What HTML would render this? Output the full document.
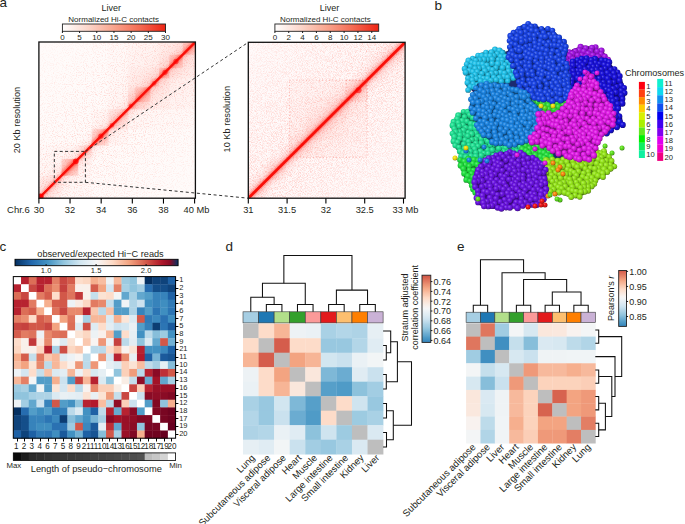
<!DOCTYPE html>
<html><head><meta charset="utf-8"><style>
html,body{margin:0;padding:0;background:#fff;}
body{width:685px;height:524px;overflow:hidden;}
svg{display:block;font-family:"Liberation Sans", sans-serif;}
</style></head><body>
<svg width="685" height="524" viewBox="0 0 685 524">
<text x="-0.60" y="7.20" font-size="13.5" text-anchor="start" fill="#231f20" >a</text>
<text x="434.60" y="9.90" font-size="13.5" text-anchor="start" fill="#231f20" >b</text>
<text x="-0.40" y="251.00" font-size="13.5" text-anchor="start" fill="#231f20" >c</text>
<text x="225.40" y="250.80" font-size="13.5" text-anchor="start" fill="#231f20" >d</text>
<text x="457.00" y="250.90" font-size="13.5" text-anchor="start" fill="#231f20" >e</text>
<clipPath id="clipL"><rect x="38.9" y="42.0" width="156.5" height="156.2"/></clipPath>
<filter id="nzL" x="0" y="0" width="100%" height="100%" filterUnits="objectBoundingBox"><feTurbulence type="fractalNoise" baseFrequency="0.9" numOctaves="2" seed="5" result="t"/><feColorMatrix in="t" type="matrix" values="0 0 0 0 1  0 0 0 0 0.25  0 0 0 0 0.2  1.6 0 0 0 -0.78"/></filter>
<linearGradient id="tgL" x1="0" y1="0" x2="1" y2="1"><stop offset="0" stop-color="#ff2a10" stop-opacity="0.2"/><stop offset="0.3" stop-color="#ff2a10" stop-opacity="0.45"/><stop offset="0.5" stop-color="#ff2a10" stop-opacity="1"/><stop offset="0.7" stop-color="#ff2a10" stop-opacity="0.45"/><stop offset="1" stop-color="#ff2a10" stop-opacity="0.2"/></linearGradient>
<g clip-path="url(#clipL)">
<rect x="38.9" y="42.0" width="156.5" height="156.2" fill="#fffbfa"/>
<rect x="38.90" y="145.36" width="52.94" height="52.84" fill="url(#tgL)" fill-opacity="0.04"/>
<rect x="127.65" y="41.24" width="68.51" height="68.38" fill="url(#tgL)" fill-opacity="0.06"/>
<rect x="38.90" y="175.67" width="22.58" height="22.53" fill="url(#tgL)" fill-opacity="0.09"/>
<rect x="107.41" y="41.24" width="88.75" height="88.58" fill="url(#tgL)" fill-opacity="0.03"/>
<rect x="127.65" y="67.66" width="42.04" height="41.96" fill="url(#tgL)" fill-opacity="0.05"/>
<rect x="158.79" y="41.24" width="37.37" height="37.30" fill="url(#tgL)" fill-opacity="0.07"/>
<rect x="91.68" y="109.00" width="36.59" height="36.52" fill="url(#tgL)" fill-opacity="0.05"/>
<rect x="61.48" y="158.88" width="16.82" height="16.78" fill="url(#tgL)" fill-opacity="0.5"/>
<rect x="66.15" y="159.35" width="11.68" height="11.66" fill="url(#tgL)" fill-opacity="0.15"/>
<rect x="70.82" y="159.35" width="7.01" height="6.99" fill="url(#tgL)" fill-opacity="0.18"/>
<rect x="78.29" y="145.52" width="13.39" height="13.36" fill="url(#tgL)" fill-opacity="0.12"/>
<rect x="91.68" y="128.74" width="16.82" height="16.78" fill="url(#tgL)" fill-opacity="0.38"/>
<rect x="96.51" y="129.82" width="10.90" height="10.88" fill="url(#tgL)" fill-opacity="0.15"/>
<rect x="108.50" y="109.00" width="19.77" height="19.74" fill="url(#tgL)" fill-opacity="0.12"/>
<rect x="128.27" y="87.55" width="21.49" height="21.45" fill="url(#tgL)" fill-opacity="0.12"/>
<rect x="135.28" y="86.78" width="15.26" height="15.23" fill="url(#tgL)" fill-opacity="0.32"/>
<rect x="128.27" y="101.85" width="7.16" height="7.15" fill="url(#tgL)" fill-opacity="0.18"/>
<rect x="150.23" y="78.23" width="8.87" height="8.86" fill="url(#tgL)" fill-opacity="0.26"/>
<rect x="159.10" y="68.13" width="10.12" height="10.10" fill="url(#tgL)" fill-opacity="0.42"/>
<rect x="169.22" y="54.61" width="13.55" height="13.52" fill="url(#tgL)" fill-opacity="0.42"/>
<rect x="182.77" y="41.24" width="13.39" height="13.36" fill="url(#tgL)" fill-opacity="0.38"/>
<linearGradient id="mgL" x1="0" y1="0" x2="1" y2="1"><stop offset="0" stop-color="#fff" stop-opacity="0.12"/><stop offset="0.5" stop-color="#fff" stop-opacity="1"/><stop offset="1" stop-color="#fff" stop-opacity="0.12"/></linearGradient>
<mask id="mkL" maskUnits="userSpaceOnUse" x="38.9" y="42.0" width="156.5" height="156.2"><rect x="38.9" y="42.0" width="156.5" height="156.2" fill="url(#mgL)"/></mask>
<g mask="url(#mkL)"><rect x="38.9" y="42.0" width="156.5" height="156.2" fill="#f00" filter="url(#nzL)" opacity="0.7"/></g>
<g transform="translate(117.15 120.10) rotate(-44.945)">
<linearGradient id="bgL" x1="0" y1="-14" x2="0" y2="14" gradientUnits="userSpaceOnUse"><stop offset="0.0000" stop-color="#ff1a10" stop-opacity="0"/><stop offset="0.1786" stop-color="#ff1a10" stop-opacity="0.018"/><stop offset="0.3214" stop-color="#ff1a10" stop-opacity="0.045"/><stop offset="0.3929" stop-color="#ff1a10" stop-opacity="0.11"/><stop offset="0.4464" stop-color="#ff1a10" stop-opacity="0.3"/><stop offset="0.4679" stop-color="#ff1a10" stop-opacity="0.85"/><stop offset="0.5000" stop-color="#ff1a10" stop-opacity="1"/><stop offset="0.5321" stop-color="#ff1a10" stop-opacity="0.85"/><stop offset="0.5536" stop-color="#ff1a10" stop-opacity="0.3"/><stop offset="0.6071" stop-color="#ff1a10" stop-opacity="0.11"/><stop offset="0.6786" stop-color="#ff1a10" stop-opacity="0.045"/><stop offset="0.8214" stop-color="#ff1a10" stop-opacity="0.018"/><stop offset="1.0000" stop-color="#ff1a10" stop-opacity="0"/></linearGradient>
<rect x="-115.56" y="-14" width="231.11" height="28" fill="url(#bgL)"/>
<rect x="-115.56" y="-0.90" width="231.11" height="1.80" fill="#f8100a"/>
</g>
<circle cx="40.46" cy="196.65" r="3.2" fill="#ff0000" fill-opacity="0.9"/>
<circle cx="75.80" cy="161.37" r="2.8" fill="#ff0000" fill-opacity="0.75"/>
<circle cx="100.87" cy="136.04" r="2.6" fill="#ff0000" fill-opacity="0.6"/>
<circle cx="111.92" cy="125.32" r="2.2" fill="#ff0000" fill-opacity="0.5"/>
<circle cx="130.76" cy="105.74" r="2.0" fill="#ff0000" fill-opacity="0.5"/>
<circle cx="154.12" cy="83.20" r="2.2" fill="#ff0000" fill-opacity="0.45"/>
<circle cx="165.02" cy="72.32" r="2.6" fill="#ff0000" fill-opacity="0.55"/>
<circle cx="175.92" cy="61.45" r="2.6" fill="#ff0000" fill-opacity="0.55"/>
</g>
<rect x="38.9" y="42.0" width="156.5" height="156.2" fill="none" stroke="#111" stroke-width="1.3" />
<clipPath id="clipR"><rect x="248.3" y="42.3" width="156.8" height="155.89999999999998"/></clipPath>
<filter id="nzR" x="0" y="0" width="100%" height="100%" filterUnits="objectBoundingBox"><feTurbulence type="fractalNoise" baseFrequency="1.2" numOctaves="2" seed="9" result="t"/><feColorMatrix in="t" type="matrix" values="0 0 0 0 1  0 0 0 0 0.25  0 0 0 0 0.2  1.5 0 0 0 -0.62"/></filter>
<linearGradient id="tgR" x1="0" y1="0" x2="1" y2="1"><stop offset="0" stop-color="#ff2a10" stop-opacity="0.2"/><stop offset="0.3" stop-color="#ff2a10" stop-opacity="0.45"/><stop offset="0.5" stop-color="#ff2a10" stop-opacity="1"/><stop offset="0.7" stop-color="#ff2a10" stop-opacity="0.45"/><stop offset="1" stop-color="#ff2a10" stop-opacity="0.2"/></linearGradient>
<g clip-path="url(#clipR)">
<rect x="248.3" y="42.3" width="156.8" height="155.89999999999998" fill="#fffafa"/>
<rect x="248.30" y="178.91" width="19.40" height="19.29" fill="url(#tgR)" fill-opacity="0.04"/>
<rect x="266.15" y="160.39" width="20.18" height="20.06" fill="url(#tgR)" fill-opacity="0.08"/>
<rect x="289.43" y="80.15" width="77.60" height="77.15" fill="url(#tgR)" fill-opacity="0.065"/>
<rect x="306.50" y="97.90" width="42.68" height="42.44" fill="url(#tgR)" fill-opacity="0.04"/>
<rect x="346.08" y="80.15" width="20.95" height="20.83" fill="url(#tgR)" fill-opacity="0.12"/>
<rect x="367.03" y="40.03" width="40.35" height="40.12" fill="url(#tgR)" fill-opacity="0.03"/>
<linearGradient id="mgR" x1="0" y1="0" x2="1" y2="1"><stop offset="0" stop-color="#fff" stop-opacity="0.3"/><stop offset="0.5" stop-color="#fff" stop-opacity="1"/><stop offset="1" stop-color="#fff" stop-opacity="0.3"/></linearGradient>
<mask id="mkR" maskUnits="userSpaceOnUse" x="248.3" y="42.3" width="156.8" height="155.89999999999998"><rect x="248.3" y="42.3" width="156.8" height="155.89999999999998" fill="url(#mgR)"/></mask>
<g mask="url(#mkR)"><rect x="248.3" y="42.3" width="156.8" height="155.89999999999998" fill="#f00" filter="url(#nzR)" opacity="0.75"/></g>
<g transform="translate(326.70 120.25) rotate(-44.835)">
<linearGradient id="bgR" x1="0" y1="-14" x2="0" y2="14" gradientUnits="userSpaceOnUse"><stop offset="0.0000" stop-color="#ff1a10" stop-opacity="0"/><stop offset="0.2143" stop-color="#ff1a10" stop-opacity="0.04"/><stop offset="0.3214" stop-color="#ff1a10" stop-opacity="0.1"/><stop offset="0.3929" stop-color="#ff1a10" stop-opacity="0.22"/><stop offset="0.4393" stop-color="#ff1a10" stop-opacity="0.45"/><stop offset="0.4661" stop-color="#ff1a10" stop-opacity="0.9"/><stop offset="0.5000" stop-color="#ff1a10" stop-opacity="1"/><stop offset="0.5339" stop-color="#ff1a10" stop-opacity="0.9"/><stop offset="0.5607" stop-color="#ff1a10" stop-opacity="0.45"/><stop offset="0.6071" stop-color="#ff1a10" stop-opacity="0.22"/><stop offset="0.6786" stop-color="#ff1a10" stop-opacity="0.1"/><stop offset="0.7857" stop-color="#ff1a10" stop-opacity="0.04"/><stop offset="1.0000" stop-color="#ff1a10" stop-opacity="0"/></linearGradient>
<rect x="-115.56" y="-14" width="231.11" height="28" fill="url(#bgR)"/>
<rect x="-115.56" y="-1.15" width="231.11" height="2.30" fill="#f8100a"/>
</g>
<circle cx="358.49" cy="90.18" r="3.0" fill="#ff0000" fill-opacity="0.55"/>
<circle cx="302.62" cy="144.19" r="1.5" fill="#ff0000" fill-opacity="0.3"/>
</g>
<rect x="248.3" y="42.3" width="156.8" height="155.89999999999998" fill="none" stroke="#111" stroke-width="1.3" />
<rect x="289.43" y="80.15" width="77.60" height="77.15" fill="none" stroke="#f45040" stroke-width="0.9" stroke-opacity="0.45" stroke-dasharray="0.9 2.4"/>
<rect x="346.08" y="80.15" width="20.95" height="20.83" fill="none" stroke="#f45040" stroke-width="0.9" stroke-opacity="0.45" stroke-dasharray="0.9 2.4"/>
<defs><linearGradient id="hcg" x1="0" x2="1" y1="0" y2="0"><stop offset="0" stop-color="#ffffff"/><stop offset="0.25" stop-color="#fcd6ca"/><stop offset="0.5" stop-color="#f9a48d"/><stop offset="0.75" stop-color="#f46a52"/><stop offset="1" stop-color="#ee2414"/></linearGradient></defs>
<rect x="62.40" y="24.00" width="103.10" height="7.30" fill="url(#hcg)" stroke="#222" stroke-width="0.9"/>
<line x1="62.40" y1="31.30" x2="62.40" y2="33.00" stroke="#000" stroke-width="0.9" />
<text x="62.40" y="39.80" font-size="8" text-anchor="middle" fill="#231f20" >0</text>
<line x1="79.58" y1="31.30" x2="79.58" y2="33.00" stroke="#000" stroke-width="0.9" />
<text x="79.58" y="39.80" font-size="8" text-anchor="middle" fill="#231f20" >5</text>
<line x1="96.77" y1="31.30" x2="96.77" y2="33.00" stroke="#000" stroke-width="0.9" />
<text x="96.77" y="39.80" font-size="8" text-anchor="middle" fill="#231f20" >10</text>
<line x1="113.95" y1="31.30" x2="113.95" y2="33.00" stroke="#000" stroke-width="0.9" />
<text x="113.95" y="39.80" font-size="8" text-anchor="middle" fill="#231f20" >15</text>
<line x1="131.13" y1="31.30" x2="131.13" y2="33.00" stroke="#000" stroke-width="0.9" />
<text x="131.13" y="39.80" font-size="8" text-anchor="middle" fill="#231f20" >20</text>
<line x1="148.32" y1="31.30" x2="148.32" y2="33.00" stroke="#000" stroke-width="0.9" />
<text x="148.32" y="39.80" font-size="8" text-anchor="middle" fill="#231f20" >25</text>
<line x1="165.50" y1="31.30" x2="165.50" y2="33.00" stroke="#000" stroke-width="0.9" />
<text x="165.50" y="39.80" font-size="8" text-anchor="middle" fill="#231f20" >30</text>
<text x="111.30" y="10.90" font-size="9" text-anchor="middle" fill="#231f20" >Liver</text>
<text x="113.70" y="22.00" font-size="8" text-anchor="middle" fill="#231f20" >Normalized Hi-C contacts</text>
<rect x="274.90" y="24.00" width="103.80" height="7.30" fill="url(#hcg)" stroke="#222" stroke-width="0.9"/>
<line x1="274.90" y1="31.30" x2="274.90" y2="33.00" stroke="#000" stroke-width="0.9" />
<text x="274.90" y="39.80" font-size="8" text-anchor="middle" fill="#231f20" >0</text>
<line x1="288.74" y1="31.30" x2="288.74" y2="33.00" stroke="#000" stroke-width="0.9" />
<text x="288.74" y="39.80" font-size="8" text-anchor="middle" fill="#231f20" >2</text>
<line x1="302.58" y1="31.30" x2="302.58" y2="33.00" stroke="#000" stroke-width="0.9" />
<text x="302.58" y="39.80" font-size="8" text-anchor="middle" fill="#231f20" >4</text>
<line x1="316.42" y1="31.30" x2="316.42" y2="33.00" stroke="#000" stroke-width="0.9" />
<text x="316.42" y="39.80" font-size="8" text-anchor="middle" fill="#231f20" >6</text>
<line x1="330.26" y1="31.30" x2="330.26" y2="33.00" stroke="#000" stroke-width="0.9" />
<text x="330.26" y="39.80" font-size="8" text-anchor="middle" fill="#231f20" >8</text>
<line x1="344.10" y1="31.30" x2="344.10" y2="33.00" stroke="#000" stroke-width="0.9" />
<text x="344.10" y="39.80" font-size="8" text-anchor="middle" fill="#231f20" >10</text>
<line x1="357.94" y1="31.30" x2="357.94" y2="33.00" stroke="#000" stroke-width="0.9" />
<text x="357.94" y="39.80" font-size="8" text-anchor="middle" fill="#231f20" >12</text>
<line x1="371.78" y1="31.30" x2="371.78" y2="33.00" stroke="#000" stroke-width="0.9" />
<text x="371.78" y="39.80" font-size="8" text-anchor="middle" fill="#231f20" >14</text>
<text x="329.50" y="10.90" font-size="9" text-anchor="middle" fill="#231f20" >Liver</text>
<text x="325.30" y="22.00" font-size="8" text-anchor="middle" fill="#231f20" >Normalized Hi-C contacts</text>
<line x1="38.90" y1="198.20" x2="38.90" y2="203.60" stroke="#000" stroke-width="1.1" />
<text x="38.90" y="213.00" font-size="9.3" text-anchor="middle" fill="#231f20" >30</text>
<line x1="70.04" y1="198.20" x2="70.04" y2="203.60" stroke="#000" stroke-width="1.1" />
<text x="70.04" y="213.00" font-size="9.3" text-anchor="middle" fill="#231f20" >32</text>
<line x1="101.18" y1="198.20" x2="101.18" y2="203.60" stroke="#000" stroke-width="1.1" />
<text x="101.18" y="213.00" font-size="9.3" text-anchor="middle" fill="#231f20" >34</text>
<line x1="132.32" y1="198.20" x2="132.32" y2="203.60" stroke="#000" stroke-width="1.1" />
<text x="132.32" y="213.00" font-size="9.3" text-anchor="middle" fill="#231f20" >36</text>
<line x1="163.46" y1="198.20" x2="163.46" y2="203.60" stroke="#000" stroke-width="1.1" />
<text x="163.46" y="213.00" font-size="9.3" text-anchor="middle" fill="#231f20" >38</text>
<line x1="194.60" y1="198.20" x2="194.60" y2="203.60" stroke="#000" stroke-width="1.1" />
<text x="196.50" y="213.00" font-size="9.3" text-anchor="middle" fill="#231f20" >40 Mb</text>
<text x="18.40" y="213.00" font-size="9.5" text-anchor="middle" fill="#231f20" >Chr.6</text>
<line x1="248.30" y1="198.20" x2="248.30" y2="203.60" stroke="#000" stroke-width="1.1" />
<text x="248.30" y="213.00" font-size="9.3" text-anchor="middle" fill="#231f20" >31</text>
<line x1="287.10" y1="198.20" x2="287.10" y2="203.60" stroke="#000" stroke-width="1.1" />
<text x="287.10" y="213.00" font-size="9.3" text-anchor="middle" fill="#231f20" >31.5</text>
<line x1="325.90" y1="198.20" x2="325.90" y2="203.60" stroke="#000" stroke-width="1.1" />
<text x="325.90" y="213.00" font-size="9.3" text-anchor="middle" fill="#231f20" >32</text>
<line x1="364.70" y1="198.20" x2="364.70" y2="203.60" stroke="#000" stroke-width="1.1" />
<text x="364.70" y="213.00" font-size="9.3" text-anchor="middle" fill="#231f20" >32.5</text>
<line x1="403.50" y1="198.20" x2="403.50" y2="203.60" stroke="#000" stroke-width="1.1" />
<text x="405.40" y="213.00" font-size="9.3" text-anchor="middle" fill="#231f20" >33 Mb</text>
<text font-size="9.2" fill="#231f20" text-anchor="middle" transform="translate(20.3 120.1) rotate(-90)">20 Kb resolution</text>
<text font-size="9.2" fill="#231f20" text-anchor="middle" transform="translate(230.0 119.2) rotate(-90)">10 Kb resolution</text>
<rect x="54.3" y="151.4" width="31.1" height="30.9" fill="none" stroke="#333" stroke-width="1" stroke-dasharray="3 2.4"/>
<line x1="85.4" y1="151.4" x2="248.3" y2="42.3" stroke="#333" stroke-width="1" stroke-dasharray="3 2.6"/>
<line x1="85.4" y1="182.3" x2="248.3" y2="198.2" stroke="#333" stroke-width="1" stroke-dasharray="3 2.6"/>
<defs><radialGradient id="sp_gap1" cx="0.42" cy="0.4" r="0.62" fx="0.38" fy="0.34"><stop offset="0" stop-color="#6ee373"/><stop offset="0.4" stop-color="#30d838"/><stop offset="0.8" stop-color="#27b12d"/><stop offset="1" stop-color="#186c1c"/></radialGradient><radialGradient id="sp_teal2" cx="0.42" cy="0.4" r="0.62" fx="0.38" fy="0.34"><stop offset="0" stop-color="#62e9b2"/><stop offset="0.4" stop-color="#20e092"/><stop offset="0.8" stop-color="#1ab777"/><stop offset="1" stop-color="#107049"/></radialGradient><radialGradient id="sp_gap2" cx="0.42" cy="0.4" r="0.62" fx="0.38" fy="0.34"><stop offset="0" stop-color="#68e979"/><stop offset="0.4" stop-color="#28e040"/><stop offset="0.8" stop-color="#20b734"/><stop offset="1" stop-color="#147020"/></radialGradient><radialGradient id="sp_purple" cx="0.42" cy="0.4" r="0.62" fx="0.38" fy="0.34"><stop offset="0" stop-color="#bf5bea"/><stop offset="0.4" stop-color="#a416e2"/><stop offset="0.8" stop-color="#8612b9"/><stop offset="1" stop-color="#520b71"/></radialGradient><radialGradient id="sp_navy" cx="0.42" cy="0.4" r="0.62" fx="0.38" fy="0.34"><stop offset="0" stop-color="#5e59e6"/><stop offset="0.4" stop-color="#1a12dc"/><stop offset="0.8" stop-color="#150eb4"/><stop offset="1" stop-color="#0d096e"/></radialGradient><radialGradient id="sp_cyan" cx="0.42" cy="0.4" r="0.62" fx="0.38" fy="0.34"><stop offset="0" stop-color="#64d4f0"/><stop offset="0.4" stop-color="#22c2ea"/><stop offset="0.8" stop-color="#1b9fbf"/><stop offset="1" stop-color="#116175"/></radialGradient><radialGradient id="sp_royal" cx="0.42" cy="0.4" r="0.62" fx="0.38" fy="0.34"><stop offset="0" stop-color="#5e7ced"/><stop offset="0.4" stop-color="#1a44e6"/><stop offset="0.8" stop-color="#1537bc"/><stop offset="1" stop-color="#0d2273"/></radialGradient><radialGradient id="sp_teal" cx="0.42" cy="0.4" r="0.62" fx="0.38" fy="0.34"><stop offset="0" stop-color="#62e9b2"/><stop offset="0.4" stop-color="#20e092"/><stop offset="0.8" stop-color="#1ab777"/><stop offset="1" stop-color="#107049"/></radialGradient><radialGradient id="sp_green" cx="0.42" cy="0.4" r="0.62" fx="0.38" fy="0.34"><stop offset="0" stop-color="#64e979"/><stop offset="0.4" stop-color="#22e040"/><stop offset="0.8" stop-color="#1bb734"/><stop offset="1" stop-color="#117020"/></radialGradient><radialGradient id="sp_mid" cx="0.42" cy="0.4" r="0.62" fx="0.38" fy="0.34"><stop offset="0" stop-color="#60a8ea"/><stop offset="0.4" stop-color="#1c84e2"/><stop offset="0.8" stop-color="#166cb9"/><stop offset="1" stop-color="#0e4271"/></radialGradient><radialGradient id="sp_ygreen" cx="0.42" cy="0.4" r="0.62" fx="0.38" fy="0.34"><stop offset="0" stop-color="#b5ed60"/><stop offset="0.4" stop-color="#96e61c"/><stop offset="0.8" stop-color="#7abc16"/><stop offset="1" stop-color="#4b730e"/></radialGradient><radialGradient id="sp_magenta" cx="0.42" cy="0.4" r="0.62" fx="0.38" fy="0.34"><stop offset="0" stop-color="#e960ed"/><stop offset="0.4" stop-color="#e01ce6"/><stop offset="0.8" stop-color="#b716bc"/><stop offset="1" stop-color="#700e73"/></radialGradient><radialGradient id="sp_violet" cx="0.42" cy="0.4" r="0.62" fx="0.38" fy="0.34"><stop offset="0" stop-color="#965aea"/><stop offset="0.4" stop-color="#6a14e2"/><stop offset="0.8" stop-color="#5610b9"/><stop offset="1" stop-color="#350a71"/></radialGradient><radialGradient id="sp_red" cx="0.42" cy="0.4" r="0.62" fx="0.38" fy="0.34"><stop offset="0" stop-color="#f45d5d"/><stop offset="0.4" stop-color="#f01818"/><stop offset="0.8" stop-color="#c41313"/><stop offset="1" stop-color="#780c0c"/></radialGradient><radialGradient id="sp_orange" cx="0.42" cy="0.4" r="0.62" fx="0.38" fy="0.34"><stop offset="0" stop-color="#faad57"/><stop offset="0.4" stop-color="#f88a10"/><stop offset="0.8" stop-color="#cb710d"/><stop offset="1" stop-color="#7c4508"/></radialGradient><radialGradient id="sp_yellow" cx="0.42" cy="0.4" r="0.62" fx="0.38" fy="0.34"><stop offset="0" stop-color="#f4e957"/><stop offset="0.4" stop-color="#f0e010"/><stop offset="0.8" stop-color="#c4b70d"/><stop offset="1" stop-color="#787008"/></radialGradient><radialGradient id="sp_lgreen" cx="0.42" cy="0.4" r="0.62" fx="0.38" fy="0.34"><stop offset="0" stop-color="#8fe962"/><stop offset="0.4" stop-color="#60e020"/><stop offset="0.8" stop-color="#4eb71a"/><stop offset="1" stop-color="#307010"/></radialGradient><radialGradient id="sp_cyan2" cx="0.42" cy="0.4" r="0.62" fx="0.38" fy="0.34"><stop offset="0" stop-color="#64d4f0"/><stop offset="0.4" stop-color="#22c2ea"/><stop offset="0.8" stop-color="#1b9fbf"/><stop offset="1" stop-color="#116175"/></radialGradient><radialGradient id="sp_mid2" cx="0.42" cy="0.4" r="0.62" fx="0.38" fy="0.34"><stop offset="0" stop-color="#60a8ea"/><stop offset="0.4" stop-color="#1c84e2"/><stop offset="0.8" stop-color="#166cb9"/><stop offset="1" stop-color="#0e4271"/></radialGradient></defs>
<polygon points="453.8,133.0 455.5,145.1 459.9,150.8 460.3,151.4 460.6,152.1 460.9,152.7 461.1,153.4 461.3,154.1 461.6,156.5 461.7,157.2 461.7,157.9 461.6,158.5 461.5,159.2 461.3,159.9 461.2,160.1 462.8,165.1 462.9,165.4 466.3,177.6 473.2,186.2 473.6,186.7 476.8,191.4 477.1,192.0 477.4,192.5 477.6,193.1 477.7,193.7 477.9,194.3 479.0,202.6 486.8,206.5 504.4,207.4 522.3,205.6 522.4,205.6 536.2,203.8 543.2,197.0 543.6,195.0 543.8,194.3 544.1,193.7 544.4,193.1 544.7,192.5 545.1,192.0 545.6,191.5 546.1,191.1 546.7,190.7 547.2,190.4 547.9,190.1 548.5,189.9 549.2,189.7 549.8,189.6 550.5,189.6 551.2,189.6 551.8,189.7 558.2,191.0 559.1,191.2 569.5,194.8 569.6,194.8 576.1,196.4 582.5,193.2 591.1,186.2 596.0,179.8 596.5,179.2 597.1,178.6 597.7,178.2 607.7,171.6 613.0,165.4 610.9,159.7 604.4,153.2 602.4,152.9 601.8,152.8 601.1,152.6 600.5,152.3 599.9,152.0 599.3,151.6 598.7,151.2 598.3,150.7 597.8,150.2 597.4,149.6 597.1,149.0 596.8,148.3 596.6,147.7 596.5,147.0 596.4,146.3 596.4,145.6 596.5,144.9 596.6,144.3 596.8,143.6 598.7,138.6 599.0,137.9 599.3,137.3 599.7,136.7 600.2,136.1 600.7,135.6 603.3,133.4 604.0,132.9 610.9,128.2 611.5,127.9 612.0,127.6 612.6,127.4 621.2,124.5 620.1,117.8 618.5,115.9 618.1,115.3 617.8,114.7 617.5,114.1 617.3,113.4 617.1,112.8 617.0,112.1 617.0,111.4 617.0,110.7 617.1,110.0 617.3,109.4 617.6,108.7 617.9,108.1 619.8,104.5 619.9,104.4 623.2,96.0 621.6,84.1 616.3,73.7 610.4,66.5 610.0,66.0 609.6,65.4 609.3,64.8 609.1,64.1 608.9,63.5 608.8,62.8 608.8,62.4 602.1,53.3 595.6,49.1 583.8,47.4 573.5,50.9 573.2,50.9 573.1,51.0 572.5,51.2 571.8,51.3 571.1,51.4 570.5,51.4 569.8,51.4 569.1,51.3 568.5,51.1 567.9,50.8 567.2,50.5 566.7,50.2 566.1,49.8 565.7,49.3 565.2,48.8 564.8,48.3 564.5,47.7 564.2,47.1 564.0,46.4 563.8,45.8 563.5,44.4 558.6,37.7 550.1,31.0 540.4,29.4 539.7,29.3 539.1,29.1 538.5,28.8 532.5,26.0 526.5,25.6 521.8,27.2 516.4,31.4 511.8,37.1 510.9,45.6 510.7,46.3 510.6,46.9 510.3,47.6 510.0,48.2 509.6,48.8 509.2,49.3 508.8,49.8 508.2,50.3 507.7,50.7 507.1,51.0 506.4,51.3 505.8,51.5 505.1,51.7 504.4,51.8 503.7,51.8 503.0,51.7 497.3,51.0 488.6,52.8 488.5,52.9 480.9,54.8 475.4,59.3 474.9,59.6 474.3,59.9 473.8,60.2 467.2,63.1 466.1,69.9 468.7,78.0 468.8,78.6 469.0,79.2 469.0,79.8 469.0,80.5 468.9,81.1 468.8,81.7 468.1,84.9 469.6,89.2 469.7,89.2 470.3,89.5 470.9,89.9 471.4,90.3 471.9,90.7 472.4,91.2 472.8,91.8 473.2,92.3 473.5,93.0 473.7,93.6 473.9,94.2 474.0,94.9 474.0,95.6 474.0,96.3 473.9,96.9 473.7,97.6 473.5,98.2 472.0,102.2 471.5,106.7 471.3,107.4 471.2,108.0 470.9,108.7 470.6,109.3 470.2,109.9 469.8,110.5 469.3,111.0 468.7,111.5 468.2,111.9 467.5,112.2 466.9,112.5 466.2,112.7 465.5,112.8 464.8,112.9 463.0,113.0 458.9,118.0 458.9,118.1 454.0,124.7 453.8,133.0" fill="#1c2a70"/>
<polygon points="533.0,98.0 568.0,98.0 575.0,110.0 565.0,122.0 540.0,122.0 532.0,110.0" fill="#1a761e"/>
<g fill="url(#sp_gap1)"><circle cx="542.0" cy="98.2" r="2.91"/><circle cx="546.4" cy="98.3" r="2.83"/><circle cx="551.0" cy="98.5" r="3.08"/><circle cx="565.4" cy="98.8" r="2.79"/><circle cx="535.8" cy="99.1" r="3.02"/><circle cx="556.0" cy="99.5" r="2.93"/><circle cx="559.9" cy="101.0" r="2.78"/><circle cx="567.2" cy="101.9" r="3.00"/><circle cx="547.2" cy="102.1" r="2.77"/><circle cx="540.8" cy="102.3" r="2.97"/><circle cx="536.9" cy="102.6" r="2.78"/><circle cx="532.8" cy="102.6" r="2.80"/><circle cx="551.5" cy="102.7" r="2.96"/><circle cx="556.9" cy="103.4" r="3.16"/><circle cx="571.3" cy="103.7" r="2.81"/><circle cx="543.7" cy="104.5" r="2.86"/><circle cx="563.0" cy="104.9" r="3.06"/><circle cx="548.4" cy="105.4" r="3.22"/><circle cx="540.0" cy="105.9" r="3.04"/><circle cx="554.7" cy="106.2" r="2.95"/><circle cx="535.7" cy="106.3" r="3.24"/><circle cx="568.7" cy="106.7" r="2.77"/><circle cx="558.5" cy="106.9" r="3.18"/><circle cx="532.2" cy="107.5" r="2.89"/><circle cx="572.3" cy="107.6" r="2.82"/><circle cx="544.0" cy="108.1" r="2.81"/><circle cx="563.5" cy="108.4" r="2.90"/><circle cx="538.3" cy="108.9" r="3.16"/><circle cx="548.9" cy="109.0" r="2.84"/><circle cx="554.1" cy="109.8" r="3.04"/><circle cx="570.0" cy="110.3" r="3.07"/><circle cx="566.4" cy="110.8" r="2.94"/><circle cx="573.6" cy="111.0" r="3.02"/><circle cx="557.0" cy="111.8" r="2.78"/><circle cx="562.5" cy="112.0" r="2.78"/><circle cx="544.5" cy="112.2" r="2.85"/><circle cx="534.2" cy="112.3" r="3.09"/><circle cx="539.4" cy="112.3" r="2.96"/><circle cx="551.3" cy="113.3" r="2.91"/><circle cx="565.1" cy="114.9" r="3.04"/><circle cx="558.2" cy="115.2" r="2.98"/><circle cx="554.6" cy="115.3" r="2.90"/><circle cx="569.0" cy="115.9" r="3.15"/><circle cx="539.1" cy="116.1" r="3.10"/><circle cx="545.3" cy="116.4" r="2.87"/><circle cx="550.5" cy="116.9" r="3.04"/><circle cx="562.5" cy="118.7" r="3.01"/><circle cx="567.0" cy="119.4" r="3.19"/><circle cx="549.7" cy="120.3" r="3.11"/><circle cx="545.1" cy="120.5" r="2.89"/><circle cx="541.1" cy="120.9" r="3.24"/><circle cx="558.9" cy="121.1" r="2.81"/><circle cx="555.3" cy="121.4" r="2.96"/></g>
<polygon points="478.0,138.0 500.0,144.0 520.0,146.0 536.0,148.0 536.0,158.0 510.0,156.0 485.0,158.0 475.0,150.0" fill="#117b50"/>
<g fill="url(#sp_teal2)"><circle cx="478.4" cy="138.1" r="2.86"/><circle cx="483.6" cy="141.6" r="3.23"/><circle cx="479.3" cy="141.9" r="2.81"/><circle cx="491.8" cy="141.9" r="3.10"/><circle cx="488.1" cy="142.4" r="2.79"/><circle cx="496.7" cy="143.4" r="2.87"/><circle cx="507.6" cy="144.9" r="3.25"/><circle cx="477.0" cy="144.9" r="2.85"/><circle cx="482.9" cy="145.3" r="3.07"/><circle cx="492.4" cy="145.9" r="2.98"/><circle cx="511.3" cy="146.1" r="2.98"/><circle cx="520.1" cy="146.8" r="3.00"/><circle cx="524.2" cy="146.8" r="2.85"/><circle cx="501.5" cy="147.1" r="3.17"/><circle cx="497.4" cy="147.4" r="2.79"/><circle cx="514.8" cy="147.5" r="2.87"/><circle cx="505.7" cy="147.9" r="2.76"/><circle cx="486.5" cy="148.3" r="2.88"/><circle cx="480.9" cy="148.8" r="2.95"/><circle cx="490.5" cy="149.0" r="3.20"/><circle cx="475.6" cy="149.3" r="2.94"/><circle cx="530.1" cy="149.5" r="2.81"/><circle cx="535.6" cy="150.0" r="2.88"/><circle cx="525.1" cy="150.3" r="3.25"/><circle cx="521.3" cy="150.7" r="2.78"/><circle cx="496.2" cy="150.8" r="3.06"/><circle cx="503.5" cy="151.3" r="2.94"/><circle cx="516.5" cy="151.3" r="3.08"/><circle cx="499.7" cy="151.4" r="2.92"/><circle cx="484.2" cy="151.7" r="3.10"/><circle cx="512.5" cy="151.7" r="3.00"/><circle cx="508.5" cy="151.8" r="3.07"/><circle cx="492.6" cy="151.8" r="3.20"/><circle cx="531.1" cy="153.1" r="3.04"/><circle cx="480.4" cy="153.4" r="2.82"/><circle cx="524.4" cy="153.8" r="2.78"/><circle cx="488.2" cy="153.9" r="3.22"/><circle cx="513.6" cy="155.1" r="2.99"/><circle cx="528.0" cy="155.1" r="2.85"/><circle cx="520.6" cy="155.2" r="3.22"/><circle cx="500.6" cy="155.2" r="3.04"/><circle cx="494.0" cy="155.4" r="3.11"/><circle cx="505.4" cy="155.5" r="3.19"/><circle cx="509.6" cy="155.6" r="2.89"/><circle cx="517.3" cy="156.4" r="2.93"/><circle cx="533.9" cy="156.5" r="3.19"/><circle cx="484.1" cy="157.1" r="2.82"/><circle cx="488.0" cy="157.4" r="3.13"/></g>
<polygon points="522.0,142.0 548.0,142.0 552.0,160.0 540.0,168.0 522.0,160.0" fill="#167b23"/>
<g fill="url(#sp_gap2)"><circle cx="526.5" cy="142.2" r="2.98"/><circle cx="536.8" cy="142.4" r="2.94"/><circle cx="522.6" cy="143.3" r="2.82"/><circle cx="548.0" cy="143.6" r="3.18"/><circle cx="533.4" cy="143.9" r="2.75"/><circle cx="542.8" cy="144.3" r="3.00"/><circle cx="529.4" cy="144.4" r="3.20"/><circle cx="525.6" cy="145.9" r="2.79"/><circle cx="537.6" cy="146.2" r="3.03"/><circle cx="545.2" cy="147.7" r="3.06"/><circle cx="533.3" cy="147.9" r="2.77"/><circle cx="541.3" cy="147.9" r="2.94"/><circle cx="548.9" cy="148.3" r="3.10"/><circle cx="529.5" cy="148.5" r="2.98"/><circle cx="522.2" cy="149.2" r="3.11"/><circle cx="525.9" cy="150.4" r="2.83"/><circle cx="536.2" cy="151.3" r="2.87"/><circle cx="540.2" cy="152.0" r="2.81"/><circle cx="548.5" cy="152.0" r="3.00"/><circle cx="532.6" cy="152.1" r="3.21"/><circle cx="543.8" cy="152.8" r="3.05"/><circle cx="528.6" cy="152.8" r="3.14"/><circle cx="535.3" cy="155.0" r="2.94"/><circle cx="546.7" cy="155.3" r="3.12"/><circle cx="523.3" cy="155.8" r="2.80"/><circle cx="550.8" cy="156.4" r="2.90"/><circle cx="530.4" cy="156.5" r="3.09"/><circle cx="540.5" cy="156.7" r="3.11"/><circle cx="544.3" cy="157.8" r="2.96"/><circle cx="526.4" cy="158.0" r="2.79"/><circle cx="522.5" cy="159.7" r="2.88"/><circle cx="532.0" cy="159.9" r="2.85"/><circle cx="541.1" cy="160.8" r="2.89"/><circle cx="548.4" cy="161.1" r="3.15"/><circle cx="537.3" cy="161.4" r="2.85"/><circle cx="525.7" cy="161.5" r="3.19"/><circle cx="544.7" cy="161.6" r="3.19"/><circle cx="528.9" cy="163.1" r="2.78"/><circle cx="533.4" cy="163.1" r="2.94"/><circle cx="542.1" cy="165.1" r="3.00"/><circle cx="536.3" cy="165.2" r="2.76"/><circle cx="539.3" cy="167.4" r="2.96"/></g>
<polygon points="563.6,56.3 572.7,49.0 583.6,45.4 596.3,47.2 603.5,51.8 610.8,61.7 600.0,66.0 580.0,66.0 568.0,66.0" fill="#5a0c7c"/>
<g fill="url(#sp_purple)"><circle cx="580.6" cy="46.8" r="3.04"/><circle cx="595.6" cy="47.1" r="2.96"/><circle cx="592.0" cy="47.9" r="3.04"/><circle cx="585.8" cy="48.2" r="2.85"/><circle cx="579.3" cy="50.4" r="3.16"/><circle cx="601.4" cy="50.6" r="3.16"/><circle cx="590.8" cy="51.2" r="3.08"/><circle cx="575.4" cy="51.2" r="2.83"/><circle cx="583.8" cy="51.4" r="3.01"/><circle cx="597.0" cy="51.4" r="2.91"/><circle cx="569.1" cy="52.1" r="2.87"/><circle cx="588.2" cy="53.6" r="3.23"/><circle cx="572.3" cy="53.8" r="3.25"/><circle cx="601.1" cy="54.1" r="2.77"/><circle cx="565.9" cy="54.7" r="3.18"/><circle cx="592.8" cy="55.2" r="3.05"/><circle cx="581.5" cy="55.2" r="2.94"/><circle cx="577.6" cy="55.3" r="2.89"/><circle cx="569.6" cy="56.2" r="3.09"/><circle cx="604.8" cy="56.6" r="2.98"/><circle cx="586.0" cy="56.6" r="3.09"/><circle cx="597.9" cy="56.7" r="3.08"/><circle cx="589.6" cy="57.7" r="2.82"/><circle cx="565.7" cy="58.7" r="3.13"/><circle cx="593.6" cy="58.8" r="3.24"/><circle cx="578.9" cy="59.1" r="3.23"/><circle cx="572.8" cy="59.1" r="3.06"/><circle cx="608.2" cy="59.5" r="2.77"/><circle cx="602.0" cy="59.8" r="2.75"/><circle cx="597.5" cy="60.5" r="2.82"/><circle cx="584.6" cy="60.8" r="3.22"/><circle cx="570.0" cy="61.4" r="2.90"/><circle cx="576.1" cy="62.0" r="2.93"/><circle cx="566.4" cy="62.4" r="3.20"/><circle cx="590.6" cy="62.4" r="2.91"/><circle cx="581.6" cy="63.7" r="3.02"/><circle cx="605.4" cy="63.8" r="2.97"/><circle cx="594.7" cy="64.1" r="2.78"/><circle cx="585.5" cy="64.6" r="3.04"/><circle cx="601.5" cy="65.0" r="3.17"/><circle cx="568.5" cy="65.2" r="2.83"/><circle cx="577.7" cy="65.3" r="2.86"/><circle cx="597.9" cy="65.6" r="2.96"/><circle cx="588.9" cy="65.6" r="2.77"/><circle cx="573.8" cy="65.7" r="3.00"/></g>
<polygon points="570.9,61.7 581.7,58.1 598.1,58.1 609.0,61.7 618.0,72.6 623.5,83.5 625.3,96.2 621.7,105.3 618.0,112.0 622.0,117.0 623.5,125.9 612.6,129.5 601.7,136.8 590.0,120.0 575.0,100.0 570.0,92.6 570.9,81.7 569.0,70.8" fill="#0e0979"/>
<g fill="url(#sp_navy)"><circle cx="586.5" cy="58.3" r="2.98"/><circle cx="581.6" cy="58.9" r="3.03"/><circle cx="594.9" cy="59.0" r="3.21"/><circle cx="591.3" cy="60.1" r="2.98"/><circle cx="577.4" cy="60.2" r="3.00"/><circle cx="601.6" cy="60.3" r="3.04"/><circle cx="605.8" cy="60.7" r="2.84"/><circle cx="572.7" cy="61.6" r="3.01"/><circle cx="585.6" cy="61.8" r="3.06"/><circle cx="609.1" cy="62.2" r="3.15"/><circle cx="580.3" cy="62.4" r="2.80"/><circle cx="595.5" cy="62.6" r="2.90"/><circle cx="599.4" cy="63.7" r="2.80"/><circle cx="591.0" cy="63.9" r="3.15"/><circle cx="604.2" cy="64.7" r="3.10"/><circle cx="577.2" cy="64.9" r="2.77"/><circle cx="582.8" cy="65.2" r="3.24"/><circle cx="572.8" cy="65.6" r="3.23"/><circle cx="608.3" cy="65.6" r="3.08"/><circle cx="597.1" cy="66.5" r="3.06"/><circle cx="593.3" cy="66.6" r="2.83"/><circle cx="588.8" cy="67.3" r="2.76"/><circle cx="579.9" cy="67.3" r="3.01"/><circle cx="570.1" cy="68.1" r="2.78"/><circle cx="605.1" cy="68.5" r="2.85"/><circle cx="614.5" cy="69.0" r="2.87"/><circle cx="584.9" cy="69.1" r="2.77"/><circle cx="601.4" cy="69.6" r="2.98"/><circle cx="610.9" cy="69.9" r="2.97"/><circle cx="596.1" cy="70.0" r="3.17"/><circle cx="592.2" cy="70.2" r="3.01"/><circle cx="577.2" cy="70.7" r="3.07"/><circle cx="580.9" cy="70.9" r="3.00"/><circle cx="573.1" cy="71.0" r="3.08"/><circle cx="587.6" cy="72.1" r="2.98"/><circle cx="617.5" cy="72.3" r="2.89"/><circle cx="598.8" cy="72.7" r="3.25"/><circle cx="607.2" cy="73.0" r="3.25"/><circle cx="569.6" cy="73.1" r="3.17"/><circle cx="613.6" cy="73.2" r="3.10"/><circle cx="594.0" cy="73.3" r="2.91"/><circle cx="602.3" cy="73.8" r="2.86"/><circle cx="578.4" cy="74.0" r="2.89"/><circle cx="584.5" cy="74.6" r="2.79"/><circle cx="573.8" cy="74.7" r="3.13"/><circle cx="610.2" cy="76.0" r="2.95"/><circle cx="619.5" cy="76.1" r="3.17"/><circle cx="570.2" cy="76.6" r="2.94"/><circle cx="589.0" cy="77.1" r="3.23"/><circle cx="614.8" cy="77.3" r="3.17"/><circle cx="603.3" cy="77.4" r="2.75"/><circle cx="582.0" cy="77.7" r="2.85"/><circle cx="577.4" cy="78.1" r="3.21"/><circle cx="599.2" cy="78.4" r="2.98"/><circle cx="607.6" cy="78.6" r="3.24"/><circle cx="594.4" cy="79.3" r="2.95"/><circle cx="572.2" cy="79.5" r="2.79"/><circle cx="585.3" cy="79.7" r="3.06"/><circle cx="619.4" cy="80.7" r="3.14"/><circle cx="598.8" cy="82.0" r="2.88"/><circle cx="603.5" cy="82.2" r="2.79"/><circle cx="613.9" cy="82.3" r="2.92"/><circle cx="609.5" cy="82.5" r="3.23"/><circle cx="587.2" cy="82.7" r="3.13"/><circle cx="571.6" cy="83.0" r="2.81"/><circle cx="582.4" cy="83.0" r="2.87"/><circle cx="578.9" cy="83.3" r="2.80"/><circle cx="591.0" cy="83.5" r="2.78"/><circle cx="600.8" cy="84.9" r="3.15"/><circle cx="596.4" cy="85.1" r="2.84"/><circle cx="621.0" cy="85.6" r="3.03"/><circle cx="604.6" cy="85.9" r="2.97"/><circle cx="576.5" cy="86.1" r="2.85"/><circle cx="580.4" cy="86.4" r="3.12"/><circle cx="609.0" cy="86.6" r="2.82"/><circle cx="592.8" cy="86.7" r="3.07"/><circle cx="616.8" cy="86.8" r="2.81"/><circle cx="586.3" cy="86.8" r="2.96"/><circle cx="571.2" cy="87.9" r="2.86"/><circle cx="624.1" cy="88.0" r="2.88"/><circle cx="613.1" cy="88.7" r="3.24"/><circle cx="596.8" cy="89.1" r="3.15"/><circle cx="600.7" cy="89.2" r="2.90"/><circle cx="589.1" cy="89.2" r="3.19"/><circle cx="606.2" cy="89.5" r="2.86"/><circle cx="578.1" cy="90.0" r="2.95"/><circle cx="592.6" cy="90.4" r="3.18"/><circle cx="621.2" cy="90.6" r="3.07"/><circle cx="583.2" cy="90.7" r="2.80"/><circle cx="609.5" cy="90.8" r="3.24"/><circle cx="572.5" cy="91.3" r="2.86"/><circle cx="603.2" cy="91.8" r="2.88"/><circle cx="615.9" cy="92.5" r="3.14"/><circle cx="624.6" cy="93.0" r="2.91"/><circle cx="576.9" cy="93.4" r="2.90"/><circle cx="611.9" cy="93.5" r="2.79"/><circle cx="596.3" cy="93.7" r="2.80"/><circle cx="592.1" cy="94.8" r="3.04"/><circle cx="588.2" cy="94.9" r="2.87"/><circle cx="584.1" cy="95.0" r="3.05"/><circle cx="601.2" cy="95.0" r="2.94"/><circle cx="621.3" cy="95.1" r="2.98"/><circle cx="573.2" cy="95.4" r="3.23"/><circle cx="579.7" cy="95.7" r="2.99"/><circle cx="608.4" cy="95.7" r="3.04"/><circle cx="604.8" cy="97.0" r="3.18"/><circle cx="611.8" cy="97.2" r="2.84"/><circle cx="595.5" cy="97.4" r="2.83"/><circle cx="575.4" cy="98.3" r="3.20"/><circle cx="583.2" cy="98.5" r="3.16"/><circle cx="622.5" cy="98.9" r="2.87"/><circle cx="616.3" cy="99.0" r="2.84"/><circle cx="579.1" cy="99.2" r="3.12"/><circle cx="587.0" cy="99.8" r="3.22"/><circle cx="599.8" cy="100.2" r="2.85"/><circle cx="609.2" cy="101.0" r="3.23"/><circle cx="612.9" cy="101.1" r="3.19"/><circle cx="591.9" cy="101.2" r="3.05"/><circle cx="596.6" cy="101.7" r="2.96"/><circle cx="583.2" cy="102.2" r="2.80"/><circle cx="579.1" cy="102.8" r="2.77"/><circle cx="622.2" cy="103.4" r="3.23"/><circle cx="588.2" cy="103.5" r="2.87"/><circle cx="600.3" cy="103.8" r="3.10"/><circle cx="617.5" cy="103.9" r="2.88"/><circle cx="604.3" cy="104.0" r="3.16"/><circle cx="612.2" cy="105.1" r="3.05"/><circle cx="585.0" cy="105.6" r="2.90"/><circle cx="591.5" cy="105.9" r="2.84"/><circle cx="581.6" cy="107.2" r="3.11"/><circle cx="604.0" cy="107.5" r="2.78"/><circle cx="609.4" cy="107.7" r="2.86"/><circle cx="599.8" cy="107.9" r="3.03"/><circle cx="595.2" cy="108.0" r="3.18"/><circle cx="613.9" cy="108.2" r="3.06"/><circle cx="618.2" cy="108.5" r="2.89"/><circle cx="587.6" cy="108.9" r="3.21"/><circle cx="583.9" cy="110.1" r="2.85"/><circle cx="603.3" cy="111.0" r="2.76"/><circle cx="592.5" cy="111.1" r="2.88"/><circle cx="607.5" cy="111.2" r="2.97"/><circle cx="598.1" cy="111.3" r="2.78"/><circle cx="616.4" cy="112.7" r="2.84"/><circle cx="611.2" cy="113.7" r="2.93"/><circle cx="587.6" cy="114.3" r="3.04"/><circle cx="604.2" cy="114.9" r="2.82"/><circle cx="598.4" cy="115.8" r="2.93"/><circle cx="619.1" cy="116.4" r="3.20"/><circle cx="592.5" cy="116.5" r="3.24"/><circle cx="607.7" cy="116.5" r="3.08"/><circle cx="615.6" cy="116.7" r="3.10"/><circle cx="612.1" cy="117.5" r="3.04"/><circle cx="595.6" cy="118.1" r="2.82"/><circle cx="601.5" cy="118.4" r="2.77"/><circle cx="589.5" cy="118.5" r="2.76"/><circle cx="606.6" cy="121.5" r="3.21"/><circle cx="619.6" cy="121.8" r="3.10"/><circle cx="602.2" cy="122.1" r="3.23"/><circle cx="592.6" cy="122.1" r="2.76"/><circle cx="598.5" cy="123.2" r="3.07"/><circle cx="614.1" cy="123.3" r="2.99"/><circle cx="622.7" cy="124.9" r="3.12"/><circle cx="611.8" cy="126.1" r="2.91"/><circle cx="603.8" cy="126.3" r="3.25"/><circle cx="607.8" cy="126.7" r="2.79"/><circle cx="616.9" cy="127.2" r="3.02"/><circle cx="595.1" cy="127.2" r="3.12"/><circle cx="598.7" cy="128.5" r="3.20"/><circle cx="602.5" cy="129.8" r="3.12"/><circle cx="610.9" cy="130.2" r="3.10"/><circle cx="606.7" cy="133.3" r="3.15"/><circle cx="600.8" cy="133.6" r="3.21"/></g>
<polygon points="465.4,61.7 473.6,58.1 480.0,53.0 488.1,50.9 497.2,49.0 504.4,49.9 508.0,56.0 511.7,63.6 517.2,74.4 515.3,79.9 505.0,83.0 495.0,83.0 478.0,85.0 468.1,90.8 466.0,85.0 467.2,79.9 464.0,70.0" fill="#126a80"/>
<g fill="url(#sp_cyan)"><circle cx="495.0" cy="49.6" r="2.99"/><circle cx="499.5" cy="50.6" r="3.08"/><circle cx="491.4" cy="52.3" r="3.08"/><circle cx="486.0" cy="52.5" r="2.82"/><circle cx="502.4" cy="52.8" r="2.76"/><circle cx="497.2" cy="53.9" r="2.94"/><circle cx="478.1" cy="55.6" r="2.89"/><circle cx="481.8" cy="55.8" r="3.16"/><circle cx="486.3" cy="56.0" r="3.10"/><circle cx="493.8" cy="56.0" r="3.05"/><circle cx="490.2" cy="56.0" r="3.03"/><circle cx="500.8" cy="56.6" r="3.08"/><circle cx="505.0" cy="56.6" r="2.82"/><circle cx="508.4" cy="57.7" r="2.97"/><circle cx="472.7" cy="58.6" r="2.83"/><circle cx="492.0" cy="59.5" r="3.20"/><circle cx="487.4" cy="59.7" r="2.78"/><circle cx="483.9" cy="59.7" r="3.16"/><circle cx="498.3" cy="59.7" r="2.79"/><circle cx="479.5" cy="60.0" r="3.09"/><circle cx="502.3" cy="60.1" r="2.92"/><circle cx="475.8" cy="60.5" r="2.95"/><circle cx="468.6" cy="60.7" r="3.17"/><circle cx="507.6" cy="61.6" r="2.76"/><circle cx="471.7" cy="62.8" r="2.78"/><circle cx="501.3" cy="63.5" r="3.21"/><circle cx="492.2" cy="63.6" r="3.00"/><circle cx="510.7" cy="63.6" r="2.80"/><circle cx="497.8" cy="63.9" r="3.24"/><circle cx="475.1" cy="64.0" r="3.22"/><circle cx="478.9" cy="64.0" r="2.81"/><circle cx="482.6" cy="64.1" r="2.96"/><circle cx="466.7" cy="64.2" r="2.82"/><circle cx="504.9" cy="65.0" r="2.91"/><circle cx="486.9" cy="65.2" r="3.06"/><circle cx="470.6" cy="66.5" r="2.83"/><circle cx="512.3" cy="66.9" r="3.10"/><circle cx="508.2" cy="67.5" r="2.78"/><circle cx="483.4" cy="67.6" r="2.84"/><circle cx="502.5" cy="67.9" r="3.16"/><circle cx="495.9" cy="67.9" r="2.95"/><circle cx="478.9" cy="68.4" r="2.96"/><circle cx="475.1" cy="68.7" r="3.05"/><circle cx="464.7" cy="68.7" r="2.99"/><circle cx="489.0" cy="68.9" r="2.94"/><circle cx="492.5" cy="69.8" r="2.77"/><circle cx="513.1" cy="70.5" r="3.11"/><circle cx="469.4" cy="70.9" r="3.23"/><circle cx="484.9" cy="71.2" r="3.24"/><circle cx="508.6" cy="71.4" r="3.08"/><circle cx="472.8" cy="71.8" r="2.93"/><circle cx="477.2" cy="71.9" r="2.93"/><circle cx="465.8" cy="72.5" r="3.10"/><circle cx="500.5" cy="72.5" r="3.09"/><circle cx="496.0" cy="73.0" r="2.81"/><circle cx="504.5" cy="73.1" r="2.87"/><circle cx="481.9" cy="73.6" r="2.93"/><circle cx="491.4" cy="73.7" r="3.01"/><circle cx="516.6" cy="74.6" r="3.16"/><circle cx="475.2" cy="74.8" r="3.00"/><circle cx="488.0" cy="75.0" r="2.76"/><circle cx="511.1" cy="75.7" r="3.16"/><circle cx="471.9" cy="76.6" r="2.97"/><circle cx="503.9" cy="76.7" r="3.01"/><circle cx="480.0" cy="77.2" r="2.86"/><circle cx="507.6" cy="77.2" r="2.96"/><circle cx="493.8" cy="77.4" r="2.94"/><circle cx="499.3" cy="77.9" r="3.14"/><circle cx="513.5" cy="78.2" r="2.80"/><circle cx="468.1" cy="78.3" r="3.02"/><circle cx="483.5" cy="78.3" r="2.84"/><circle cx="487.6" cy="78.6" r="3.10"/><circle cx="476.2" cy="78.7" r="2.77"/><circle cx="496.1" cy="80.0" r="2.89"/><circle cx="472.2" cy="80.1" r="2.92"/><circle cx="490.9" cy="80.8" r="3.07"/><circle cx="507.8" cy="81.0" r="2.78"/><circle cx="480.6" cy="81.1" r="2.98"/><circle cx="501.4" cy="81.4" r="2.85"/><circle cx="485.2" cy="81.8" r="2.89"/><circle cx="467.5" cy="82.7" r="2.99"/><circle cx="488.7" cy="83.6" r="3.23"/><circle cx="473.1" cy="83.7" r="2.99"/><circle cx="481.8" cy="84.5" r="3.23"/><circle cx="477.3" cy="84.9" r="2.83"/><circle cx="470.5" cy="86.9" r="3.21"/><circle cx="474.3" cy="87.1" r="2.93"/><circle cx="468.1" cy="90.0" r="2.84"/></g>
<polygon points="508.0,53.0 509.9,36.3 515.0,30.0 520.8,25.4 526.2,23.6 533.0,24.0 540.0,27.3 550.9,29.1 560.0,36.3 565.4,43.6 567.2,52.7 565.4,59.9 569.0,70.8 570.9,81.7 570.0,92.6 567.2,99.9 563.0,102.0 550.0,101.0 540.0,101.0 529.9,96.2 520.0,90.0 513.5,67.2 507.2,58.1" fill="#0e257e"/>
<g fill="url(#sp_royal)"><circle cx="528.2" cy="23.8" r="2.88"/><circle cx="534.8" cy="26.5" r="3.09"/><circle cx="531.3" cy="26.6" r="3.09"/><circle cx="524.6" cy="26.9" r="3.17"/><circle cx="541.5" cy="28.8" r="2.84"/><circle cx="519.2" cy="28.8" r="2.87"/><circle cx="528.4" cy="28.9" r="2.82"/><circle cx="547.9" cy="28.9" r="2.86"/><circle cx="531.6" cy="30.5" r="3.12"/><circle cx="552.4" cy="30.5" r="2.82"/><circle cx="536.4" cy="31.1" r="3.02"/><circle cx="525.3" cy="31.9" r="2.86"/><circle cx="517.2" cy="32.0" r="2.90"/><circle cx="513.6" cy="32.8" r="2.97"/><circle cx="543.5" cy="32.9" r="3.17"/><circle cx="520.9" cy="32.9" r="3.05"/><circle cx="553.7" cy="34.3" r="2.76"/><circle cx="538.0" cy="34.4" r="2.89"/><circle cx="549.1" cy="34.5" r="2.82"/><circle cx="529.3" cy="34.9" r="3.19"/><circle cx="534.3" cy="35.6" r="3.15"/><circle cx="510.5" cy="36.0" r="3.15"/><circle cx="517.1" cy="36.2" r="3.16"/><circle cx="525.5" cy="36.8" r="3.12"/><circle cx="541.5" cy="36.8" r="3.22"/><circle cx="545.3" cy="36.9" r="3.15"/><circle cx="551.5" cy="37.3" r="2.88"/><circle cx="555.4" cy="37.4" r="3.17"/><circle cx="559.1" cy="37.6" r="2.99"/><circle cx="521.5" cy="38.4" r="3.13"/><circle cx="512.9" cy="38.7" r="3.03"/><circle cx="534.1" cy="39.5" r="2.96"/><circle cx="516.3" cy="39.6" r="2.93"/><circle cx="530.1" cy="39.8" r="2.96"/><circle cx="509.6" cy="40.8" r="2.91"/><circle cx="554.5" cy="40.9" r="2.81"/><circle cx="525.5" cy="41.0" r="3.16"/><circle cx="540.2" cy="41.1" r="3.15"/><circle cx="563.7" cy="41.9" r="3.24"/><circle cx="521.6" cy="41.9" r="3.10"/><circle cx="559.8" cy="42.2" r="3.03"/><circle cx="548.8" cy="42.4" r="3.12"/><circle cx="543.8" cy="42.8" r="2.82"/><circle cx="534.9" cy="43.1" r="3.09"/><circle cx="511.8" cy="43.7" r="2.97"/><circle cx="515.6" cy="44.7" r="2.84"/><circle cx="539.5" cy="44.8" r="2.85"/><circle cx="551.1" cy="45.3" r="3.01"/><circle cx="562.2" cy="45.4" r="2.88"/><circle cx="554.8" cy="45.4" r="2.98"/><circle cx="546.8" cy="45.5" r="3.05"/><circle cx="530.0" cy="45.7" r="2.95"/><circle cx="558.5" cy="45.7" r="2.82"/><circle cx="526.0" cy="46.6" r="3.00"/><circle cx="565.8" cy="46.6" r="2.87"/><circle cx="509.8" cy="47.1" r="2.87"/><circle cx="535.3" cy="47.1" r="2.85"/><circle cx="519.3" cy="47.2" r="2.93"/><circle cx="538.7" cy="48.8" r="2.79"/><circle cx="522.8" cy="48.8" r="3.08"/><circle cx="542.7" cy="49.0" r="3.23"/><circle cx="561.2" cy="49.0" r="2.94"/><circle cx="515.8" cy="49.8" r="3.11"/><circle cx="529.8" cy="49.9" r="3.22"/><circle cx="533.3" cy="50.5" r="2.77"/><circle cx="565.4" cy="50.6" r="2.82"/><circle cx="546.8" cy="50.6" r="3.15"/><circle cx="519.5" cy="50.8" r="3.17"/><circle cx="552.6" cy="50.9" r="3.07"/><circle cx="511.9" cy="50.9" r="2.83"/><circle cx="557.6" cy="51.7" r="2.96"/><circle cx="526.2" cy="52.2" r="3.18"/><circle cx="563.7" cy="53.7" r="3.19"/><circle cx="536.1" cy="53.8" r="3.15"/><circle cx="509.6" cy="54.0" r="2.85"/><circle cx="529.2" cy="54.0" r="3.18"/><circle cx="551.0" cy="54.1" r="2.94"/><circle cx="540.5" cy="54.1" r="3.11"/><circle cx="545.4" cy="54.4" r="2.82"/><circle cx="512.9" cy="55.2" r="3.24"/><circle cx="559.0" cy="55.4" r="3.05"/><circle cx="532.6" cy="55.5" r="3.11"/><circle cx="524.3" cy="55.5" r="2.86"/><circle cx="516.2" cy="56.7" r="3.06"/><circle cx="520.4" cy="56.8" r="3.04"/><circle cx="536.6" cy="57.3" r="3.05"/><circle cx="508.5" cy="57.3" r="2.93"/><circle cx="551.1" cy="57.6" r="3.11"/><circle cx="555.9" cy="57.8" r="2.92"/><circle cx="526.9" cy="58.0" r="2.90"/><circle cx="547.0" cy="58.1" r="2.83"/><circle cx="541.8" cy="58.7" r="3.09"/><circle cx="563.6" cy="58.9" r="2.81"/><circle cx="530.4" cy="58.9" r="2.86"/><circle cx="511.3" cy="60.2" r="2.78"/><circle cx="559.2" cy="60.5" r="3.07"/><circle cx="549.5" cy="60.7" r="3.03"/><circle cx="516.9" cy="61.1" r="3.02"/><circle cx="535.4" cy="61.2" r="2.77"/><circle cx="524.7" cy="62.1" r="2.97"/><circle cx="552.9" cy="62.4" r="2.92"/><circle cx="563.0" cy="62.5" r="2.80"/><circle cx="546.0" cy="62.5" r="2.75"/><circle cx="541.5" cy="62.7" r="3.25"/><circle cx="529.3" cy="63.0" r="2.81"/><circle cx="521.3" cy="63.1" r="2.90"/><circle cx="566.5" cy="63.7" r="2.88"/><circle cx="537.9" cy="64.0" r="3.05"/><circle cx="549.2" cy="64.3" r="2.79"/><circle cx="517.5" cy="64.9" r="2.98"/><circle cx="559.9" cy="65.6" r="2.93"/><circle cx="513.2" cy="65.8" r="3.17"/><circle cx="541.0" cy="66.3" r="2.75"/><circle cx="525.5" cy="66.3" r="2.92"/><circle cx="529.8" cy="66.6" r="3.00"/><circle cx="553.6" cy="66.7" r="3.23"/><circle cx="545.3" cy="66.7" r="3.01"/><circle cx="535.4" cy="67.0" r="2.99"/><circle cx="566.9" cy="67.5" r="3.08"/><circle cx="549.1" cy="68.2" r="2.90"/><circle cx="562.4" cy="68.7" r="2.77"/><circle cx="519.4" cy="68.8" r="3.00"/><circle cx="557.6" cy="69.3" r="3.21"/><circle cx="539.4" cy="69.7" r="3.12"/><circle cx="552.0" cy="70.2" r="2.88"/><circle cx="526.6" cy="70.4" r="3.09"/><circle cx="522.2" cy="71.2" r="3.17"/><circle cx="542.5" cy="71.5" r="2.88"/><circle cx="532.0" cy="71.7" r="3.04"/><circle cx="515.8" cy="72.3" r="2.93"/><circle cx="566.1" cy="72.7" r="2.87"/><circle cx="545.7" cy="73.4" r="2.89"/><circle cx="538.7" cy="73.5" r="2.85"/><circle cx="554.3" cy="73.7" r="2.93"/><circle cx="561.3" cy="74.1" r="2.77"/><circle cx="549.1" cy="74.2" r="2.95"/><circle cx="528.2" cy="74.5" r="2.79"/><circle cx="521.5" cy="74.9" r="3.13"/><circle cx="541.9" cy="75.1" r="3.05"/><circle cx="532.9" cy="75.3" r="2.75"/><circle cx="517.3" cy="76.0" r="3.14"/><circle cx="568.5" cy="76.2" r="2.85"/><circle cx="564.5" cy="76.3" r="2.99"/><circle cx="552.3" cy="76.6" r="3.03"/><circle cx="555.8" cy="77.3" r="2.92"/><circle cx="548.8" cy="77.7" r="2.89"/><circle cx="559.5" cy="78.4" r="2.97"/><circle cx="536.3" cy="78.8" r="2.82"/><circle cx="540.8" cy="79.1" r="3.18"/><circle cx="522.9" cy="79.9" r="2.81"/><circle cx="567.2" cy="80.0" r="3.16"/><circle cx="528.8" cy="80.1" r="2.86"/><circle cx="553.8" cy="80.5" r="2.90"/><circle cx="532.8" cy="80.8" r="2.94"/><circle cx="545.0" cy="80.9" r="2.77"/><circle cx="563.8" cy="81.2" r="2.81"/><circle cx="518.8" cy="82.0" r="2.93"/><circle cx="560.2" cy="82.3" r="2.97"/><circle cx="538.5" cy="83.0" r="3.19"/><circle cx="556.3" cy="83.1" r="3.24"/><circle cx="522.5" cy="83.5" r="2.77"/><circle cx="551.1" cy="83.5" r="3.02"/><circle cx="567.9" cy="83.6" r="2.81"/><circle cx="530.2" cy="83.8" r="3.15"/><circle cx="547.0" cy="84.1" r="2.91"/><circle cx="534.5" cy="84.1" r="3.20"/><circle cx="564.3" cy="84.7" r="3.02"/><circle cx="525.9" cy="85.2" r="2.81"/><circle cx="540.5" cy="86.4" r="2.75"/><circle cx="519.6" cy="86.6" r="2.87"/><circle cx="558.6" cy="86.7" r="3.18"/><circle cx="552.5" cy="86.9" r="2.82"/><circle cx="568.8" cy="87.4" r="2.99"/><circle cx="533.8" cy="87.6" r="2.94"/><circle cx="546.3" cy="88.9" r="2.92"/><circle cx="556.0" cy="89.5" r="3.15"/><circle cx="528.0" cy="89.6" r="2.86"/><circle cx="565.2" cy="90.1" r="3.11"/><circle cx="560.3" cy="90.4" r="3.08"/><circle cx="521.3" cy="90.6" r="3.22"/><circle cx="535.4" cy="91.0" r="3.01"/><circle cx="531.2" cy="91.0" r="3.21"/><circle cx="540.3" cy="91.2" r="2.97"/><circle cx="568.5" cy="91.4" r="3.04"/><circle cx="549.8" cy="91.9" r="3.06"/><circle cx="545.3" cy="92.7" r="3.17"/><circle cx="556.0" cy="93.3" r="3.20"/><circle cx="525.7" cy="93.5" r="2.81"/><circle cx="564.0" cy="93.8" r="2.82"/><circle cx="560.0" cy="94.0" r="3.02"/><circle cx="552.5" cy="94.2" r="3.16"/><circle cx="538.0" cy="94.4" r="3.02"/><circle cx="548.0" cy="95.2" r="2.90"/><circle cx="531.9" cy="95.3" r="3.23"/><circle cx="567.2" cy="95.3" r="2.90"/><circle cx="541.5" cy="95.4" r="2.79"/><circle cx="534.4" cy="98.0" r="2.78"/><circle cx="565.1" cy="98.3" r="2.77"/><circle cx="556.6" cy="98.6" r="3.11"/><circle cx="538.9" cy="99.1" r="2.80"/><circle cx="548.8" cy="99.1" r="3.11"/><circle cx="543.5" cy="99.3" r="3.18"/><circle cx="560.7" cy="100.3" r="3.25"/><circle cx="552.3" cy="101.2" r="3.15"/></g>
<polygon points="457.3,116.8 452.0,124.0 451.8,133.1 453.6,145.9 459.1,153.1 460.9,165.8 470.0,168.0 480.0,160.0 490.0,152.0 500.0,148.0 482.7,135.0 477.2,125.9 473.6,115.0 469.0,110.7 462.0,111.0" fill="#117b50"/>
<g fill="url(#sp_teal)"><circle cx="463.6" cy="111.7" r="2.80"/><circle cx="467.8" cy="111.8" r="3.10"/><circle cx="469.7" cy="115.1" r="3.08"/><circle cx="458.4" cy="115.5" r="3.22"/><circle cx="464.6" cy="116.9" r="2.89"/><circle cx="472.7" cy="117.9" r="2.88"/><circle cx="457.2" cy="119.0" r="3.12"/><circle cx="462.2" cy="120.8" r="3.08"/><circle cx="466.9" cy="121.4" r="2.90"/><circle cx="453.7" cy="121.9" r="3.09"/><circle cx="458.2" cy="122.8" r="2.95"/><circle cx="470.9" cy="123.8" r="3.14"/><circle cx="474.5" cy="124.4" r="2.81"/><circle cx="463.1" cy="125.0" r="2.86"/><circle cx="452.8" cy="125.4" r="3.20"/><circle cx="459.2" cy="126.2" r="2.93"/><circle cx="465.9" cy="127.8" r="2.88"/><circle cx="471.0" cy="128.2" r="3.15"/><circle cx="475.1" cy="128.4" r="3.07"/><circle cx="454.3" cy="128.7" r="2.82"/><circle cx="478.5" cy="129.9" r="3.03"/><circle cx="463.4" cy="130.4" r="3.08"/><circle cx="459.5" cy="131.8" r="2.83"/><circle cx="455.7" cy="132.2" r="3.08"/><circle cx="468.3" cy="132.5" r="2.81"/><circle cx="475.7" cy="133.0" r="2.92"/><circle cx="481.3" cy="133.6" r="2.79"/><circle cx="452.5" cy="133.6" r="2.85"/><circle cx="471.7" cy="134.1" r="3.24"/><circle cx="463.5" cy="134.9" r="2.95"/><circle cx="460.0" cy="135.3" r="3.25"/><circle cx="467.8" cy="136.2" r="2.97"/><circle cx="477.8" cy="136.7" r="3.05"/><circle cx="454.4" cy="136.8" r="3.19"/><circle cx="484.7" cy="138.8" r="3.09"/><circle cx="481.1" cy="138.8" r="2.81"/><circle cx="459.6" cy="138.9" r="3.04"/><circle cx="475.5" cy="139.6" r="3.07"/><circle cx="471.9" cy="139.8" r="2.84"/><circle cx="465.0" cy="139.9" r="2.80"/><circle cx="453.8" cy="141.3" r="3.19"/><circle cx="491.2" cy="141.4" r="3.01"/><circle cx="487.6" cy="141.4" r="2.85"/><circle cx="468.6" cy="141.7" r="2.98"/><circle cx="457.6" cy="142.2" r="2.86"/><circle cx="481.3" cy="143.1" r="3.15"/><circle cx="475.9" cy="143.4" r="3.00"/><circle cx="463.7" cy="144.0" r="2.80"/><circle cx="494.0" cy="144.1" r="3.16"/><circle cx="490.4" cy="145.0" r="2.79"/><circle cx="469.0" cy="145.2" r="2.89"/><circle cx="455.2" cy="145.6" r="2.76"/><circle cx="473.1" cy="145.9" r="3.12"/><circle cx="478.0" cy="146.2" r="2.81"/><circle cx="485.1" cy="146.8" r="3.01"/><circle cx="458.9" cy="147.2" r="2.80"/><circle cx="498.7" cy="148.4" r="2.99"/><circle cx="464.5" cy="148.5" r="3.09"/><circle cx="468.2" cy="148.6" r="3.02"/><circle cx="474.7" cy="149.0" r="2.98"/><circle cx="487.4" cy="149.9" r="2.99"/><circle cx="492.3" cy="150.0" r="2.97"/><circle cx="480.4" cy="151.3" r="3.05"/><circle cx="470.5" cy="151.4" r="2.80"/><circle cx="459.9" cy="151.4" r="2.99"/><circle cx="475.9" cy="152.8" r="2.87"/><circle cx="463.2" cy="153.1" r="3.18"/><circle cx="466.8" cy="153.2" r="3.22"/><circle cx="483.9" cy="153.3" r="2.78"/><circle cx="488.1" cy="153.5" r="2.82"/><circle cx="481.2" cy="155.7" r="3.10"/><circle cx="471.0" cy="156.0" r="3.04"/><circle cx="461.0" cy="156.3" r="2.76"/><circle cx="475.8" cy="156.4" r="3.10"/><circle cx="465.9" cy="157.1" r="3.22"/><circle cx="474.1" cy="159.5" r="2.96"/><circle cx="480.3" cy="159.7" r="2.92"/><circle cx="460.4" cy="160.0" r="3.03"/><circle cx="470.4" cy="160.0" r="3.22"/><circle cx="465.6" cy="161.4" r="2.88"/><circle cx="477.1" cy="161.6" r="2.90"/><circle cx="472.3" cy="163.9" r="2.84"/><circle cx="463.6" cy="164.6" r="3.06"/><circle cx="468.6" cy="165.9" r="2.98"/></g>
<polygon points="459.0,160.0 460.9,165.8 464.5,178.5 471.8,187.6 475.4,193.0 480.0,190.0 482.0,170.0 478.0,160.0 470.0,158.0" fill="#127b23"/>
<g fill="url(#sp_green)"><circle cx="468.3" cy="159.1" r="3.23"/><circle cx="460.1" cy="159.9" r="2.76"/><circle cx="473.9" cy="159.9" r="3.12"/><circle cx="478.1" cy="160.3" r="2.83"/><circle cx="464.3" cy="161.5" r="3.24"/><circle cx="468.7" cy="162.7" r="2.76"/><circle cx="472.9" cy="163.7" r="3.19"/><circle cx="477.1" cy="164.4" r="3.09"/><circle cx="465.4" cy="164.9" r="3.18"/><circle cx="460.9" cy="165.5" r="3.25"/><circle cx="469.2" cy="166.2" r="2.87"/><circle cx="478.6" cy="167.9" r="2.92"/><circle cx="463.4" cy="168.8" r="3.10"/><circle cx="469.3" cy="170.1" r="2.89"/><circle cx="473.5" cy="170.3" r="2.88"/><circle cx="479.3" cy="171.5" r="2.86"/><circle cx="464.4" cy="173.4" r="3.18"/><circle cx="471.6" cy="173.8" r="3.19"/><circle cx="481.5" cy="174.3" r="3.15"/><circle cx="476.5" cy="175.1" r="2.86"/><circle cx="467.9" cy="176.1" r="3.21"/><circle cx="472.7" cy="177.3" r="3.01"/><circle cx="476.9" cy="178.9" r="2.87"/><circle cx="480.8" cy="179.8" r="2.98"/><circle cx="466.3" cy="179.9" r="2.96"/><circle cx="469.9" cy="181.1" r="2.79"/><circle cx="473.4" cy="182.2" r="3.03"/><circle cx="478.0" cy="182.7" r="2.93"/><circle cx="471.9" cy="185.4" r="3.03"/><circle cx="479.2" cy="186.3" r="3.22"/><circle cx="475.6" cy="186.5" r="3.07"/><circle cx="473.1" cy="189.2" r="2.95"/><circle cx="478.7" cy="190.0" r="3.18"/><circle cx="475.6" cy="192.6" r="3.25"/></g>
<polygon points="477.2,83.5 495.4,82.6 513.5,87.2 526.2,92.6 531.7,99.9 540.0,108.0 542.0,120.0 540.0,136.8 529.9,140.4 519.0,144.9 504.4,145.9 491.7,142.2 482.7,135.0 477.2,125.9 473.6,115.0 469.0,110.7 470.0,101.7 473.6,92.6" fill="#0f487c"/>
<g fill="url(#sp_mid)"><circle cx="486.6" cy="83.6" r="2.93"/><circle cx="494.6" cy="85.1" r="2.99"/><circle cx="481.4" cy="85.3" r="2.96"/><circle cx="502.0" cy="85.7" r="2.97"/><circle cx="506.6" cy="86.1" r="2.95"/><circle cx="490.9" cy="86.1" r="3.08"/><circle cx="498.1" cy="86.5" r="2.88"/><circle cx="486.2" cy="87.4" r="3.07"/><circle cx="475.9" cy="88.1" r="2.76"/><circle cx="508.9" cy="89.0" r="2.90"/><circle cx="512.8" cy="89.5" r="2.92"/><circle cx="505.1" cy="89.6" r="2.82"/><circle cx="480.3" cy="90.2" r="3.12"/><circle cx="496.8" cy="90.2" r="2.91"/><circle cx="516.7" cy="90.2" r="3.14"/><circle cx="492.1" cy="91.1" r="3.23"/><circle cx="487.4" cy="91.4" r="2.88"/><circle cx="521.0" cy="92.3" r="3.20"/><circle cx="499.9" cy="92.3" r="3.15"/><circle cx="483.9" cy="92.3" r="3.08"/><circle cx="524.8" cy="92.4" r="2.76"/><circle cx="508.3" cy="93.3" r="2.98"/><circle cx="476.1" cy="93.7" r="3.06"/><circle cx="504.4" cy="93.9" r="2.90"/><circle cx="493.5" cy="94.4" r="2.86"/><circle cx="497.4" cy="94.8" r="2.90"/><circle cx="472.7" cy="94.8" r="2.88"/><circle cx="511.2" cy="95.3" r="3.14"/><circle cx="479.8" cy="95.4" r="2.92"/><circle cx="527.7" cy="95.8" r="2.96"/><circle cx="487.8" cy="96.3" r="3.07"/><circle cx="520.5" cy="96.6" r="3.22"/><circle cx="483.6" cy="96.8" r="2.90"/><circle cx="501.6" cy="97.1" r="2.77"/><circle cx="516.5" cy="97.2" r="3.24"/><circle cx="524.2" cy="97.2" r="3.17"/><circle cx="495.5" cy="98.1" r="3.15"/><circle cx="475.5" cy="98.4" r="3.01"/><circle cx="505.1" cy="98.5" r="2.87"/><circle cx="490.8" cy="98.9" r="2.83"/><circle cx="471.0" cy="99.3" r="2.90"/><circle cx="512.5" cy="99.4" r="2.98"/><circle cx="508.6" cy="99.5" r="2.78"/><circle cx="486.0" cy="99.8" r="3.10"/><circle cx="499.0" cy="99.9" r="3.11"/><circle cx="528.4" cy="100.7" r="2.76"/><circle cx="481.5" cy="101.3" r="3.17"/><circle cx="503.3" cy="102.0" r="3.00"/><circle cx="516.8" cy="102.2" r="3.21"/><circle cx="473.0" cy="102.4" r="2.99"/><circle cx="478.0" cy="102.5" r="3.15"/><circle cx="521.3" cy="102.6" r="2.98"/><circle cx="489.9" cy="103.2" r="3.06"/><circle cx="507.4" cy="103.9" r="3.00"/><circle cx="493.9" cy="104.0" r="2.76"/><circle cx="513.2" cy="104.0" r="2.82"/><circle cx="531.2" cy="104.2" r="2.87"/><circle cx="486.5" cy="104.3" r="2.95"/><circle cx="500.1" cy="104.4" r="2.93"/><circle cx="524.2" cy="105.4" r="3.02"/><circle cx="503.9" cy="105.8" r="3.08"/><circle cx="483.6" cy="106.6" r="2.95"/><circle cx="534.3" cy="106.6" r="2.91"/><circle cx="515.9" cy="107.2" r="3.01"/><circle cx="528.3" cy="107.2" r="3.23"/><circle cx="498.0" cy="107.2" r="3.14"/><circle cx="477.9" cy="107.3" r="3.08"/><circle cx="521.2" cy="107.4" r="3.16"/><circle cx="491.2" cy="107.8" r="2.86"/><circle cx="487.3" cy="107.8" r="2.80"/><circle cx="471.3" cy="108.1" r="2.80"/><circle cx="509.4" cy="108.5" r="2.81"/><circle cx="539.8" cy="108.7" r="2.75"/><circle cx="531.4" cy="109.0" r="3.06"/><circle cx="513.2" cy="109.4" r="3.21"/><circle cx="501.7" cy="109.5" r="2.81"/><circle cx="474.8" cy="110.0" r="3.09"/><circle cx="479.4" cy="110.6" r="3.22"/><circle cx="535.4" cy="110.6" r="3.13"/><circle cx="517.6" cy="110.8" r="2.83"/><circle cx="526.7" cy="111.1" r="3.07"/><circle cx="483.5" cy="111.4" r="2.88"/><circle cx="489.4" cy="111.7" r="2.84"/><circle cx="495.7" cy="111.7" r="2.76"/><circle cx="522.8" cy="111.8" r="3.01"/><circle cx="505.3" cy="112.2" r="3.21"/><circle cx="472.6" cy="112.8" r="2.80"/><circle cx="500.0" cy="112.8" r="2.82"/><circle cx="514.6" cy="113.0" r="2.94"/><circle cx="486.3" cy="113.6" r="2.77"/><circle cx="535.4" cy="114.4" r="2.98"/><circle cx="530.8" cy="114.5" r="3.12"/><circle cx="479.0" cy="114.8" r="2.98"/><circle cx="502.8" cy="115.1" r="2.77"/><circle cx="482.9" cy="115.1" r="2.77"/><circle cx="494.6" cy="115.2" r="2.85"/><circle cx="538.9" cy="115.3" r="3.08"/><circle cx="510.1" cy="115.4" r="3.21"/><circle cx="522.2" cy="115.5" r="3.00"/><circle cx="526.2" cy="115.9" r="2.80"/><circle cx="490.2" cy="116.3" r="2.86"/><circle cx="515.4" cy="116.4" r="2.96"/><circle cx="498.7" cy="116.5" r="2.80"/><circle cx="506.7" cy="116.7" r="2.81"/><circle cx="533.5" cy="117.3" r="2.97"/><circle cx="485.2" cy="117.8" r="3.17"/><circle cx="476.0" cy="118.3" r="2.87"/><circle cx="529.9" cy="118.4" r="3.19"/><circle cx="519.0" cy="118.9" r="3.19"/><circle cx="511.1" cy="118.9" r="2.97"/><circle cx="524.3" cy="118.9" r="2.86"/><circle cx="537.2" cy="119.4" r="2.84"/><circle cx="503.0" cy="119.7" r="3.08"/><circle cx="514.8" cy="120.0" r="3.16"/><circle cx="507.4" cy="120.4" r="3.18"/><circle cx="491.7" cy="120.7" r="2.85"/><circle cx="541.6" cy="121.1" r="2.96"/><circle cx="480.1" cy="121.2" r="2.76"/><circle cx="498.0" cy="121.3" r="2.90"/><circle cx="484.1" cy="121.5" r="2.90"/><circle cx="533.3" cy="122.0" r="2.81"/><circle cx="522.2" cy="122.0" r="2.79"/><circle cx="511.7" cy="122.4" r="3.25"/><circle cx="525.6" cy="123.3" r="2.90"/><circle cx="538.3" cy="123.3" r="3.00"/><circle cx="530.2" cy="123.5" r="3.02"/><circle cx="487.2" cy="123.6" r="2.99"/><circle cx="501.5" cy="123.9" r="3.04"/><circle cx="517.6" cy="124.0" r="3.00"/><circle cx="495.8" cy="124.2" r="3.00"/><circle cx="491.6" cy="124.6" r="2.79"/><circle cx="505.1" cy="124.9" r="3.07"/><circle cx="477.0" cy="125.0" r="3.08"/><circle cx="482.1" cy="125.4" r="3.11"/><circle cx="541.0" cy="126.0" r="2.91"/><circle cx="535.7" cy="126.3" r="2.98"/><circle cx="508.3" cy="126.3" r="3.15"/><circle cx="511.8" cy="126.7" r="3.11"/><circle cx="528.4" cy="126.8" r="2.78"/><circle cx="520.3" cy="126.9" r="2.92"/><circle cx="516.0" cy="127.2" r="2.84"/><circle cx="489.3" cy="127.9" r="3.11"/><circle cx="494.3" cy="128.2" r="2.95"/><circle cx="479.0" cy="128.4" r="2.95"/><circle cx="485.2" cy="129.1" r="2.86"/><circle cx="506.1" cy="129.2" r="2.98"/><circle cx="500.6" cy="129.2" r="3.11"/><circle cx="533.8" cy="129.4" r="3.07"/><circle cx="537.9" cy="129.7" r="2.86"/><circle cx="513.1" cy="130.1" r="2.95"/><circle cx="523.7" cy="130.2" r="3.06"/><circle cx="529.8" cy="130.2" r="2.78"/><circle cx="519.8" cy="130.5" r="3.20"/><circle cx="488.2" cy="131.2" r="2.76"/><circle cx="481.6" cy="131.5" r="3.06"/><circle cx="504.0" cy="132.0" r="2.82"/><circle cx="526.7" cy="132.3" r="3.23"/><circle cx="494.6" cy="132.5" r="3.10"/><circle cx="516.4" cy="133.0" r="2.86"/><circle cx="509.9" cy="133.1" r="3.00"/><circle cx="539.5" cy="133.2" r="3.17"/><circle cx="531.9" cy="133.4" r="3.18"/><circle cx="521.8" cy="134.2" r="3.08"/><circle cx="483.7" cy="134.9" r="3.07"/><circle cx="535.3" cy="135.0" r="3.12"/><circle cx="500.2" cy="135.3" r="3.21"/><circle cx="489.1" cy="135.7" r="3.01"/><circle cx="527.4" cy="135.7" r="3.06"/><circle cx="495.5" cy="136.4" r="3.15"/><circle cx="511.1" cy="136.7" r="3.01"/><circle cx="531.6" cy="137.2" r="2.86"/><circle cx="538.8" cy="137.2" r="3.04"/><circle cx="506.3" cy="138.0" r="2.92"/><circle cx="516.7" cy="138.1" r="3.11"/><circle cx="523.2" cy="138.6" r="3.12"/><circle cx="502.2" cy="139.7" r="3.20"/><circle cx="496.6" cy="139.9" r="2.80"/><circle cx="526.4" cy="140.9" r="2.76"/><circle cx="518.0" cy="141.6" r="3.22"/><circle cx="511.7" cy="141.8" r="3.12"/><circle cx="492.3" cy="141.9" r="3.25"/><circle cx="521.8" cy="142.2" r="3.16"/><circle cx="505.7" cy="143.1" r="3.23"/><circle cx="500.4" cy="143.2" r="2.83"/><circle cx="496.0" cy="143.4" r="2.84"/><circle cx="514.6" cy="144.6" r="3.06"/><circle cx="509.5" cy="145.2" r="3.13"/></g>
<polygon points="545.4,160.4 560.0,158.0 576.3,158.6 590.8,160.4 592.6,149.5 605.3,151.3 612.6,158.6 615.3,165.8 609.0,173.1 598.1,180.3 592.6,187.6 583.6,194.9 576.3,198.5 569.0,196.7 558.1,193.0 549.1,191.2 545.4,184.0 543.6,169.4" fill="#527e0f"/>
<g fill="url(#sp_ygreen)"><circle cx="603.9" cy="151.2" r="3.01"/><circle cx="592.5" cy="151.6" r="3.15"/><circle cx="596.3" cy="151.9" r="3.23"/><circle cx="600.7" cy="153.3" r="2.89"/><circle cx="604.3" cy="154.8" r="3.13"/><circle cx="594.1" cy="154.9" r="3.10"/><circle cx="597.6" cy="155.4" r="3.08"/><circle cx="609.0" cy="156.9" r="2.81"/><circle cx="601.3" cy="157.3" r="2.76"/><circle cx="569.0" cy="158.7" r="2.94"/><circle cx="592.1" cy="158.8" r="3.12"/><circle cx="552.3" cy="159.3" r="2.88"/><circle cx="598.4" cy="159.4" r="3.00"/><circle cx="576.8" cy="159.4" r="2.91"/><circle cx="563.3" cy="159.6" r="3.17"/><circle cx="546.1" cy="160.3" r="3.22"/><circle cx="606.3" cy="160.6" r="2.95"/><circle cx="573.0" cy="160.7" r="3.25"/><circle cx="611.6" cy="160.9" r="2.78"/><circle cx="557.7" cy="161.0" r="3.16"/><circle cx="582.3" cy="161.3" r="3.19"/><circle cx="587.6" cy="161.6" r="2.83"/><circle cx="602.5" cy="161.6" r="3.10"/><circle cx="566.7" cy="162.1" r="3.03"/><circle cx="548.7" cy="162.8" r="3.23"/><circle cx="561.4" cy="162.8" r="2.86"/><circle cx="578.2" cy="162.9" r="3.02"/><circle cx="591.0" cy="163.1" r="3.19"/><circle cx="596.7" cy="163.7" r="3.07"/><circle cx="585.1" cy="164.7" r="2.90"/><circle cx="610.2" cy="164.8" r="2.79"/><circle cx="573.5" cy="165.0" r="3.22"/><circle cx="556.5" cy="165.3" r="2.99"/><circle cx="606.0" cy="165.4" r="3.25"/><circle cx="601.1" cy="165.4" r="2.82"/><circle cx="552.2" cy="165.8" r="3.16"/><circle cx="581.6" cy="165.9" r="3.16"/><circle cx="568.7" cy="166.1" r="3.21"/><circle cx="614.4" cy="166.4" r="2.76"/><circle cx="562.9" cy="166.5" r="2.94"/><circle cx="546.0" cy="166.9" r="2.78"/><circle cx="577.1" cy="167.1" r="3.13"/><circle cx="590.4" cy="168.0" r="2.93"/><circle cx="549.4" cy="168.1" r="3.23"/><circle cx="598.4" cy="168.1" r="2.94"/><circle cx="610.6" cy="168.5" r="3.14"/><circle cx="558.4" cy="168.6" r="3.18"/><circle cx="585.4" cy="168.7" r="2.87"/><circle cx="594.8" cy="168.8" r="3.03"/><circle cx="604.0" cy="169.3" r="3.23"/><circle cx="552.9" cy="169.6" r="3.01"/><circle cx="567.3" cy="169.6" r="2.93"/><circle cx="571.0" cy="171.0" r="2.88"/><circle cx="578.5" cy="171.6" r="3.14"/><circle cx="588.2" cy="171.7" r="2.85"/><circle cx="549.8" cy="171.9" r="3.05"/><circle cx="599.3" cy="171.9" r="3.03"/><circle cx="607.1" cy="172.0" r="3.03"/><circle cx="546.2" cy="172.3" r="2.81"/><circle cx="562.7" cy="172.5" r="3.08"/><circle cx="574.0" cy="172.9" r="3.21"/><circle cx="555.6" cy="172.9" r="2.91"/><circle cx="583.6" cy="173.3" r="2.92"/><circle cx="602.6" cy="173.4" r="3.20"/><circle cx="594.8" cy="174.0" r="3.04"/><circle cx="559.5" cy="174.1" r="2.89"/><circle cx="569.6" cy="174.4" r="2.75"/><circle cx="565.8" cy="174.5" r="3.13"/><circle cx="551.7" cy="175.1" r="2.92"/><circle cx="588.9" cy="175.4" r="2.98"/><circle cx="576.5" cy="175.5" r="2.89"/><circle cx="597.9" cy="175.9" r="3.07"/><circle cx="582.7" cy="176.9" r="3.11"/><circle cx="603.0" cy="177.0" r="2.90"/><circle cx="554.9" cy="177.8" r="2.79"/><circle cx="591.8" cy="177.9" r="3.24"/><circle cx="545.5" cy="177.9" r="3.21"/><circle cx="565.6" cy="178.0" r="2.76"/><circle cx="549.7" cy="178.2" r="3.03"/><circle cx="560.6" cy="178.2" r="3.09"/><circle cx="574.1" cy="178.4" r="2.95"/><circle cx="586.9" cy="178.5" r="3.12"/><circle cx="569.5" cy="179.6" r="3.23"/><circle cx="579.7" cy="180.3" r="3.05"/><circle cx="595.3" cy="180.6" r="2.95"/><circle cx="590.7" cy="181.4" r="2.85"/><circle cx="556.1" cy="181.5" r="2.88"/><circle cx="552.4" cy="181.5" r="2.83"/><circle cx="576.1" cy="182.2" r="2.81"/><circle cx="567.1" cy="182.3" r="2.86"/><circle cx="545.5" cy="182.5" r="3.17"/><circle cx="563.6" cy="182.5" r="3.02"/><circle cx="587.2" cy="182.7" r="3.15"/><circle cx="570.8" cy="183.3" r="3.21"/><circle cx="583.5" cy="183.5" r="3.16"/><circle cx="594.4" cy="184.1" r="2.77"/><circle cx="560.2" cy="184.1" r="3.21"/><circle cx="555.4" cy="185.1" r="2.80"/><circle cx="547.5" cy="185.5" r="3.14"/><circle cx="577.5" cy="185.6" r="3.17"/><circle cx="591.6" cy="186.2" r="3.08"/><circle cx="565.2" cy="186.6" r="2.95"/><circle cx="551.0" cy="186.6" r="2.79"/><circle cx="588.1" cy="186.9" r="2.79"/><circle cx="572.3" cy="187.0" r="3.07"/><circle cx="584.2" cy="187.2" r="2.87"/><circle cx="558.3" cy="187.3" r="3.02"/><circle cx="580.6" cy="187.8" r="2.88"/><circle cx="561.6" cy="188.6" r="2.83"/><circle cx="553.5" cy="189.5" r="2.90"/><circle cx="569.1" cy="189.8" r="3.11"/><circle cx="588.1" cy="190.7" r="2.99"/><circle cx="572.5" cy="190.8" r="2.95"/><circle cx="576.0" cy="191.4" r="2.99"/><circle cx="550.2" cy="191.4" r="3.03"/><circle cx="584.6" cy="191.7" r="3.01"/><circle cx="580.9" cy="192.0" r="2.97"/><circle cx="559.0" cy="192.2" r="3.23"/><circle cx="564.6" cy="192.5" r="3.13"/><circle cx="568.5" cy="194.0" r="2.86"/><circle cx="575.1" cy="195.3" r="2.91"/><circle cx="579.7" cy="196.8" r="2.84"/><circle cx="571.2" cy="197.0" r="2.93"/></g>
<polygon points="537.0,114.0 546.0,113.0 556.0,112.0 563.0,108.0 570.0,100.0 572.0,90.0 576.0,85.5 584.0,84.0 587.0,73.0 591.0,73.0 592.5,80.5 597.5,84.4 605.1,95.1 609.7,102.7 614.3,111.9 615.8,118.0 614.3,125.6 608.2,131.8 601.0,138.0 595.1,154.3 587.9,161.5 569.7,157.9 558.9,154.3 540.7,145.2 528.0,141.6 531.6,136.1 537.1,128.9 538.9,118.0" fill="#7b0f7e"/>
<g fill="url(#sp_magenta)"><circle cx="587.1" cy="73.5" r="2.84"/><circle cx="591.6" cy="76.7" r="3.08"/><circle cx="585.5" cy="78.6" r="2.92"/><circle cx="590.2" cy="81.4" r="2.85"/><circle cx="593.8" cy="81.8" r="2.99"/><circle cx="585.9" cy="83.1" r="3.00"/><circle cx="596.6" cy="84.0" r="2.99"/><circle cx="577.0" cy="85.5" r="2.98"/><circle cx="588.3" cy="85.8" r="2.88"/><circle cx="592.3" cy="85.8" r="2.88"/><circle cx="584.2" cy="86.4" r="3.10"/><circle cx="596.9" cy="87.8" r="2.91"/><circle cx="575.5" cy="88.8" r="3.09"/><circle cx="590.1" cy="90.1" r="3.14"/><circle cx="579.0" cy="90.2" r="3.18"/><circle cx="583.7" cy="90.4" r="3.22"/><circle cx="572.6" cy="91.5" r="2.87"/><circle cx="600.6" cy="91.8" r="2.87"/><circle cx="586.5" cy="92.5" r="3.12"/><circle cx="575.8" cy="93.4" r="3.04"/><circle cx="581.3" cy="93.7" r="2.85"/><circle cx="590.5" cy="93.8" r="3.09"/><circle cx="594.8" cy="94.1" r="3.19"/><circle cx="571.3" cy="94.7" r="3.17"/><circle cx="598.9" cy="95.5" r="2.86"/><circle cx="584.2" cy="95.6" r="2.90"/><circle cx="603.3" cy="96.2" r="2.75"/><circle cx="578.2" cy="96.6" r="3.24"/><circle cx="588.0" cy="97.4" r="2.86"/><circle cx="574.1" cy="98.1" r="3.11"/><circle cx="570.4" cy="98.1" r="3.02"/><circle cx="595.1" cy="98.5" r="3.05"/><circle cx="604.4" cy="99.5" r="3.01"/><circle cx="584.4" cy="99.6" r="3.16"/><circle cx="580.5" cy="99.6" r="3.05"/><circle cx="591.7" cy="100.3" r="2.90"/><circle cx="598.6" cy="100.7" r="2.81"/><circle cx="577.2" cy="100.9" r="2.99"/><circle cx="569.0" cy="102.0" r="3.21"/><circle cx="585.6" cy="103.2" r="2.82"/><circle cx="572.2" cy="103.6" r="3.09"/><circle cx="607.2" cy="104.0" r="3.07"/><circle cx="582.3" cy="105.0" r="2.83"/><circle cx="590.2" cy="105.0" r="2.85"/><circle cx="578.3" cy="105.2" r="3.09"/><circle cx="596.4" cy="105.4" r="2.97"/><circle cx="566.2" cy="105.6" r="2.95"/><circle cx="601.6" cy="105.7" r="2.99"/><circle cx="610.3" cy="105.9" r="2.80"/><circle cx="574.1" cy="106.7" r="3.10"/><circle cx="569.7" cy="107.5" r="3.04"/><circle cx="606.0" cy="108.8" r="3.02"/><circle cx="582.6" cy="108.8" r="2.92"/><circle cx="562.9" cy="108.9" r="3.16"/><circle cx="577.9" cy="109.1" r="3.16"/><circle cx="600.5" cy="109.2" r="3.02"/><circle cx="590.4" cy="109.6" r="2.79"/><circle cx="610.2" cy="109.6" r="2.82"/><circle cx="586.9" cy="109.8" r="2.83"/><circle cx="596.3" cy="110.0" r="2.79"/><circle cx="572.0" cy="111.6" r="3.07"/><circle cx="566.9" cy="112.1" r="3.02"/><circle cx="575.9" cy="112.2" r="2.85"/><circle cx="604.2" cy="112.4" r="3.21"/><circle cx="548.6" cy="113.2" r="3.06"/><circle cx="558.4" cy="113.2" r="3.15"/><circle cx="595.1" cy="113.4" r="3.16"/><circle cx="582.4" cy="113.5" r="3.09"/><circle cx="590.0" cy="113.5" r="3.01"/><circle cx="608.6" cy="113.5" r="3.24"/><circle cx="613.7" cy="113.6" r="2.82"/><circle cx="542.1" cy="113.7" r="3.09"/><circle cx="538.5" cy="114.3" r="3.19"/><circle cx="598.5" cy="114.4" r="2.99"/><circle cx="561.8" cy="114.5" r="3.16"/><circle cx="555.0" cy="114.9" r="2.84"/><circle cx="565.1" cy="115.7" r="2.96"/><circle cx="545.0" cy="115.8" r="2.89"/><circle cx="575.7" cy="116.1" r="2.95"/><circle cx="602.3" cy="116.1" r="3.10"/><circle cx="570.4" cy="116.3" r="2.82"/><circle cx="610.8" cy="116.7" r="2.92"/><circle cx="551.2" cy="117.4" r="3.17"/><circle cx="606.5" cy="117.8" r="2.90"/><circle cx="560.2" cy="117.9" r="2.81"/><circle cx="582.3" cy="118.1" r="3.25"/><circle cx="578.5" cy="118.2" r="3.02"/><circle cx="587.1" cy="118.5" r="2.76"/><circle cx="599.6" cy="118.6" r="3.04"/><circle cx="593.4" cy="118.6" r="2.82"/><circle cx="547.1" cy="118.8" r="2.83"/><circle cx="542.9" cy="119.4" r="3.12"/><circle cx="538.9" cy="120.1" r="3.08"/><circle cx="613.2" cy="120.2" r="2.96"/><circle cx="553.2" cy="120.9" r="3.01"/><circle cx="574.0" cy="121.0" r="3.03"/><circle cx="565.9" cy="121.1" r="2.98"/><circle cx="604.6" cy="121.1" r="2.80"/><circle cx="596.7" cy="121.3" r="3.13"/><circle cx="557.3" cy="121.4" r="3.14"/><circle cx="590.1" cy="121.4" r="2.96"/><circle cx="580.7" cy="121.5" r="2.95"/><circle cx="608.8" cy="122.5" r="3.06"/><circle cx="561.9" cy="122.5" r="2.99"/><circle cx="544.4" cy="123.1" r="2.96"/><circle cx="549.3" cy="123.1" r="3.19"/><circle cx="601.1" cy="123.1" r="3.20"/><circle cx="593.8" cy="123.8" r="2.83"/><circle cx="571.5" cy="124.0" r="2.84"/><circle cx="584.2" cy="124.1" r="3.14"/><circle cx="540.6" cy="124.1" r="3.23"/><circle cx="612.8" cy="124.8" r="3.12"/><circle cx="578.3" cy="124.9" r="2.90"/><circle cx="566.3" cy="125.0" r="2.78"/><circle cx="552.8" cy="125.0" r="3.16"/><circle cx="556.4" cy="125.4" r="3.22"/><circle cx="574.7" cy="125.5" r="3.13"/><circle cx="603.6" cy="127.3" r="3.12"/><circle cx="586.5" cy="127.5" r="3.24"/><circle cx="562.9" cy="127.6" r="3.01"/><circle cx="559.3" cy="127.9" r="3.22"/><circle cx="590.5" cy="127.9" r="2.88"/><circle cx="599.1" cy="128.0" r="2.79"/><circle cx="537.4" cy="128.1" r="3.17"/><circle cx="595.3" cy="128.6" r="3.10"/><circle cx="569.4" cy="128.6" r="3.15"/><circle cx="607.3" cy="128.7" r="2.82"/><circle cx="576.7" cy="128.8" r="2.90"/><circle cx="543.3" cy="129.0" r="3.04"/><circle cx="547.4" cy="129.7" r="2.78"/><circle cx="583.1" cy="129.7" r="2.91"/><circle cx="573.8" cy="131.4" r="3.05"/><circle cx="592.3" cy="131.5" r="3.22"/><circle cx="551.8" cy="131.6" r="3.11"/><circle cx="586.6" cy="131.7" r="2.95"/><circle cx="565.9" cy="131.7" r="2.95"/><circle cx="558.6" cy="131.8" r="3.01"/><circle cx="605.0" cy="131.8" r="3.12"/><circle cx="580.0" cy="132.0" r="3.25"/><circle cx="539.5" cy="132.5" r="2.76"/><circle cx="569.6" cy="132.5" r="3.21"/><circle cx="596.1" cy="132.7" r="3.15"/><circle cx="555.2" cy="133.1" r="2.77"/><circle cx="576.5" cy="133.8" r="2.88"/><circle cx="562.1" cy="133.8" r="2.89"/><circle cx="534.6" cy="134.0" r="2.86"/><circle cx="589.6" cy="134.1" r="2.83"/><circle cx="601.6" cy="134.4" r="2.82"/><circle cx="583.4" cy="134.4" r="3.09"/><circle cx="543.6" cy="135.0" r="2.97"/><circle cx="592.8" cy="135.7" r="2.80"/><circle cx="579.3" cy="136.3" r="3.17"/><circle cx="547.4" cy="136.4" r="3.17"/><circle cx="553.9" cy="136.5" r="2.88"/><circle cx="537.2" cy="136.5" r="3.16"/><circle cx="559.9" cy="136.6" r="3.14"/><circle cx="575.7" cy="137.3" r="3.02"/><circle cx="571.8" cy="137.4" r="2.79"/><circle cx="530.7" cy="137.5" r="3.10"/><circle cx="595.8" cy="137.8" r="3.19"/><circle cx="583.7" cy="138.1" r="3.19"/><circle cx="588.8" cy="138.4" r="3.22"/><circle cx="599.7" cy="138.7" r="2.83"/><circle cx="544.3" cy="138.7" r="3.24"/><circle cx="563.9" cy="138.9" r="2.80"/><circle cx="534.0" cy="139.0" r="2.93"/><circle cx="567.6" cy="139.2" r="3.02"/><circle cx="549.8" cy="139.7" r="3.07"/><circle cx="580.1" cy="140.4" r="3.01"/><circle cx="554.2" cy="140.5" r="3.20"/><circle cx="557.9" cy="140.7" r="3.14"/><circle cx="573.4" cy="141.0" r="3.18"/><circle cx="541.7" cy="141.2" r="3.09"/><circle cx="586.0" cy="141.3" r="2.98"/><circle cx="594.3" cy="141.6" r="2.76"/><circle cx="536.8" cy="141.7" r="3.07"/><circle cx="532.0" cy="142.3" r="3.22"/><circle cx="597.9" cy="142.6" r="2.85"/><circle cx="546.2" cy="143.1" r="3.25"/><circle cx="568.0" cy="143.2" r="2.76"/><circle cx="581.6" cy="143.6" r="2.95"/><circle cx="549.9" cy="144.2" r="3.13"/><circle cx="561.2" cy="144.4" r="3.11"/><circle cx="577.7" cy="144.4" r="3.04"/><circle cx="588.4" cy="144.7" r="2.89"/><circle cx="542.3" cy="145.8" r="2.87"/><circle cx="591.9" cy="146.3" r="2.82"/><circle cx="565.8" cy="146.5" r="3.07"/><circle cx="569.5" cy="146.6" r="2.76"/><circle cx="555.5" cy="146.8" r="2.81"/><circle cx="560.1" cy="147.8" r="3.11"/><circle cx="549.4" cy="147.9" r="2.97"/><circle cx="595.7" cy="148.2" r="2.76"/><circle cx="574.0" cy="148.5" r="2.96"/><circle cx="584.5" cy="148.6" r="3.21"/><circle cx="589.4" cy="148.9" r="3.01"/><circle cx="557.1" cy="149.9" r="2.88"/><circle cx="579.4" cy="150.3" r="2.82"/><circle cx="552.8" cy="150.9" r="3.00"/><circle cx="570.3" cy="151.7" r="2.87"/><circle cx="592.1" cy="152.2" r="2.89"/><circle cx="564.4" cy="152.8" r="2.78"/><circle cx="588.5" cy="152.9" r="3.05"/><circle cx="558.6" cy="153.7" r="3.15"/><circle cx="573.0" cy="154.3" r="3.00"/><circle cx="577.1" cy="154.7" r="3.06"/><circle cx="583.6" cy="154.7" r="2.90"/><circle cx="593.8" cy="155.6" r="3.25"/><circle cx="566.4" cy="156.0" r="2.89"/><circle cx="569.9" cy="157.1" r="3.21"/><circle cx="575.9" cy="158.2" r="2.76"/><circle cx="585.1" cy="158.2" r="3.08"/><circle cx="579.3" cy="159.2" r="3.19"/><circle cx="589.1" cy="159.6" r="3.03"/></g>
<polygon points="475.4,169.4 486.3,158.6 497.2,153.1 509.9,151.3 522.6,153.1 533.5,156.7 540.0,160.4 546.0,170.0 548.0,185.0 545.0,198.0 537.1,205.7 522.6,207.6 504.4,209.4 486.3,208.5 477.2,203.9 475.4,191.2 473.0,180.0" fill="#3a0b7c"/>
<g fill="url(#sp_violet)"><circle cx="509.9" cy="152.2" r="3.09"/><circle cx="520.5" cy="152.8" r="3.14"/><circle cx="514.0" cy="153.4" r="3.01"/><circle cx="506.8" cy="154.0" r="3.01"/><circle cx="500.6" cy="154.3" r="2.95"/><circle cx="523.7" cy="155.3" r="3.25"/><circle cx="496.2" cy="155.3" r="2.89"/><circle cx="519.0" cy="156.7" r="2.82"/><circle cx="503.1" cy="156.8" r="2.88"/><circle cx="513.9" cy="157.3" r="2.88"/><circle cx="532.8" cy="157.7" r="2.91"/><circle cx="492.8" cy="158.0" r="2.88"/><circle cx="509.1" cy="158.0" r="2.80"/><circle cx="488.7" cy="158.1" r="2.91"/><circle cx="527.8" cy="158.5" r="2.91"/><circle cx="498.6" cy="159.0" r="3.03"/><circle cx="536.4" cy="160.1" r="2.85"/><circle cx="506.0" cy="160.4" r="2.79"/><circle cx="523.0" cy="160.5" r="2.85"/><circle cx="485.3" cy="160.5" r="3.02"/><circle cx="518.4" cy="160.9" r="2.94"/><circle cx="494.3" cy="161.2" r="3.12"/><circle cx="512.1" cy="161.2" r="3.15"/><circle cx="489.6" cy="162.5" r="2.96"/><circle cx="531.9" cy="162.8" r="2.80"/><circle cx="497.9" cy="162.9" r="3.11"/><circle cx="539.0" cy="163.2" r="3.13"/><circle cx="515.4" cy="163.5" r="2.95"/><circle cx="528.4" cy="163.8" r="3.08"/><circle cx="524.3" cy="163.9" r="2.90"/><circle cx="485.2" cy="164.1" r="3.21"/><circle cx="501.3" cy="164.3" r="3.17"/><circle cx="542.3" cy="164.6" r="3.15"/><circle cx="534.9" cy="164.6" r="3.23"/><circle cx="510.2" cy="165.2" r="2.87"/><circle cx="495.1" cy="165.2" r="3.02"/><circle cx="518.7" cy="166.1" r="3.12"/><circle cx="481.0" cy="166.6" r="3.15"/><circle cx="498.7" cy="166.7" r="2.95"/><circle cx="489.2" cy="166.7" r="2.82"/><circle cx="506.7" cy="167.1" r="3.06"/><circle cx="531.6" cy="167.3" r="2.80"/><circle cx="540.3" cy="167.6" r="3.10"/><circle cx="526.3" cy="167.6" r="2.75"/><circle cx="536.3" cy="167.9" r="2.98"/><circle cx="513.1" cy="168.2" r="2.99"/><circle cx="492.9" cy="168.6" r="2.81"/><circle cx="509.6" cy="169.5" r="2.99"/><circle cx="487.1" cy="169.6" r="3.00"/><circle cx="545.6" cy="169.7" r="2.93"/><circle cx="523.3" cy="169.9" r="3.20"/><circle cx="478.4" cy="170.0" r="3.18"/><circle cx="497.4" cy="170.3" r="3.20"/><circle cx="502.3" cy="170.5" r="2.87"/><circle cx="518.3" cy="170.8" r="2.76"/><circle cx="531.9" cy="171.1" r="2.94"/><circle cx="482.3" cy="171.4" r="2.81"/><circle cx="514.7" cy="171.4" r="3.10"/><circle cx="535.5" cy="171.5" r="2.88"/><circle cx="528.2" cy="171.6" r="2.81"/><circle cx="490.8" cy="172.5" r="2.89"/><circle cx="543.3" cy="172.9" r="2.95"/><circle cx="539.4" cy="172.9" r="3.12"/><circle cx="477.2" cy="173.6" r="2.98"/><circle cx="507.1" cy="174.0" r="2.90"/><circle cx="485.7" cy="174.0" r="3.09"/><circle cx="512.4" cy="174.1" r="2.77"/><circle cx="494.9" cy="174.3" r="2.85"/><circle cx="519.2" cy="174.9" r="3.09"/><circle cx="533.2" cy="175.0" r="3.13"/><circle cx="482.3" cy="175.1" r="2.80"/><circle cx="523.2" cy="175.3" r="2.78"/><circle cx="501.0" cy="175.4" r="3.00"/><circle cx="491.7" cy="176.1" r="3.08"/><circle cx="529.2" cy="176.3" r="2.76"/><circle cx="504.8" cy="176.6" r="2.97"/><circle cx="515.4" cy="177.0" r="2.89"/><circle cx="479.2" cy="177.0" r="2.79"/><circle cx="536.1" cy="177.1" r="2.84"/><circle cx="475.3" cy="177.7" r="2.89"/><circle cx="487.0" cy="178.1" r="2.98"/><circle cx="540.6" cy="178.4" r="2.81"/><circle cx="544.4" cy="178.6" r="3.06"/><circle cx="522.7" cy="179.1" r="3.19"/><circle cx="518.1" cy="179.4" r="3.09"/><circle cx="512.7" cy="179.5" r="2.78"/><circle cx="502.8" cy="179.6" r="3.07"/><circle cx="509.0" cy="179.6" r="3.07"/><circle cx="491.0" cy="179.7" r="2.75"/><circle cx="496.6" cy="179.7" r="2.94"/><circle cx="533.6" cy="180.3" r="3.08"/><circle cx="529.3" cy="180.8" r="3.23"/><circle cx="481.9" cy="181.0" r="3.21"/><circle cx="478.1" cy="181.3" r="3.03"/><circle cx="541.9" cy="181.7" r="3.04"/><circle cx="474.6" cy="182.0" r="3.23"/><circle cx="515.9" cy="182.2" r="2.86"/><circle cx="500.4" cy="182.3" r="3.00"/><circle cx="536.8" cy="182.4" r="2.78"/><circle cx="493.9" cy="182.8" r="3.14"/><circle cx="488.9" cy="183.0" r="3.08"/><circle cx="504.0" cy="183.2" r="2.86"/><circle cx="523.5" cy="183.2" r="2.85"/><circle cx="545.2" cy="183.2" r="3.01"/><circle cx="531.6" cy="183.5" r="3.13"/><circle cx="511.9" cy="183.5" r="2.82"/><circle cx="519.7" cy="185.0" r="2.91"/><circle cx="541.0" cy="185.1" r="3.01"/><circle cx="496.4" cy="185.3" r="2.88"/><circle cx="526.6" cy="185.4" r="3.19"/><circle cx="514.8" cy="185.5" r="3.11"/><circle cx="485.6" cy="185.7" r="3.23"/><circle cx="490.1" cy="186.3" r="3.07"/><circle cx="536.4" cy="186.4" r="3.09"/><circle cx="506.1" cy="186.5" r="2.89"/><circle cx="481.8" cy="186.7" r="3.00"/><circle cx="522.8" cy="186.8" r="2.96"/><circle cx="475.1" cy="186.9" r="2.99"/><circle cx="529.6" cy="187.5" r="2.78"/><circle cx="499.4" cy="187.7" r="3.17"/><circle cx="512.2" cy="188.3" r="2.83"/><circle cx="496.0" cy="188.9" r="2.98"/><circle cx="545.9" cy="189.2" r="3.22"/><circle cx="503.4" cy="189.3" r="3.01"/><circle cx="516.7" cy="189.3" r="3.18"/><circle cx="538.4" cy="189.6" r="2.88"/><circle cx="490.4" cy="189.8" r="2.98"/><circle cx="533.4" cy="189.9" r="2.94"/><circle cx="509.1" cy="190.0" r="2.91"/><circle cx="525.2" cy="190.1" r="2.93"/><circle cx="477.9" cy="190.6" r="2.97"/><circle cx="541.5" cy="191.3" r="3.17"/><circle cx="484.1" cy="191.6" r="3.24"/><circle cx="519.5" cy="191.9" r="2.80"/><circle cx="487.5" cy="192.3" r="3.08"/><circle cx="507.2" cy="193.2" r="3.01"/><circle cx="493.0" cy="193.3" r="2.96"/><circle cx="530.9" cy="193.4" r="2.77"/><circle cx="523.5" cy="193.5" r="2.93"/><circle cx="512.1" cy="193.6" r="2.91"/><circle cx="545.2" cy="193.6" r="2.93"/><circle cx="502.1" cy="194.2" r="3.05"/><circle cx="534.7" cy="194.3" r="2.93"/><circle cx="478.2" cy="194.7" r="2.90"/><circle cx="497.4" cy="194.8" r="2.89"/><circle cx="540.7" cy="195.0" r="3.24"/><circle cx="520.2" cy="195.5" r="2.95"/><circle cx="482.4" cy="195.7" r="3.24"/><circle cx="516.2" cy="195.9" r="2.83"/><circle cx="527.3" cy="196.4" r="3.08"/><circle cx="532.4" cy="196.9" r="3.03"/><circle cx="508.8" cy="197.1" r="3.10"/><circle cx="512.5" cy="197.2" r="3.01"/><circle cx="489.9" cy="197.6" r="3.19"/><circle cx="476.6" cy="198.1" r="3.04"/><circle cx="539.4" cy="198.5" r="2.77"/><circle cx="495.9" cy="198.6" r="3.09"/><circle cx="535.8" cy="198.9" r="3.06"/><circle cx="521.5" cy="198.9" r="2.87"/><circle cx="543.6" cy="199.3" r="3.12"/><circle cx="482.7" cy="199.4" r="3.17"/><circle cx="504.6" cy="199.7" r="2.89"/><circle cx="530.4" cy="199.9" r="2.82"/><circle cx="509.8" cy="200.6" r="2.89"/><circle cx="490.9" cy="201.0" r="3.04"/><circle cx="486.9" cy="201.5" r="2.97"/><circle cx="500.1" cy="201.7" r="2.79"/><circle cx="540.2" cy="201.9" r="2.97"/><circle cx="516.2" cy="202.2" r="3.02"/><circle cx="525.2" cy="202.2" r="3.04"/><circle cx="478.1" cy="202.4" r="2.93"/><circle cx="520.6" cy="202.7" r="3.14"/><circle cx="483.3" cy="202.9" r="3.09"/><circle cx="494.8" cy="203.6" r="2.88"/><circle cx="506.2" cy="204.0" r="2.92"/><circle cx="536.7" cy="204.8" r="3.21"/><circle cx="532.5" cy="204.9" r="2.86"/><circle cx="528.5" cy="205.3" r="2.97"/><circle cx="502.9" cy="205.4" r="2.90"/><circle cx="514.3" cy="205.7" r="3.04"/><circle cx="491.8" cy="205.8" r="3.15"/><circle cx="522.8" cy="206.0" r="2.81"/><circle cx="488.2" cy="206.4" r="2.85"/><circle cx="483.9" cy="206.4" r="2.78"/><circle cx="506.1" cy="207.6" r="2.81"/><circle cx="509.9" cy="207.7" r="3.01"/><circle cx="497.7" cy="207.8" r="2.99"/><circle cx="517.6" cy="208.0" r="3.22"/><circle cx="501.4" cy="208.8" r="2.98"/></g>
<circle cx="528" cy="207" r="2.5" fill="url(#sp_red)"/>
<circle cx="535" cy="206" r="2.5" fill="url(#sp_red)"/>
<circle cx="545" cy="205" r="2.5" fill="url(#sp_red)"/>
<circle cx="548" cy="196" r="2.5" fill="url(#sp_orange)"/>
<circle cx="455" cy="158" r="2.5" fill="url(#sp_yellow)"/>
<circle cx="560" cy="200" r="2.5" fill="url(#sp_lgreen)"/>
<circle cx="612" cy="153" r="2.5" fill="url(#sp_lgreen)"/>
<circle cx="553" cy="106" r="2.5" fill="url(#sp_yellow)"/>
<circle cx="545" cy="108" r="2.5" fill="url(#sp_lgreen)"/>
<circle cx="560" cy="167" r="2.5" fill="url(#sp_orange)"/>
<circle cx="541" cy="205" r="2.5" fill="url(#sp_red)"/>
<circle cx="478" cy="199" r="2.5" fill="url(#sp_lgreen)"/>
<circle cx="466" cy="151" r="2.5" fill="url(#sp_mid2)"/>
<circle cx="487" cy="161" r="2.5" fill="url(#sp_mid2)"/>
<circle cx="480" cy="160" r="2.5" fill="url(#sp_mid2)"/>
<circle cx="550" cy="195" r="2.5" fill="url(#sp_lgreen)"/>
<circle cx="541" cy="106" r="2.5" fill="url(#sp_yellow)"/>
<circle cx="572" cy="97" r="2.5" fill="url(#sp_magenta)"/>
<circle cx="580" cy="79" r="2.5" fill="url(#sp_magenta)"/>
<circle cx="585" cy="72" r="2.5" fill="url(#sp_magenta)"/>
<circle cx="528" cy="128" r="2.5" fill="url(#sp_mid2)"/>
<circle cx="553" cy="163" r="2.5" fill="url(#sp_orange)"/>
<circle cx="558" cy="170" r="2.5" fill="url(#sp_orange)"/>
<circle cx="563" cy="174" r="2.5" fill="url(#sp_orange)"/>
<circle cx="555" cy="194" r="2.5" fill="url(#sp_orange)"/>
<circle cx="557" cy="199" r="2.5" fill="url(#sp_lgreen)"/>
<circle cx="542" cy="201" r="2.5" fill="url(#sp_red)"/>
<circle cx="466" cy="148" r="2.5" fill="url(#sp_yellow)"/>
<circle cx="484" cy="147" r="2.5" fill="url(#sp_mid2)"/>
<circle cx="469" cy="160" r="2.5" fill="url(#sp_mid2)"/>
<circle cx="597" cy="73" r="2.5" fill="url(#sp_magenta)"/>
<circle cx="591" cy="77" r="2.5" fill="url(#sp_magenta)"/>
<circle cx="584" cy="82" r="2.5" fill="url(#sp_magenta)"/>
<circle cx="517" cy="155" r="2.5" fill="url(#sp_magenta)"/>
<circle cx="535" cy="149" r="2.5" fill="url(#sp_magenta)"/>
<circle cx="545" cy="163" r="2.5" fill="url(#sp_magenta)"/>
<circle cx="622" cy="148" r="2.5" fill="url(#sp_lgreen)"/>
<circle cx="605" cy="146" r="2.5" fill="url(#sp_lgreen)"/>
<text x="625.00" y="76.00" font-size="9.1" text-anchor="start" fill="#231f20" >Chromosomes</text>
<rect x="638.90" y="81.90" width="6.00" height="7.70" fill="#ff0010" />
<text x="646.30" y="88.50" font-size="7.6" text-anchor="start" fill="#231f20" >1</text>
<rect x="657.20" y="78.90" width="6.00" height="8.30" fill="#10f0d0" />
<text x="664.60" y="85.90" font-size="7.6" text-anchor="start" fill="#231f20" >11</text>
<rect x="638.90" y="89.50" width="6.00" height="7.70" fill="#ff4010" />
<text x="646.30" y="96.10" font-size="7.6" text-anchor="start" fill="#231f20" >2</text>
<rect x="657.20" y="87.09" width="6.00" height="8.30" fill="#10d8f0" />
<text x="664.60" y="94.09" font-size="7.6" text-anchor="start" fill="#231f20" >12</text>
<rect x="638.90" y="97.10" width="6.00" height="7.70" fill="#ff8a00" />
<text x="646.30" y="103.70" font-size="7.6" text-anchor="start" fill="#231f20" >3</text>
<rect x="657.20" y="95.28" width="6.00" height="8.30" fill="#1090f0" />
<text x="664.60" y="102.28" font-size="7.6" text-anchor="start" fill="#231f20" >13</text>
<rect x="638.90" y="104.70" width="6.00" height="7.70" fill="#ffcc00" />
<text x="646.30" y="111.30" font-size="7.6" text-anchor="start" fill="#231f20" >4</text>
<rect x="657.20" y="103.47" width="6.00" height="8.30" fill="#1050f0" />
<text x="664.60" y="110.47" font-size="7.6" text-anchor="start" fill="#231f20" >14</text>
<rect x="638.90" y="112.30" width="6.00" height="7.70" fill="#d8f000" />
<text x="646.30" y="118.90" font-size="7.6" text-anchor="start" fill="#231f20" >5</text>
<rect x="657.20" y="111.66" width="6.00" height="8.30" fill="#0000f0" />
<text x="664.60" y="118.66" font-size="7.6" text-anchor="start" fill="#231f20" >15</text>
<rect x="638.90" y="119.90" width="6.00" height="7.70" fill="#a8f000" />
<text x="646.30" y="126.50" font-size="7.6" text-anchor="start" fill="#231f20" >6</text>
<rect x="657.20" y="119.85" width="6.00" height="8.30" fill="#4000f0" />
<text x="664.60" y="126.85" font-size="7.6" text-anchor="start" fill="#231f20" >16</text>
<rect x="638.90" y="127.50" width="6.00" height="7.70" fill="#60e820" />
<text x="646.30" y="134.10" font-size="7.6" text-anchor="start" fill="#231f20" >7</text>
<rect x="657.20" y="128.04" width="6.00" height="8.30" fill="#8000f0" />
<text x="664.60" y="135.04" font-size="7.6" text-anchor="start" fill="#231f20" >17</text>
<rect x="638.90" y="135.10" width="6.00" height="7.70" fill="#00f000" />
<text x="646.30" y="141.70" font-size="7.6" text-anchor="start" fill="#231f20" >8</text>
<rect x="657.20" y="136.23" width="6.00" height="8.30" fill="#e000f0" />
<text x="664.60" y="143.23" font-size="7.6" text-anchor="start" fill="#231f20" >18</text>
<rect x="638.90" y="142.70" width="6.00" height="7.70" fill="#10f060" />
<text x="646.30" y="149.30" font-size="7.6" text-anchor="start" fill="#231f20" >9</text>
<rect x="657.20" y="144.42" width="6.00" height="8.30" fill="#f000d0" />
<text x="664.60" y="151.42" font-size="7.6" text-anchor="start" fill="#231f20" >19</text>
<rect x="638.90" y="150.30" width="6.00" height="7.70" fill="#10f0a0" />
<text x="646.30" y="156.90" font-size="7.6" text-anchor="start" fill="#231f20" >10</text>
<rect x="657.20" y="152.61" width="6.00" height="8.30" fill="#f00080" />
<text x="664.60" y="159.61" font-size="7.6" text-anchor="start" fill="#231f20" >20</text>
<rect x="13.30" y="276.60" width="8.08" height="8.05" fill="#ffffff" />
<rect x="21.03" y="276.60" width="8.08" height="8.05" fill="#b72230" />
<rect x="28.76" y="276.60" width="8.08" height="8.05" fill="#dc6e57" />
<rect x="36.49" y="276.60" width="8.08" height="8.05" fill="#b72230" />
<rect x="44.21" y="276.60" width="8.08" height="8.05" fill="#b72230" />
<rect x="51.94" y="276.60" width="8.08" height="8.05" fill="#e48066" />
<rect x="59.67" y="276.60" width="8.08" height="8.05" fill="#c94741" />
<rect x="67.40" y="276.60" width="8.08" height="8.05" fill="#d55d4c" />
<rect x="75.13" y="276.60" width="8.08" height="8.05" fill="#fdddcb" />
<rect x="82.86" y="276.60" width="8.08" height="8.05" fill="#fcd7c2" />
<rect x="90.59" y="276.60" width="8.08" height="8.05" fill="#f6af8e" />
<rect x="98.31" y="276.60" width="8.08" height="8.05" fill="#f8bda1" />
<rect x="106.04" y="276.60" width="8.08" height="8.05" fill="#edf2f5" />
<rect x="113.77" y="276.60" width="8.08" height="8.05" fill="#f7b799" />
<rect x="121.50" y="276.60" width="8.08" height="8.05" fill="#9dcbe1" />
<rect x="129.23" y="276.60" width="8.08" height="8.05" fill="#90c4dd" />
<rect x="136.96" y="276.60" width="8.08" height="8.05" fill="#edf2f5" />
<rect x="144.69" y="276.60" width="8.08" height="8.05" fill="#053061" />
<rect x="152.41" y="276.60" width="8.08" height="8.05" fill="#0f437b" />
<rect x="160.14" y="276.60" width="8.08" height="8.05" fill="#0f437b" />
<rect x="167.87" y="276.60" width="8.08" height="8.05" fill="#1e61a5" />
<rect x="13.30" y="284.30" width="8.08" height="8.05" fill="#b72230" />
<rect x="21.03" y="284.30" width="8.08" height="8.05" fill="#ffffff" />
<rect x="28.76" y="284.30" width="8.08" height="8.05" fill="#c94741" />
<rect x="36.49" y="284.30" width="8.08" height="8.05" fill="#b72230" />
<rect x="44.21" y="284.30" width="8.08" height="8.05" fill="#dc6e57" />
<rect x="51.94" y="284.30" width="8.08" height="8.05" fill="#ea8e70" />
<rect x="59.67" y="284.30" width="8.08" height="8.05" fill="#c6413e" />
<rect x="67.40" y="284.30" width="8.08" height="8.05" fill="#e27b62" />
<rect x="75.13" y="284.30" width="8.08" height="8.05" fill="#f9f0eb" />
<rect x="82.86" y="284.30" width="8.08" height="8.05" fill="#f9f0eb" />
<rect x="90.59" y="284.30" width="8.08" height="8.05" fill="#d55d4c" />
<rect x="98.31" y="284.30" width="8.08" height="8.05" fill="#f3a481" />
<rect x="106.04" y="284.30" width="8.08" height="8.05" fill="#d4e6f1" />
<rect x="113.77" y="284.30" width="8.08" height="8.05" fill="#e48066" />
<rect x="121.50" y="284.30" width="8.08" height="8.05" fill="#a7d0e4" />
<rect x="129.23" y="284.30" width="8.08" height="8.05" fill="#90c4dd" />
<rect x="136.96" y="284.30" width="8.08" height="8.05" fill="#a2cde3" />
<rect x="144.69" y="284.30" width="8.08" height="8.05" fill="#266caf" />
<rect x="152.41" y="284.30" width="8.08" height="8.05" fill="#144e8a" />
<rect x="160.14" y="284.30" width="8.08" height="8.05" fill="#144e8a" />
<rect x="167.87" y="284.30" width="8.08" height="8.05" fill="#0f437b" />
<rect x="13.30" y="291.99" width="8.08" height="8.05" fill="#dc6e57" />
<rect x="21.03" y="291.99" width="8.08" height="8.05" fill="#c94741" />
<rect x="28.76" y="291.99" width="8.08" height="8.05" fill="#ffffff" />
<rect x="36.49" y="291.99" width="8.08" height="8.05" fill="#e27b62" />
<rect x="44.21" y="291.99" width="8.08" height="8.05" fill="#d55d4c" />
<rect x="51.94" y="291.99" width="8.08" height="8.05" fill="#fdddcb" />
<rect x="59.67" y="291.99" width="8.08" height="8.05" fill="#d25849" />
<rect x="67.40" y="291.99" width="8.08" height="8.05" fill="#de735c" />
<rect x="75.13" y="291.99" width="8.08" height="8.05" fill="#c2383a" />
<rect x="82.86" y="291.99" width="8.08" height="8.05" fill="#f9f0eb" />
<rect x="90.59" y="291.99" width="8.08" height="8.05" fill="#c5dfec" />
<rect x="98.31" y="291.99" width="8.08" height="8.05" fill="#fbe3d4" />
<rect x="106.04" y="291.99" width="8.08" height="8.05" fill="#fdddcb" />
<rect x="113.77" y="291.99" width="8.08" height="8.05" fill="#f3f5f6" />
<rect x="121.50" y="291.99" width="8.08" height="8.05" fill="#62a7ce" />
<rect x="129.23" y="291.99" width="8.08" height="8.05" fill="#a7d0e4" />
<rect x="136.96" y="291.99" width="8.08" height="8.05" fill="#62a7ce" />
<rect x="144.69" y="291.99" width="8.08" height="8.05" fill="#529dc8" />
<rect x="152.41" y="291.99" width="8.08" height="8.05" fill="#3783bb" />
<rect x="160.14" y="291.99" width="8.08" height="8.05" fill="#3783bb" />
<rect x="167.87" y="291.99" width="8.08" height="8.05" fill="#1e61a5" />
<rect x="13.30" y="299.69" width="8.08" height="8.05" fill="#b72230" />
<rect x="21.03" y="299.69" width="8.08" height="8.05" fill="#b72230" />
<rect x="28.76" y="299.69" width="8.08" height="8.05" fill="#e27b62" />
<rect x="36.49" y="299.69" width="8.08" height="8.05" fill="#ffffff" />
<rect x="44.21" y="299.69" width="8.08" height="8.05" fill="#f6af8e" />
<rect x="51.94" y="299.69" width="8.08" height="8.05" fill="#d55d4c" />
<rect x="59.67" y="299.69" width="8.08" height="8.05" fill="#d25849" />
<rect x="67.40" y="299.69" width="8.08" height="8.05" fill="#edf2f5" />
<rect x="75.13" y="299.69" width="8.08" height="8.05" fill="#faeae1" />
<rect x="82.86" y="299.69" width="8.08" height="8.05" fill="#fcd7c2" />
<rect x="90.59" y="299.69" width="8.08" height="8.05" fill="#e27b62" />
<rect x="98.31" y="299.69" width="8.08" height="8.05" fill="#e8896c" />
<rect x="106.04" y="299.69" width="8.08" height="8.05" fill="#c5dfec" />
<rect x="113.77" y="299.69" width="8.08" height="8.05" fill="#529dc8" />
<rect x="121.50" y="299.69" width="8.08" height="8.05" fill="#f0f4f6" />
<rect x="129.23" y="299.69" width="8.08" height="8.05" fill="#aed3e6" />
<rect x="136.96" y="299.69" width="8.08" height="8.05" fill="#cce2ef" />
<rect x="144.69" y="299.69" width="8.08" height="8.05" fill="#3f8ec0" />
<rect x="152.41" y="299.69" width="8.08" height="8.05" fill="#3783bb" />
<rect x="160.14" y="299.69" width="8.08" height="8.05" fill="#3f8ec0" />
<rect x="167.87" y="299.69" width="8.08" height="8.05" fill="#307ab6" />
<rect x="13.30" y="307.38" width="8.08" height="8.05" fill="#b72230" />
<rect x="21.03" y="307.38" width="8.08" height="8.05" fill="#dc6e57" />
<rect x="28.76" y="307.38" width="8.08" height="8.05" fill="#d55d4c" />
<rect x="36.49" y="307.38" width="8.08" height="8.05" fill="#f6af8e" />
<rect x="44.21" y="307.38" width="8.08" height="8.05" fill="#ffffff" />
<rect x="51.94" y="307.38" width="8.08" height="8.05" fill="#de735c" />
<rect x="59.67" y="307.38" width="8.08" height="8.05" fill="#c94741" />
<rect x="67.40" y="307.38" width="8.08" height="8.05" fill="#e8896c" />
<rect x="75.13" y="307.38" width="8.08" height="8.05" fill="#e8896c" />
<rect x="82.86" y="307.38" width="8.08" height="8.05" fill="#b72230" />
<rect x="90.59" y="307.38" width="8.08" height="8.05" fill="#fac8af" />
<rect x="98.31" y="307.38" width="8.08" height="8.05" fill="#bbdaea" />
<rect x="106.04" y="307.38" width="8.08" height="8.05" fill="#f9c2a7" />
<rect x="113.77" y="307.38" width="8.08" height="8.05" fill="#529dc8" />
<rect x="121.50" y="307.38" width="8.08" height="8.05" fill="#529dc8" />
<rect x="129.23" y="307.38" width="8.08" height="8.05" fill="#aed3e6" />
<rect x="136.96" y="307.38" width="8.08" height="8.05" fill="#3783bb" />
<rect x="144.69" y="307.38" width="8.08" height="8.05" fill="#529dc8" />
<rect x="152.41" y="307.38" width="8.08" height="8.05" fill="#2c75b4" />
<rect x="160.14" y="307.38" width="8.08" height="8.05" fill="#3f8ec0" />
<rect x="167.87" y="307.38" width="8.08" height="8.05" fill="#2c75b4" />
<rect x="13.30" y="315.08" width="8.08" height="8.05" fill="#e48066" />
<rect x="21.03" y="315.08" width="8.08" height="8.05" fill="#ea8e70" />
<rect x="28.76" y="315.08" width="8.08" height="8.05" fill="#fdddcb" />
<rect x="36.49" y="315.08" width="8.08" height="8.05" fill="#d55d4c" />
<rect x="44.21" y="315.08" width="8.08" height="8.05" fill="#de735c" />
<rect x="51.94" y="315.08" width="8.08" height="8.05" fill="#ffffff" />
<rect x="59.67" y="315.08" width="8.08" height="8.05" fill="#f3a481" />
<rect x="67.40" y="315.08" width="8.08" height="8.05" fill="#de735c" />
<rect x="75.13" y="315.08" width="8.08" height="8.05" fill="#f7f6f6" />
<rect x="82.86" y="315.08" width="8.08" height="8.05" fill="#a7d0e4" />
<rect x="90.59" y="315.08" width="8.08" height="8.05" fill="#f7b799" />
<rect x="98.31" y="315.08" width="8.08" height="8.05" fill="#f7b799" />
<rect x="106.04" y="315.08" width="8.08" height="8.05" fill="#dbeaf2" />
<rect x="113.77" y="315.08" width="8.08" height="8.05" fill="#f6af8e" />
<rect x="121.50" y="315.08" width="8.08" height="8.05" fill="#fbe5d8" />
<rect x="129.23" y="315.08" width="8.08" height="8.05" fill="#dbeaf2" />
<rect x="136.96" y="315.08" width="8.08" height="8.05" fill="#d25849" />
<rect x="144.69" y="315.08" width="8.08" height="8.05" fill="#307ab6" />
<rect x="152.41" y="315.08" width="8.08" height="8.05" fill="#3b88be" />
<rect x="160.14" y="315.08" width="8.08" height="8.05" fill="#2a71b2" />
<rect x="167.87" y="315.08" width="8.08" height="8.05" fill="#3f8ec0" />
<rect x="13.30" y="322.77" width="8.08" height="8.05" fill="#c94741" />
<rect x="21.03" y="322.77" width="8.08" height="8.05" fill="#c6413e" />
<rect x="28.76" y="322.77" width="8.08" height="8.05" fill="#d25849" />
<rect x="36.49" y="322.77" width="8.08" height="8.05" fill="#d25849" />
<rect x="44.21" y="322.77" width="8.08" height="8.05" fill="#c94741" />
<rect x="51.94" y="322.77" width="8.08" height="8.05" fill="#f3a481" />
<rect x="59.67" y="322.77" width="8.08" height="8.05" fill="#ffffff" />
<rect x="67.40" y="322.77" width="8.08" height="8.05" fill="#dc6e57" />
<rect x="75.13" y="322.77" width="8.08" height="8.05" fill="#deebf2" />
<rect x="82.86" y="322.77" width="8.08" height="8.05" fill="#ce4f45" />
<rect x="90.59" y="322.77" width="8.08" height="8.05" fill="#deebf2" />
<rect x="98.31" y="322.77" width="8.08" height="8.05" fill="#fdddcb" />
<rect x="106.04" y="322.77" width="8.08" height="8.05" fill="#e3edf3" />
<rect x="113.77" y="322.77" width="8.08" height="8.05" fill="#cce2ef" />
<rect x="121.50" y="322.77" width="8.08" height="8.05" fill="#d4e6f1" />
<rect x="129.23" y="322.77" width="8.08" height="8.05" fill="#e9f0f4" />
<rect x="136.96" y="322.77" width="8.08" height="8.05" fill="#529dc8" />
<rect x="144.69" y="322.77" width="8.08" height="8.05" fill="#3480b9" />
<rect x="152.41" y="322.77" width="8.08" height="8.05" fill="#0c3d73" />
<rect x="160.14" y="322.77" width="8.08" height="8.05" fill="#2c75b4" />
<rect x="167.87" y="322.77" width="8.08" height="8.05" fill="#1b5a9c" />
<rect x="13.30" y="330.47" width="8.08" height="8.05" fill="#d55d4c" />
<rect x="21.03" y="330.47" width="8.08" height="8.05" fill="#e27b62" />
<rect x="28.76" y="330.47" width="8.08" height="8.05" fill="#de735c" />
<rect x="36.49" y="330.47" width="8.08" height="8.05" fill="#edf2f5" />
<rect x="44.21" y="330.47" width="8.08" height="8.05" fill="#e8896c" />
<rect x="51.94" y="330.47" width="8.08" height="8.05" fill="#de735c" />
<rect x="59.67" y="330.47" width="8.08" height="8.05" fill="#dc6e57" />
<rect x="67.40" y="330.47" width="8.08" height="8.05" fill="#ffffff" />
<rect x="75.13" y="330.47" width="8.08" height="8.05" fill="#fbe3d4" />
<rect x="82.86" y="330.47" width="8.08" height="8.05" fill="#fcd7c2" />
<rect x="90.59" y="330.47" width="8.08" height="8.05" fill="#edf2f5" />
<rect x="98.31" y="330.47" width="8.08" height="8.05" fill="#f9f0eb" />
<rect x="106.04" y="330.47" width="8.08" height="8.05" fill="#f7b799" />
<rect x="113.77" y="330.47" width="8.08" height="8.05" fill="#529dc8" />
<rect x="121.50" y="330.47" width="8.08" height="8.05" fill="#fdddcb" />
<rect x="129.23" y="330.47" width="8.08" height="8.05" fill="#e6eff4" />
<rect x="136.96" y="330.47" width="8.08" height="8.05" fill="#4291c2" />
<rect x="144.69" y="330.47" width="8.08" height="8.05" fill="#bbdaea" />
<rect x="152.41" y="330.47" width="8.08" height="8.05" fill="#87beda" />
<rect x="160.14" y="330.47" width="8.08" height="8.05" fill="#9dcbe1" />
<rect x="167.87" y="330.47" width="8.08" height="8.05" fill="#4291c2" />
<rect x="13.30" y="338.16" width="8.08" height="8.05" fill="#fdddcb" />
<rect x="21.03" y="338.16" width="8.08" height="8.05" fill="#f9f0eb" />
<rect x="28.76" y="338.16" width="8.08" height="8.05" fill="#c2383a" />
<rect x="36.49" y="338.16" width="8.08" height="8.05" fill="#faeae1" />
<rect x="44.21" y="338.16" width="8.08" height="8.05" fill="#e8896c" />
<rect x="51.94" y="338.16" width="8.08" height="8.05" fill="#f7f6f6" />
<rect x="59.67" y="338.16" width="8.08" height="8.05" fill="#deebf2" />
<rect x="67.40" y="338.16" width="8.08" height="8.05" fill="#fbe3d4" />
<rect x="75.13" y="338.16" width="8.08" height="8.05" fill="#ffffff" />
<rect x="82.86" y="338.16" width="8.08" height="8.05" fill="#fac8af" />
<rect x="90.59" y="338.16" width="8.08" height="8.05" fill="#f8f4f2" />
<rect x="98.31" y="338.16" width="8.08" height="8.05" fill="#ee9677" />
<rect x="106.04" y="338.16" width="8.08" height="8.05" fill="#edf2f5" />
<rect x="113.77" y="338.16" width="8.08" height="8.05" fill="#c6413e" />
<rect x="121.50" y="338.16" width="8.08" height="8.05" fill="#bbdaea" />
<rect x="129.23" y="338.16" width="8.08" height="8.05" fill="#e3edf3" />
<rect x="136.96" y="338.16" width="8.08" height="8.05" fill="#90c4dd" />
<rect x="144.69" y="338.16" width="8.08" height="8.05" fill="#dbeaf2" />
<rect x="152.41" y="338.16" width="8.08" height="8.05" fill="#62a7ce" />
<rect x="160.14" y="338.16" width="8.08" height="8.05" fill="#d25849" />
<rect x="167.87" y="338.16" width="8.08" height="8.05" fill="#71b0d3" />
<rect x="13.30" y="345.86" width="8.08" height="8.05" fill="#fcd7c2" />
<rect x="21.03" y="345.86" width="8.08" height="8.05" fill="#f9f0eb" />
<rect x="28.76" y="345.86" width="8.08" height="8.05" fill="#f9f0eb" />
<rect x="36.49" y="345.86" width="8.08" height="8.05" fill="#fcd7c2" />
<rect x="44.21" y="345.86" width="8.08" height="8.05" fill="#b72230" />
<rect x="51.94" y="345.86" width="8.08" height="8.05" fill="#a7d0e4" />
<rect x="59.67" y="345.86" width="8.08" height="8.05" fill="#ce4f45" />
<rect x="67.40" y="345.86" width="8.08" height="8.05" fill="#fcd7c2" />
<rect x="75.13" y="345.86" width="8.08" height="8.05" fill="#fac8af" />
<rect x="82.86" y="345.86" width="8.08" height="8.05" fill="#ffffff" />
<rect x="90.59" y="345.86" width="8.08" height="8.05" fill="#bbdaea" />
<rect x="98.31" y="345.86" width="8.08" height="8.05" fill="#bbdaea" />
<rect x="106.04" y="345.86" width="8.08" height="8.05" fill="#fdddcb" />
<rect x="113.77" y="345.86" width="8.08" height="8.05" fill="#f7b799" />
<rect x="121.50" y="345.86" width="8.08" height="8.05" fill="#f8f2ef" />
<rect x="129.23" y="345.86" width="8.08" height="8.05" fill="#fbe3d4" />
<rect x="136.96" y="345.86" width="8.08" height="8.05" fill="#b72230" />
<rect x="144.69" y="345.86" width="8.08" height="8.05" fill="#4291c2" />
<rect x="152.41" y="345.86" width="8.08" height="8.05" fill="#4291c2" />
<rect x="160.14" y="345.86" width="8.08" height="8.05" fill="#3b88be" />
<rect x="167.87" y="345.86" width="8.08" height="8.05" fill="#1e61a5" />
<rect x="13.30" y="353.55" width="8.08" height="8.05" fill="#f6af8e" />
<rect x="21.03" y="353.55" width="8.08" height="8.05" fill="#d55d4c" />
<rect x="28.76" y="353.55" width="8.08" height="8.05" fill="#c5dfec" />
<rect x="36.49" y="353.55" width="8.08" height="8.05" fill="#e27b62" />
<rect x="44.21" y="353.55" width="8.08" height="8.05" fill="#fac8af" />
<rect x="51.94" y="353.55" width="8.08" height="8.05" fill="#f7b799" />
<rect x="59.67" y="353.55" width="8.08" height="8.05" fill="#deebf2" />
<rect x="67.40" y="353.55" width="8.08" height="8.05" fill="#edf2f5" />
<rect x="75.13" y="353.55" width="8.08" height="8.05" fill="#f8f4f2" />
<rect x="82.86" y="353.55" width="8.08" height="8.05" fill="#bbdaea" />
<rect x="90.59" y="353.55" width="8.08" height="8.05" fill="#ffffff" />
<rect x="98.31" y="353.55" width="8.08" height="8.05" fill="#ee9677" />
<rect x="106.04" y="353.55" width="8.08" height="8.05" fill="#d8e9f1" />
<rect x="113.77" y="353.55" width="8.08" height="8.05" fill="#b72230" />
<rect x="121.50" y="353.55" width="8.08" height="8.05" fill="#e8896c" />
<rect x="129.23" y="353.55" width="8.08" height="8.05" fill="#e9f0f4" />
<rect x="136.96" y="353.55" width="8.08" height="8.05" fill="#b3192c" />
<rect x="144.69" y="353.55" width="8.08" height="8.05" fill="#1e61a5" />
<rect x="152.41" y="353.55" width="8.08" height="8.05" fill="#78b4d5" />
<rect x="160.14" y="353.55" width="8.08" height="8.05" fill="#1b5a9c" />
<rect x="167.87" y="353.55" width="8.08" height="8.05" fill="#185493" />
<rect x="13.30" y="361.25" width="8.08" height="8.05" fill="#f8bda1" />
<rect x="21.03" y="361.25" width="8.08" height="8.05" fill="#f3a481" />
<rect x="28.76" y="361.25" width="8.08" height="8.05" fill="#fbe3d4" />
<rect x="36.49" y="361.25" width="8.08" height="8.05" fill="#e8896c" />
<rect x="44.21" y="361.25" width="8.08" height="8.05" fill="#bbdaea" />
<rect x="51.94" y="361.25" width="8.08" height="8.05" fill="#f7b799" />
<rect x="59.67" y="361.25" width="8.08" height="8.05" fill="#fdddcb" />
<rect x="67.40" y="361.25" width="8.08" height="8.05" fill="#f9f0eb" />
<rect x="75.13" y="361.25" width="8.08" height="8.05" fill="#ee9677" />
<rect x="82.86" y="361.25" width="8.08" height="8.05" fill="#bbdaea" />
<rect x="90.59" y="361.25" width="8.08" height="8.05" fill="#ee9677" />
<rect x="98.31" y="361.25" width="8.08" height="8.05" fill="#ffffff" />
<rect x="106.04" y="361.25" width="8.08" height="8.05" fill="#e6eff4" />
<rect x="113.77" y="361.25" width="8.08" height="8.05" fill="#dbeaf2" />
<rect x="121.50" y="361.25" width="8.08" height="8.05" fill="#fbd0b9" />
<rect x="129.23" y="361.25" width="8.08" height="8.05" fill="#fbe3d4" />
<rect x="136.96" y="361.25" width="8.08" height="8.05" fill="#f8bda1" />
<rect x="144.69" y="361.25" width="8.08" height="8.05" fill="#c0dceb" />
<rect x="152.41" y="361.25" width="8.08" height="8.05" fill="#a7d0e4" />
<rect x="160.14" y="361.25" width="8.08" height="8.05" fill="#e6eff4" />
<rect x="167.87" y="361.25" width="8.08" height="8.05" fill="#87beda" />
<rect x="13.30" y="368.94" width="8.08" height="8.05" fill="#edf2f5" />
<rect x="21.03" y="368.94" width="8.08" height="8.05" fill="#d4e6f1" />
<rect x="28.76" y="368.94" width="8.08" height="8.05" fill="#fdddcb" />
<rect x="36.49" y="368.94" width="8.08" height="8.05" fill="#c5dfec" />
<rect x="44.21" y="368.94" width="8.08" height="8.05" fill="#f9c2a7" />
<rect x="51.94" y="368.94" width="8.08" height="8.05" fill="#dbeaf2" />
<rect x="59.67" y="368.94" width="8.08" height="8.05" fill="#e3edf3" />
<rect x="67.40" y="368.94" width="8.08" height="8.05" fill="#f7b799" />
<rect x="75.13" y="368.94" width="8.08" height="8.05" fill="#edf2f5" />
<rect x="82.86" y="368.94" width="8.08" height="8.05" fill="#fdddcb" />
<rect x="90.59" y="368.94" width="8.08" height="8.05" fill="#d8e9f1" />
<rect x="98.31" y="368.94" width="8.08" height="8.05" fill="#e6eff4" />
<rect x="106.04" y="368.94" width="8.08" height="8.05" fill="#ffffff" />
<rect x="113.77" y="368.94" width="8.08" height="8.05" fill="#90c4dd" />
<rect x="121.50" y="368.94" width="8.08" height="8.05" fill="#fbd0b9" />
<rect x="129.23" y="368.94" width="8.08" height="8.05" fill="#f09c7b" />
<rect x="136.96" y="368.94" width="8.08" height="8.05" fill="#bbdaea" />
<rect x="144.69" y="368.94" width="8.08" height="8.05" fill="#b72230" />
<rect x="152.41" y="368.94" width="8.08" height="8.05" fill="#8a0b25" />
<rect x="160.14" y="368.94" width="8.08" height="8.05" fill="#be3036" />
<rect x="167.87" y="368.94" width="8.08" height="8.05" fill="#d25849" />
<rect x="13.30" y="376.64" width="8.08" height="8.05" fill="#f7b799" />
<rect x="21.03" y="376.64" width="8.08" height="8.05" fill="#e48066" />
<rect x="28.76" y="376.64" width="8.08" height="8.05" fill="#f3f5f6" />
<rect x="36.49" y="376.64" width="8.08" height="8.05" fill="#529dc8" />
<rect x="44.21" y="376.64" width="8.08" height="8.05" fill="#529dc8" />
<rect x="51.94" y="376.64" width="8.08" height="8.05" fill="#f6af8e" />
<rect x="59.67" y="376.64" width="8.08" height="8.05" fill="#cce2ef" />
<rect x="67.40" y="376.64" width="8.08" height="8.05" fill="#529dc8" />
<rect x="75.13" y="376.64" width="8.08" height="8.05" fill="#c6413e" />
<rect x="82.86" y="376.64" width="8.08" height="8.05" fill="#f7b799" />
<rect x="90.59" y="376.64" width="8.08" height="8.05" fill="#b72230" />
<rect x="98.31" y="376.64" width="8.08" height="8.05" fill="#dbeaf2" />
<rect x="106.04" y="376.64" width="8.08" height="8.05" fill="#90c4dd" />
<rect x="113.77" y="376.64" width="8.08" height="8.05" fill="#ffffff" />
<rect x="121.50" y="376.64" width="8.08" height="8.05" fill="#f9ede5" />
<rect x="129.23" y="376.64" width="8.08" height="8.05" fill="#c5dfec" />
<rect x="136.96" y="376.64" width="8.08" height="8.05" fill="#900d26" />
<rect x="144.69" y="376.64" width="8.08" height="8.05" fill="#68abd0" />
<rect x="152.41" y="376.64" width="8.08" height="8.05" fill="#a21328" />
<rect x="160.14" y="376.64" width="8.08" height="8.05" fill="#62a7ce" />
<rect x="167.87" y="376.64" width="8.08" height="8.05" fill="#a7d0e4" />
<rect x="13.30" y="384.33" width="8.08" height="8.05" fill="#9dcbe1" />
<rect x="21.03" y="384.33" width="8.08" height="8.05" fill="#a7d0e4" />
<rect x="28.76" y="384.33" width="8.08" height="8.05" fill="#62a7ce" />
<rect x="36.49" y="384.33" width="8.08" height="8.05" fill="#f0f4f6" />
<rect x="44.21" y="384.33" width="8.08" height="8.05" fill="#529dc8" />
<rect x="51.94" y="384.33" width="8.08" height="8.05" fill="#fbe5d8" />
<rect x="59.67" y="384.33" width="8.08" height="8.05" fill="#d4e6f1" />
<rect x="67.40" y="384.33" width="8.08" height="8.05" fill="#fdddcb" />
<rect x="75.13" y="384.33" width="8.08" height="8.05" fill="#bbdaea" />
<rect x="82.86" y="384.33" width="8.08" height="8.05" fill="#f8f2ef" />
<rect x="90.59" y="384.33" width="8.08" height="8.05" fill="#e8896c" />
<rect x="98.31" y="384.33" width="8.08" height="8.05" fill="#fbd0b9" />
<rect x="106.04" y="384.33" width="8.08" height="8.05" fill="#fbd0b9" />
<rect x="113.77" y="384.33" width="8.08" height="8.05" fill="#f9ede5" />
<rect x="121.50" y="384.33" width="8.08" height="8.05" fill="#ffffff" />
<rect x="129.23" y="384.33" width="8.08" height="8.05" fill="#c94741" />
<rect x="136.96" y="384.33" width="8.08" height="8.05" fill="#fbd0b9" />
<rect x="144.69" y="384.33" width="8.08" height="8.05" fill="#b72230" />
<rect x="152.41" y="384.33" width="8.08" height="8.05" fill="#991027" />
<rect x="160.14" y="384.33" width="8.08" height="8.05" fill="#991027" />
<rect x="167.87" y="384.33" width="8.08" height="8.05" fill="#991027" />
<rect x="13.30" y="392.03" width="8.08" height="8.05" fill="#90c4dd" />
<rect x="21.03" y="392.03" width="8.08" height="8.05" fill="#90c4dd" />
<rect x="28.76" y="392.03" width="8.08" height="8.05" fill="#a7d0e4" />
<rect x="36.49" y="392.03" width="8.08" height="8.05" fill="#aed3e6" />
<rect x="44.21" y="392.03" width="8.08" height="8.05" fill="#aed3e6" />
<rect x="51.94" y="392.03" width="8.08" height="8.05" fill="#dbeaf2" />
<rect x="59.67" y="392.03" width="8.08" height="8.05" fill="#e9f0f4" />
<rect x="67.40" y="392.03" width="8.08" height="8.05" fill="#e6eff4" />
<rect x="75.13" y="392.03" width="8.08" height="8.05" fill="#e3edf3" />
<rect x="82.86" y="392.03" width="8.08" height="8.05" fill="#fbe3d4" />
<rect x="90.59" y="392.03" width="8.08" height="8.05" fill="#e9f0f4" />
<rect x="98.31" y="392.03" width="8.08" height="8.05" fill="#fbe3d4" />
<rect x="106.04" y="392.03" width="8.08" height="8.05" fill="#f09c7b" />
<rect x="113.77" y="392.03" width="8.08" height="8.05" fill="#c5dfec" />
<rect x="121.50" y="392.03" width="8.08" height="8.05" fill="#c94741" />
<rect x="129.23" y="392.03" width="8.08" height="8.05" fill="#ffffff" />
<rect x="136.96" y="392.03" width="8.08" height="8.05" fill="#cce2ef" />
<rect x="144.69" y="392.03" width="8.08" height="8.05" fill="#8a0b25" />
<rect x="152.41" y="392.03" width="8.08" height="8.05" fill="#900d26" />
<rect x="160.14" y="392.03" width="8.08" height="8.05" fill="#8a0b25" />
<rect x="167.87" y="392.03" width="8.08" height="8.05" fill="#810823" />
<rect x="13.30" y="399.72" width="8.08" height="8.05" fill="#edf2f5" />
<rect x="21.03" y="399.72" width="8.08" height="8.05" fill="#a2cde3" />
<rect x="28.76" y="399.72" width="8.08" height="8.05" fill="#62a7ce" />
<rect x="36.49" y="399.72" width="8.08" height="8.05" fill="#cce2ef" />
<rect x="44.21" y="399.72" width="8.08" height="8.05" fill="#3783bb" />
<rect x="51.94" y="399.72" width="8.08" height="8.05" fill="#d25849" />
<rect x="59.67" y="399.72" width="8.08" height="8.05" fill="#529dc8" />
<rect x="67.40" y="399.72" width="8.08" height="8.05" fill="#4291c2" />
<rect x="75.13" y="399.72" width="8.08" height="8.05" fill="#90c4dd" />
<rect x="82.86" y="399.72" width="8.08" height="8.05" fill="#b72230" />
<rect x="90.59" y="399.72" width="8.08" height="8.05" fill="#b3192c" />
<rect x="98.31" y="399.72" width="8.08" height="8.05" fill="#f8bda1" />
<rect x="106.04" y="399.72" width="8.08" height="8.05" fill="#bbdaea" />
<rect x="113.77" y="399.72" width="8.08" height="8.05" fill="#900d26" />
<rect x="121.50" y="399.72" width="8.08" height="8.05" fill="#fbd0b9" />
<rect x="129.23" y="399.72" width="8.08" height="8.05" fill="#cce2ef" />
<rect x="136.96" y="399.72" width="8.08" height="8.05" fill="#ffffff" />
<rect x="144.69" y="399.72" width="8.08" height="8.05" fill="#529dc8" />
<rect x="152.41" y="399.72" width="8.08" height="8.05" fill="#810823" />
<rect x="160.14" y="399.72" width="8.08" height="8.05" fill="#90c4dd" />
<rect x="167.87" y="399.72" width="8.08" height="8.05" fill="#f6af8e" />
<rect x="13.30" y="407.42" width="8.08" height="8.05" fill="#053061" />
<rect x="21.03" y="407.42" width="8.08" height="8.05" fill="#266caf" />
<rect x="28.76" y="407.42" width="8.08" height="8.05" fill="#529dc8" />
<rect x="36.49" y="407.42" width="8.08" height="8.05" fill="#3f8ec0" />
<rect x="44.21" y="407.42" width="8.08" height="8.05" fill="#529dc8" />
<rect x="51.94" y="407.42" width="8.08" height="8.05" fill="#307ab6" />
<rect x="59.67" y="407.42" width="8.08" height="8.05" fill="#3480b9" />
<rect x="67.40" y="407.42" width="8.08" height="8.05" fill="#bbdaea" />
<rect x="75.13" y="407.42" width="8.08" height="8.05" fill="#dbeaf2" />
<rect x="82.86" y="407.42" width="8.08" height="8.05" fill="#4291c2" />
<rect x="90.59" y="407.42" width="8.08" height="8.05" fill="#1e61a5" />
<rect x="98.31" y="407.42" width="8.08" height="8.05" fill="#c0dceb" />
<rect x="106.04" y="407.42" width="8.08" height="8.05" fill="#b72230" />
<rect x="113.77" y="407.42" width="8.08" height="8.05" fill="#68abd0" />
<rect x="121.50" y="407.42" width="8.08" height="8.05" fill="#b72230" />
<rect x="129.23" y="407.42" width="8.08" height="8.05" fill="#8a0b25" />
<rect x="136.96" y="407.42" width="8.08" height="8.05" fill="#529dc8" />
<rect x="144.69" y="407.42" width="8.08" height="8.05" fill="#ffffff" />
<rect x="152.41" y="407.42" width="8.08" height="8.05" fill="#810823" />
<rect x="160.14" y="407.42" width="8.08" height="8.05" fill="#790622" />
<rect x="167.87" y="407.42" width="8.08" height="8.05" fill="#700320" />
<rect x="13.30" y="415.11" width="8.08" height="8.05" fill="#0f437b" />
<rect x="21.03" y="415.11" width="8.08" height="8.05" fill="#144e8a" />
<rect x="28.76" y="415.11" width="8.08" height="8.05" fill="#3783bb" />
<rect x="36.49" y="415.11" width="8.08" height="8.05" fill="#3783bb" />
<rect x="44.21" y="415.11" width="8.08" height="8.05" fill="#2c75b4" />
<rect x="51.94" y="415.11" width="8.08" height="8.05" fill="#3b88be" />
<rect x="59.67" y="415.11" width="8.08" height="8.05" fill="#0c3d73" />
<rect x="67.40" y="415.11" width="8.08" height="8.05" fill="#87beda" />
<rect x="75.13" y="415.11" width="8.08" height="8.05" fill="#62a7ce" />
<rect x="82.86" y="415.11" width="8.08" height="8.05" fill="#4291c2" />
<rect x="90.59" y="415.11" width="8.08" height="8.05" fill="#78b4d5" />
<rect x="98.31" y="415.11" width="8.08" height="8.05" fill="#a7d0e4" />
<rect x="106.04" y="415.11" width="8.08" height="8.05" fill="#8a0b25" />
<rect x="113.77" y="415.11" width="8.08" height="8.05" fill="#a21328" />
<rect x="121.50" y="415.11" width="8.08" height="8.05" fill="#991027" />
<rect x="129.23" y="415.11" width="8.08" height="8.05" fill="#900d26" />
<rect x="136.96" y="415.11" width="8.08" height="8.05" fill="#810823" />
<rect x="144.69" y="415.11" width="8.08" height="8.05" fill="#810823" />
<rect x="152.41" y="415.11" width="8.08" height="8.05" fill="#ffffff" />
<rect x="160.14" y="415.11" width="8.08" height="8.05" fill="#790622" />
<rect x="167.87" y="415.11" width="8.08" height="8.05" fill="#700320" />
<rect x="13.30" y="422.81" width="8.08" height="8.05" fill="#0f437b" />
<rect x="21.03" y="422.81" width="8.08" height="8.05" fill="#144e8a" />
<rect x="28.76" y="422.81" width="8.08" height="8.05" fill="#3783bb" />
<rect x="36.49" y="422.81" width="8.08" height="8.05" fill="#3f8ec0" />
<rect x="44.21" y="422.81" width="8.08" height="8.05" fill="#3f8ec0" />
<rect x="51.94" y="422.81" width="8.08" height="8.05" fill="#2a71b2" />
<rect x="59.67" y="422.81" width="8.08" height="8.05" fill="#2c75b4" />
<rect x="67.40" y="422.81" width="8.08" height="8.05" fill="#9dcbe1" />
<rect x="75.13" y="422.81" width="8.08" height="8.05" fill="#d25849" />
<rect x="82.86" y="422.81" width="8.08" height="8.05" fill="#3b88be" />
<rect x="90.59" y="422.81" width="8.08" height="8.05" fill="#1b5a9c" />
<rect x="98.31" y="422.81" width="8.08" height="8.05" fill="#e6eff4" />
<rect x="106.04" y="422.81" width="8.08" height="8.05" fill="#be3036" />
<rect x="113.77" y="422.81" width="8.08" height="8.05" fill="#62a7ce" />
<rect x="121.50" y="422.81" width="8.08" height="8.05" fill="#991027" />
<rect x="129.23" y="422.81" width="8.08" height="8.05" fill="#8a0b25" />
<rect x="136.96" y="422.81" width="8.08" height="8.05" fill="#90c4dd" />
<rect x="144.69" y="422.81" width="8.08" height="8.05" fill="#790622" />
<rect x="152.41" y="422.81" width="8.08" height="8.05" fill="#790622" />
<rect x="160.14" y="422.81" width="8.08" height="8.05" fill="#ffffff" />
<rect x="167.87" y="422.81" width="8.08" height="8.05" fill="#67001f" />
<rect x="13.30" y="430.50" width="8.08" height="8.05" fill="#1e61a5" />
<rect x="21.03" y="430.50" width="8.08" height="8.05" fill="#0f437b" />
<rect x="28.76" y="430.50" width="8.08" height="8.05" fill="#1e61a5" />
<rect x="36.49" y="430.50" width="8.08" height="8.05" fill="#307ab6" />
<rect x="44.21" y="430.50" width="8.08" height="8.05" fill="#2c75b4" />
<rect x="51.94" y="430.50" width="8.08" height="8.05" fill="#3f8ec0" />
<rect x="59.67" y="430.50" width="8.08" height="8.05" fill="#1b5a9c" />
<rect x="67.40" y="430.50" width="8.08" height="8.05" fill="#4291c2" />
<rect x="75.13" y="430.50" width="8.08" height="8.05" fill="#71b0d3" />
<rect x="82.86" y="430.50" width="8.08" height="8.05" fill="#1e61a5" />
<rect x="90.59" y="430.50" width="8.08" height="8.05" fill="#185493" />
<rect x="98.31" y="430.50" width="8.08" height="8.05" fill="#87beda" />
<rect x="106.04" y="430.50" width="8.08" height="8.05" fill="#d25849" />
<rect x="113.77" y="430.50" width="8.08" height="8.05" fill="#a7d0e4" />
<rect x="121.50" y="430.50" width="8.08" height="8.05" fill="#991027" />
<rect x="129.23" y="430.50" width="8.08" height="8.05" fill="#810823" />
<rect x="136.96" y="430.50" width="8.08" height="8.05" fill="#f6af8e" />
<rect x="144.69" y="430.50" width="8.08" height="8.05" fill="#700320" />
<rect x="152.41" y="430.50" width="8.08" height="8.05" fill="#700320" />
<rect x="160.14" y="430.50" width="8.08" height="8.05" fill="#67001f" />
<rect x="167.87" y="430.50" width="8.08" height="8.05" fill="#ffffff" />
<rect x="13.30" y="276.60" width="162.30" height="161.60" fill="none" stroke="#000" stroke-width="1"/>
<line x1="175.60" y1="280.50" x2="178.40" y2="280.50" stroke="#000" stroke-width="1.0" />
<text x="179.20" y="282.15" font-size="7.5" text-anchor="start" fill="#231f20" >1</text>
<line x1="17.50" y1="438.20" x2="17.50" y2="441.50" stroke="#000" stroke-width="1.0" />
<text font-size="8.7" text-anchor="middle" fill="#231f20" transform="translate(16.26 448.70) scale(0.93 1)">1</text>
<line x1="175.60" y1="288.50" x2="178.40" y2="288.50" stroke="#000" stroke-width="1.0" />
<text x="179.20" y="289.84" font-size="7.5" text-anchor="start" fill="#231f20" >2</text>
<line x1="24.50" y1="438.20" x2="24.50" y2="441.50" stroke="#000" stroke-width="1.0" />
<text font-size="8.7" text-anchor="middle" fill="#231f20" transform="translate(24.05 448.70) scale(0.93 1)">2</text>
<line x1="175.60" y1="295.50" x2="178.40" y2="295.50" stroke="#000" stroke-width="1.0" />
<text x="179.20" y="297.54" font-size="7.5" text-anchor="start" fill="#231f20" >3</text>
<line x1="32.50" y1="438.20" x2="32.50" y2="441.50" stroke="#000" stroke-width="1.0" />
<text font-size="8.7" text-anchor="middle" fill="#231f20" transform="translate(31.84 448.70) scale(0.93 1)">3</text>
<line x1="175.60" y1="303.50" x2="178.40" y2="303.50" stroke="#000" stroke-width="1.0" />
<text x="179.20" y="305.23" font-size="7.5" text-anchor="start" fill="#231f20" >4</text>
<line x1="40.50" y1="438.20" x2="40.50" y2="441.50" stroke="#000" stroke-width="1.0" />
<text font-size="8.7" text-anchor="middle" fill="#231f20" transform="translate(39.63 448.70) scale(0.93 1)">4</text>
<line x1="175.60" y1="311.50" x2="178.40" y2="311.50" stroke="#000" stroke-width="1.0" />
<text x="179.20" y="312.93" font-size="7.5" text-anchor="start" fill="#231f20" >6</text>
<line x1="48.50" y1="438.20" x2="48.50" y2="441.50" stroke="#000" stroke-width="1.0" />
<text font-size="8.7" text-anchor="middle" fill="#231f20" transform="translate(47.42 448.70) scale(0.93 1)">6</text>
<line x1="175.60" y1="318.50" x2="178.40" y2="318.50" stroke="#000" stroke-width="1.0" />
<text x="179.20" y="320.62" font-size="7.5" text-anchor="start" fill="#231f20" >7</text>
<line x1="55.50" y1="438.20" x2="55.50" y2="441.50" stroke="#000" stroke-width="1.0" />
<text font-size="8.7" text-anchor="middle" fill="#231f20" transform="translate(55.21 448.70) scale(0.93 1)">7</text>
<line x1="175.60" y1="326.50" x2="178.40" y2="326.50" stroke="#000" stroke-width="1.0" />
<text x="179.20" y="328.32" font-size="7.5" text-anchor="start" fill="#231f20" >5</text>
<line x1="63.50" y1="438.20" x2="63.50" y2="441.50" stroke="#000" stroke-width="1.0" />
<text font-size="8.7" text-anchor="middle" fill="#231f20" transform="translate(63.00 448.70) scale(0.93 1)">5</text>
<line x1="175.60" y1="334.50" x2="178.40" y2="334.50" stroke="#000" stroke-width="1.0" />
<text x="179.20" y="336.01" font-size="7.5" text-anchor="start" fill="#231f20" >8</text>
<line x1="71.50" y1="438.20" x2="71.50" y2="441.50" stroke="#000" stroke-width="1.0" />
<text font-size="8.7" text-anchor="middle" fill="#231f20" transform="translate(70.78 448.70) scale(0.93 1)">8</text>
<line x1="175.60" y1="342.50" x2="178.40" y2="342.50" stroke="#000" stroke-width="1.0" />
<text x="179.20" y="343.71" font-size="7.5" text-anchor="start" fill="#231f20" >9</text>
<line x1="78.50" y1="438.20" x2="78.50" y2="441.50" stroke="#000" stroke-width="1.0" />
<text font-size="8.7" text-anchor="middle" fill="#231f20" transform="translate(78.57 448.70) scale(0.93 1)">9</text>
<line x1="175.60" y1="349.50" x2="178.40" y2="349.50" stroke="#000" stroke-width="1.0" />
<text x="179.20" y="351.40" font-size="7.5" text-anchor="start" fill="#231f20" >21</text>
<line x1="86.50" y1="438.20" x2="86.50" y2="441.50" stroke="#000" stroke-width="1.0" />
<text font-size="8.7" text-anchor="middle" fill="#231f20" transform="translate(86.36 448.70) scale(0.93 1)">21</text>
<line x1="175.60" y1="357.50" x2="178.40" y2="357.50" stroke="#000" stroke-width="1.0" />
<text x="179.20" y="359.10" font-size="7.5" text-anchor="start" fill="#231f20" >11</text>
<line x1="94.50" y1="438.20" x2="94.50" y2="441.50" stroke="#000" stroke-width="1.0" />
<text font-size="8.7" text-anchor="middle" fill="#231f20" transform="translate(94.15 448.70) scale(0.93 1)">11</text>
<line x1="175.60" y1="365.50" x2="178.40" y2="365.50" stroke="#000" stroke-width="1.0" />
<text x="179.20" y="366.80" font-size="7.5" text-anchor="start" fill="#231f20" >10</text>
<line x1="102.50" y1="438.20" x2="102.50" y2="441.50" stroke="#000" stroke-width="1.0" />
<text font-size="8.7" text-anchor="middle" fill="#231f20" transform="translate(101.94 448.70) scale(0.93 1)">10</text>
<line x1="175.60" y1="372.50" x2="178.40" y2="372.50" stroke="#000" stroke-width="1.0" />
<text x="179.20" y="374.49" font-size="7.5" text-anchor="start" fill="#231f20" >14</text>
<line x1="109.50" y1="438.20" x2="109.50" y2="441.50" stroke="#000" stroke-width="1.0" />
<text font-size="8.7" text-anchor="middle" fill="#231f20" transform="translate(109.73 448.70) scale(0.93 1)">14</text>
<line x1="175.60" y1="380.50" x2="178.40" y2="380.50" stroke="#000" stroke-width="1.0" />
<text x="179.20" y="382.19" font-size="7.5" text-anchor="start" fill="#231f20" >13</text>
<line x1="117.50" y1="438.20" x2="117.50" y2="441.50" stroke="#000" stroke-width="1.0" />
<text font-size="8.7" text-anchor="middle" fill="#231f20" transform="translate(117.52 448.70) scale(0.93 1)">13</text>
<line x1="175.60" y1="388.50" x2="178.40" y2="388.50" stroke="#000" stroke-width="1.0" />
<text x="179.20" y="389.88" font-size="7.5" text-anchor="start" fill="#231f20" >16</text>
<line x1="125.50" y1="438.20" x2="125.50" y2="441.50" stroke="#000" stroke-width="1.0" />
<text font-size="8.7" text-anchor="middle" fill="#231f20" transform="translate(125.30 448.70) scale(0.93 1)">16</text>
<line x1="175.60" y1="395.50" x2="178.40" y2="395.50" stroke="#000" stroke-width="1.0" />
<text x="179.20" y="397.58" font-size="7.5" text-anchor="start" fill="#231f20" >15</text>
<line x1="133.50" y1="438.20" x2="133.50" y2="441.50" stroke="#000" stroke-width="1.0" />
<text font-size="8.7" text-anchor="middle" fill="#231f20" transform="translate(133.09 448.70) scale(0.93 1)">15</text>
<line x1="175.60" y1="403.50" x2="178.40" y2="403.50" stroke="#000" stroke-width="1.0" />
<text x="179.20" y="405.27" font-size="7.5" text-anchor="start" fill="#231f20" >12</text>
<line x1="140.50" y1="438.20" x2="140.50" y2="441.50" stroke="#000" stroke-width="1.0" />
<text font-size="8.7" text-anchor="middle" fill="#231f20" transform="translate(140.88 448.70) scale(0.93 1)">12</text>
<line x1="175.60" y1="411.50" x2="178.40" y2="411.50" stroke="#000" stroke-width="1.0" />
<text x="179.20" y="412.97" font-size="7.5" text-anchor="start" fill="#231f20" >18</text>
<line x1="148.50" y1="438.20" x2="148.50" y2="441.50" stroke="#000" stroke-width="1.0" />
<text font-size="8.7" text-anchor="middle" fill="#231f20" transform="translate(148.67 448.70) scale(0.93 1)">18</text>
<line x1="175.60" y1="418.50" x2="178.40" y2="418.50" stroke="#000" stroke-width="1.0" />
<text x="179.20" y="420.66" font-size="7.5" text-anchor="start" fill="#231f20" >17</text>
<line x1="156.50" y1="438.20" x2="156.50" y2="441.50" stroke="#000" stroke-width="1.0" />
<text font-size="8.7" text-anchor="middle" fill="#231f20" transform="translate(156.46 448.70) scale(0.93 1)">17</text>
<line x1="175.60" y1="426.50" x2="178.40" y2="426.50" stroke="#000" stroke-width="1.0" />
<text x="179.20" y="428.36" font-size="7.5" text-anchor="start" fill="#231f20" >19</text>
<line x1="164.50" y1="438.20" x2="164.50" y2="441.50" stroke="#000" stroke-width="1.0" />
<text font-size="8.7" text-anchor="middle" fill="#231f20" transform="translate(164.25 448.70) scale(0.93 1)">19</text>
<line x1="175.60" y1="434.50" x2="178.40" y2="434.50" stroke="#000" stroke-width="1.0" />
<text x="179.20" y="436.05" font-size="7.5" text-anchor="start" fill="#231f20" >20</text>
<line x1="171.50" y1="438.20" x2="171.50" y2="441.50" stroke="#000" stroke-width="1.0" />
<text font-size="8.7" text-anchor="middle" fill="#231f20" transform="translate(172.04 448.70) scale(0.93 1)">20</text>
<defs><linearGradient id="gc" x1="0" x2="1" y1="0" y2="0"><stop offset="0.000" stop-color="#053061"/><stop offset="0.050" stop-color="#134c87"/><stop offset="0.100" stop-color="#2267ac"/><stop offset="0.150" stop-color="#337eb8"/><stop offset="0.200" stop-color="#4393c3"/><stop offset="0.250" stop-color="#6bacd1"/><stop offset="0.300" stop-color="#93c6de"/><stop offset="0.350" stop-color="#b3d6e8"/><stop offset="0.400" stop-color="#d2e6f0"/><stop offset="0.450" stop-color="#e4eef4"/><stop offset="0.500" stop-color="#f7f6f6"/><stop offset="0.550" stop-color="#fae8de"/><stop offset="0.600" stop-color="#fdd9c4"/><stop offset="0.650" stop-color="#f8bda1"/><stop offset="0.700" stop-color="#f3a481"/><stop offset="0.750" stop-color="#e48066"/><stop offset="0.800" stop-color="#d55d4c"/><stop offset="0.850" stop-color="#c2383a"/><stop offset="0.900" stop-color="#ae172a"/><stop offset="0.950" stop-color="#8a0b25"/><stop offset="1.000" stop-color="#063264"/></linearGradient></defs>
<rect x="15.00" y="259.30" width="163.10" height="6.40" fill="url(#gc)" stroke="#000" stroke-width="0.9"/>
<line x1="46.10" y1="265.70" x2="46.10" y2="264.00" stroke="#000" stroke-width="0.9" />
<text x="46.10" y="273.40" font-size="7.6" text-anchor="middle" fill="#231f20" >1.0</text>
<line x1="96.10" y1="265.70" x2="96.10" y2="264.00" stroke="#000" stroke-width="0.9" />
<text x="96.10" y="273.40" font-size="7.6" text-anchor="middle" fill="#231f20" >1.5</text>
<line x1="146.10" y1="265.70" x2="146.10" y2="264.00" stroke="#000" stroke-width="0.9" />
<text x="146.10" y="273.40" font-size="7.6" text-anchor="middle" fill="#231f20" >2.0</text>
<text x="100.50" y="257.30" font-size="9.2" text-anchor="middle" fill="#231f20" >observed/expected Hi−C reads</text>
<rect x="13.30" y="452.90" width="8.08" height="7.50" fill="#0a0a0a" />
<rect x="21.03" y="452.90" width="8.08" height="7.50" fill="#1c1c1c" />
<rect x="28.76" y="452.90" width="8.08" height="7.50" fill="#2a2a2a" />
<rect x="36.49" y="452.90" width="8.08" height="7.50" fill="#2e2e2e" />
<rect x="44.21" y="452.90" width="8.08" height="7.50" fill="#323232" />
<rect x="51.94" y="452.90" width="8.08" height="7.50" fill="#353535" />
<rect x="59.67" y="452.90" width="8.08" height="7.50" fill="#373737" />
<rect x="67.40" y="452.90" width="8.08" height="7.50" fill="#393939" />
<rect x="75.13" y="452.90" width="8.08" height="7.50" fill="#3b3b3b" />
<rect x="82.86" y="452.90" width="8.08" height="7.50" fill="#3d3d3d" />
<rect x="90.59" y="452.90" width="8.08" height="7.50" fill="#404040" />
<rect x="98.31" y="452.90" width="8.08" height="7.50" fill="#424242" />
<rect x="106.04" y="452.90" width="8.08" height="7.50" fill="#454545" />
<rect x="113.77" y="452.90" width="8.08" height="7.50" fill="#484848" />
<rect x="121.50" y="452.90" width="8.08" height="7.50" fill="#4b4b4b" />
<rect x="129.23" y="452.90" width="8.08" height="7.50" fill="#4e4e4e" />
<rect x="136.96" y="452.90" width="8.08" height="7.50" fill="#525252" />
<rect x="144.69" y="452.90" width="8.08" height="7.50" fill="#bdbdbd" />
<rect x="152.41" y="452.90" width="8.08" height="7.50" fill="#c7c7c7" />
<rect x="160.14" y="452.90" width="8.08" height="7.50" fill="#d4d4d4" />
<rect x="167.87" y="452.90" width="8.08" height="7.50" fill="#ffffff" />
<rect x="13.30" y="452.9" width="162.30" height="7.5" fill="none" stroke="#000" stroke-width="0.8"/>
<text x="13.80" y="467.60" font-size="7.8" text-anchor="middle" fill="#231f20" >Max</text>
<text x="175.60" y="467.60" font-size="7.8" text-anchor="middle" fill="#231f20" >Min</text>
<text x="96.30" y="472.40" font-size="9.3" text-anchor="middle" fill="#231f20" >Length of pseudo−chromosome</text>
<rect x="243.00" y="323.70" width="15.87" height="14.80" fill="#bebebe" />
<rect x="258.57" y="323.70" width="15.87" height="14.80" fill="#fddcc9" />
<rect x="274.13" y="323.70" width="15.87" height="14.80" fill="#f7b596" />
<rect x="289.70" y="323.70" width="15.87" height="14.80" fill="#edf2f5" />
<rect x="305.27" y="323.70" width="15.87" height="14.80" fill="#eaf1f5" />
<rect x="320.83" y="323.70" width="15.87" height="14.80" fill="#a9d1e5" />
<rect x="336.40" y="323.70" width="15.87" height="14.80" fill="#b3d6e8" />
<rect x="351.97" y="323.70" width="15.87" height="14.80" fill="#aed3e6" />
<rect x="367.53" y="323.70" width="15.87" height="14.80" fill="#e6eff4" />
<rect x="243.00" y="338.20" width="15.87" height="14.80" fill="#fddcc9" />
<rect x="258.57" y="338.20" width="15.87" height="14.80" fill="#bebebe" />
<rect x="274.13" y="338.20" width="15.87" height="14.80" fill="#d55d4c" />
<rect x="289.70" y="338.20" width="15.87" height="14.80" fill="#fddcc9" />
<rect x="305.27" y="338.20" width="15.87" height="14.80" fill="#fddcc9" />
<rect x="320.83" y="338.20" width="15.87" height="14.80" fill="#98c8e0" />
<rect x="336.40" y="338.20" width="15.87" height="14.80" fill="#98c8e0" />
<rect x="351.97" y="338.20" width="15.87" height="14.80" fill="#b3d6e8" />
<rect x="367.53" y="338.20" width="15.87" height="14.80" fill="#e0ecf3" />
<rect x="243.00" y="352.70" width="15.87" height="14.80" fill="#f7b596" />
<rect x="258.57" y="352.70" width="15.87" height="14.80" fill="#d55d4c" />
<rect x="274.13" y="352.70" width="15.87" height="14.80" fill="#bebebe" />
<rect x="289.70" y="352.70" width="15.87" height="14.80" fill="#f3a481" />
<rect x="305.27" y="352.70" width="15.87" height="14.80" fill="#f7b596" />
<rect x="320.83" y="352.70" width="15.87" height="14.80" fill="#d2e6f0" />
<rect x="336.40" y="352.70" width="15.87" height="14.80" fill="#cae1ee" />
<rect x="351.97" y="352.70" width="15.87" height="14.80" fill="#eaf1f5" />
<rect x="367.53" y="352.70" width="15.87" height="14.80" fill="#f2f5f6" />
<rect x="243.00" y="367.20" width="15.87" height="14.80" fill="#edf2f5" />
<rect x="258.57" y="367.20" width="15.87" height="14.80" fill="#fddcc9" />
<rect x="274.13" y="367.20" width="15.87" height="14.80" fill="#f3a481" />
<rect x="289.70" y="367.20" width="15.87" height="14.80" fill="#bebebe" />
<rect x="305.27" y="367.20" width="15.87" height="14.80" fill="#fae7dc" />
<rect x="320.83" y="367.20" width="15.87" height="14.80" fill="#7eb8d7" />
<rect x="336.40" y="367.20" width="15.87" height="14.80" fill="#6bacd1" />
<rect x="351.97" y="367.20" width="15.87" height="14.80" fill="#e0ecf3" />
<rect x="367.53" y="367.20" width="15.87" height="14.80" fill="#cae1ee" />
<rect x="243.00" y="381.70" width="15.87" height="14.80" fill="#eaf1f5" />
<rect x="258.57" y="381.70" width="15.87" height="14.80" fill="#fddcc9" />
<rect x="274.13" y="381.70" width="15.87" height="14.80" fill="#f7b596" />
<rect x="289.70" y="381.70" width="15.87" height="14.80" fill="#fae7dc" />
<rect x="305.27" y="381.70" width="15.87" height="14.80" fill="#bebebe" />
<rect x="320.83" y="381.70" width="15.87" height="14.80" fill="#569fc9" />
<rect x="336.40" y="381.70" width="15.87" height="14.80" fill="#4f9bc7" />
<rect x="351.97" y="381.70" width="15.87" height="14.80" fill="#8dc2dc" />
<rect x="367.53" y="381.70" width="15.87" height="14.80" fill="#a2cde3" />
<rect x="243.00" y="396.20" width="15.87" height="14.80" fill="#a9d1e5" />
<rect x="258.57" y="396.20" width="15.87" height="14.80" fill="#98c8e0" />
<rect x="274.13" y="396.20" width="15.87" height="14.80" fill="#d2e6f0" />
<rect x="289.70" y="396.20" width="15.87" height="14.80" fill="#7eb8d7" />
<rect x="305.27" y="396.20" width="15.87" height="14.80" fill="#569fc9" />
<rect x="320.83" y="396.20" width="15.87" height="14.80" fill="#bebebe" />
<rect x="336.40" y="396.20" width="15.87" height="14.80" fill="#fddcc9" />
<rect x="351.97" y="396.20" width="15.87" height="14.80" fill="#cfe4ef" />
<rect x="367.53" y="396.20" width="15.87" height="14.80" fill="#98c8e0" />
<rect x="243.00" y="410.70" width="15.87" height="14.80" fill="#b3d6e8" />
<rect x="258.57" y="410.70" width="15.87" height="14.80" fill="#98c8e0" />
<rect x="274.13" y="410.70" width="15.87" height="14.80" fill="#cae1ee" />
<rect x="289.70" y="410.70" width="15.87" height="14.80" fill="#6bacd1" />
<rect x="305.27" y="410.70" width="15.87" height="14.80" fill="#4f9bc7" />
<rect x="320.83" y="410.70" width="15.87" height="14.80" fill="#fddcc9" />
<rect x="336.40" y="410.70" width="15.87" height="14.80" fill="#bebebe" />
<rect x="351.97" y="410.70" width="15.87" height="14.80" fill="#9dcbe1" />
<rect x="367.53" y="410.70" width="15.87" height="14.80" fill="#a9d1e5" />
<rect x="243.00" y="425.20" width="15.87" height="14.80" fill="#aed3e6" />
<rect x="258.57" y="425.20" width="15.87" height="14.80" fill="#b3d6e8" />
<rect x="274.13" y="425.20" width="15.87" height="14.80" fill="#eaf1f5" />
<rect x="289.70" y="425.20" width="15.87" height="14.80" fill="#e0ecf3" />
<rect x="305.27" y="425.20" width="15.87" height="14.80" fill="#8dc2dc" />
<rect x="320.83" y="425.20" width="15.87" height="14.80" fill="#cfe4ef" />
<rect x="336.40" y="425.20" width="15.87" height="14.80" fill="#9dcbe1" />
<rect x="351.97" y="425.20" width="15.87" height="14.80" fill="#bebebe" />
<rect x="367.53" y="425.20" width="15.87" height="14.80" fill="#dae9f2" />
<rect x="243.00" y="439.70" width="15.87" height="14.80" fill="#e6eff4" />
<rect x="258.57" y="439.70" width="15.87" height="14.80" fill="#e0ecf3" />
<rect x="274.13" y="439.70" width="15.87" height="14.80" fill="#f2f5f6" />
<rect x="289.70" y="439.70" width="15.87" height="14.80" fill="#cae1ee" />
<rect x="305.27" y="439.70" width="15.87" height="14.80" fill="#a2cde3" />
<rect x="320.83" y="439.70" width="15.87" height="14.80" fill="#98c8e0" />
<rect x="336.40" y="439.70" width="15.87" height="14.80" fill="#a9d1e5" />
<rect x="351.97" y="439.70" width="15.87" height="14.80" fill="#dae9f2" />
<rect x="367.53" y="439.70" width="15.87" height="14.80" fill="#bebebe" />
<rect x="243.00" y="311.80" width="15.57" height="11.10" fill="#a6cee3" stroke="#3a3a3a" stroke-width="0.6"/>
<rect x="258.57" y="311.80" width="15.57" height="11.10" fill="#1f78b4" stroke="#3a3a3a" stroke-width="0.6"/>
<rect x="274.13" y="311.80" width="15.57" height="11.10" fill="#b2df8a" stroke="#3a3a3a" stroke-width="0.6"/>
<rect x="289.70" y="311.80" width="15.57" height="11.10" fill="#33a02c" stroke="#3a3a3a" stroke-width="0.6"/>
<rect x="305.27" y="311.80" width="15.57" height="11.10" fill="#fb9a99" stroke="#3a3a3a" stroke-width="0.6"/>
<rect x="320.83" y="311.80" width="15.57" height="11.10" fill="#e31a1c" stroke="#3a3a3a" stroke-width="0.6"/>
<rect x="336.40" y="311.80" width="15.57" height="11.10" fill="#fdbf6f" stroke="#3a3a3a" stroke-width="0.6"/>
<rect x="351.97" y="311.80" width="15.57" height="11.10" fill="#ff7f00" stroke="#3a3a3a" stroke-width="0.6"/>
<rect x="367.53" y="311.80" width="15.57" height="11.10" fill="#cab2d6" stroke="#3a3a3a" stroke-width="0.6"/>
<text x="255.38" y="458.50" font-size="9.5" text-anchor="end" fill="#231f20" transform="rotate(-45 255.38 458.50)">Lung</text>
<text x="270.95" y="458.50" font-size="9.5" text-anchor="end" fill="#231f20" transform="rotate(-45 270.95 458.50)">Subcutaneous adipose</text>
<text x="286.52" y="458.50" font-size="9.5" text-anchor="end" fill="#231f20" transform="rotate(-45 286.52 458.50)">Visceral adipose</text>
<text x="302.08" y="458.50" font-size="9.5" text-anchor="end" fill="#231f20" transform="rotate(-45 302.08 458.50)">Heart</text>
<text x="317.65" y="458.50" font-size="9.5" text-anchor="end" fill="#231f20" transform="rotate(-45 317.65 458.50)">Muscle</text>
<text x="333.22" y="458.50" font-size="9.5" text-anchor="end" fill="#231f20" transform="rotate(-45 333.22 458.50)">Large intestine</text>
<text x="348.78" y="458.50" font-size="9.5" text-anchor="end" fill="#231f20" transform="rotate(-45 348.78 458.50)">Small intestine</text>
<text x="364.35" y="458.50" font-size="9.5" text-anchor="end" fill="#231f20" transform="rotate(-45 364.35 458.50)">Kidney</text>
<text x="379.92" y="458.50" font-size="9.5" text-anchor="end" fill="#231f20" transform="rotate(-45 379.92 458.50)">Liver</text>
<polyline points="266.35,311.80 266.35,304.50 281.92,304.50 281.92,311.80" fill="none" stroke="#111" stroke-width="1.05"/>
<polyline points="250.78,311.80 250.78,297.20 274.13,297.20 274.13,304.50" fill="none" stroke="#111" stroke-width="1.05"/>
<polyline points="297.48,311.80 297.48,304.50 313.05,304.50 313.05,311.80" fill="none" stroke="#111" stroke-width="1.05"/>
<polyline points="262.46,297.20 262.46,283.30 305.27,283.30 305.27,304.50" fill="none" stroke="#111" stroke-width="1.05"/>
<polyline points="328.62,311.80 328.62,304.50 344.18,304.50 344.18,311.80" fill="none" stroke="#111" stroke-width="1.05"/>
<polyline points="359.75,311.80 359.75,304.50 375.32,304.50 375.32,311.80" fill="none" stroke="#111" stroke-width="1.05"/>
<polyline points="336.40,304.50 336.40,290.10 367.53,290.10 367.53,304.50" fill="none" stroke="#111" stroke-width="1.05"/>
<polyline points="283.86,283.30 283.86,255.40 351.97,255.40 351.97,290.10" fill="none" stroke="#111" stroke-width="1.05"/>
<polyline points="383.10,345.45 386.30,345.45 386.30,359.95 383.10,359.95" fill="none" stroke="#111" stroke-width="1.05"/>
<polyline points="383.10,330.95 390.70,330.95 390.70,352.70 386.30,352.70" fill="none" stroke="#111" stroke-width="1.05"/>
<polyline points="383.10,374.45 386.30,374.45 386.30,388.95 383.10,388.95" fill="none" stroke="#111" stroke-width="1.05"/>
<polyline points="390.70,341.82 397.40,341.82 397.40,381.70 386.30,381.70" fill="none" stroke="#111" stroke-width="1.05"/>
<polyline points="383.10,403.45 386.50,403.45 386.50,417.95 383.10,417.95" fill="none" stroke="#111" stroke-width="1.05"/>
<polyline points="383.10,432.45 386.50,432.45 386.50,446.95 383.10,446.95" fill="none" stroke="#111" stroke-width="1.05"/>
<polyline points="386.50,410.70 393.30,410.70 393.30,439.70 386.50,439.70" fill="none" stroke="#111" stroke-width="1.05"/>
<polyline points="397.40,361.76 411.50,361.76 411.50,425.20 393.30,425.20" fill="none" stroke="#111" stroke-width="1.05"/>
<defs><linearGradient id="gd" x1="0" x2="0" y1="0" y2="1"><stop offset="0.000" stop-color="#cf5246"/><stop offset="0.033" stop-color="#d6604d"/><stop offset="0.067" stop-color="#dd7059"/><stop offset="0.100" stop-color="#e37e64"/><stop offset="0.133" stop-color="#ea8e70"/><stop offset="0.167" stop-color="#f09c7b"/><stop offset="0.200" stop-color="#f5aa89"/><stop offset="0.233" stop-color="#f7b596"/><stop offset="0.267" stop-color="#f9c2a7"/><stop offset="0.300" stop-color="#fbccb4"/><stop offset="0.333" stop-color="#fdd9c4"/><stop offset="0.367" stop-color="#fce0d0"/><stop offset="0.400" stop-color="#fbe6da"/><stop offset="0.433" stop-color="#f9ede5"/><stop offset="0.467" stop-color="#f8f2ef"/><stop offset="0.500" stop-color="#f5f6f7"/><stop offset="0.533" stop-color="#edf2f5"/><stop offset="0.567" stop-color="#e4eef4"/><stop offset="0.600" stop-color="#ddebf2"/><stop offset="0.633" stop-color="#d4e6f1"/><stop offset="0.667" stop-color="#cae1ee"/><stop offset="0.700" stop-color="#bbdaea"/><stop offset="0.733" stop-color="#acd2e5"/><stop offset="0.767" stop-color="#a0cce2"/><stop offset="0.800" stop-color="#90c4dd"/><stop offset="0.833" stop-color="#81bad8"/><stop offset="0.867" stop-color="#6eaed2"/><stop offset="0.900" stop-color="#5fa5cd"/><stop offset="0.933" stop-color="#4c99c6"/><stop offset="0.967" stop-color="#408fc1"/><stop offset="1.000" stop-color="#3885bc"/></linearGradient></defs>
<rect x="422.00" y="275.20" width="8.80" height="67.20" fill="url(#gd)" stroke="#222" stroke-width="0.9"/>
<line x1="430.80" y1="281.60" x2="432.40" y2="281.60" stroke="#000" stroke-width="0.9" />
<text x="433.60" y="284.90" font-size="9" text-anchor="start" fill="#231f20" >0.76</text>
<line x1="430.80" y1="291.40" x2="432.40" y2="291.40" stroke="#000" stroke-width="0.9" />
<text x="433.60" y="294.70" font-size="9" text-anchor="start" fill="#231f20" >0.74</text>
<line x1="430.80" y1="301.20" x2="432.40" y2="301.20" stroke="#000" stroke-width="0.9" />
<text x="433.60" y="304.50" font-size="9" text-anchor="start" fill="#231f20" >0.72</text>
<line x1="430.80" y1="311.00" x2="432.40" y2="311.00" stroke="#000" stroke-width="0.9" />
<text x="433.60" y="314.30" font-size="9" text-anchor="start" fill="#231f20" >0.70</text>
<line x1="430.80" y1="320.80" x2="432.40" y2="320.80" stroke="#000" stroke-width="0.9" />
<text x="433.60" y="324.10" font-size="9" text-anchor="start" fill="#231f20" >0.68</text>
<line x1="430.80" y1="330.60" x2="432.40" y2="330.60" stroke="#000" stroke-width="0.9" />
<text x="433.60" y="333.90" font-size="9" text-anchor="start" fill="#231f20" >0.66</text>
<line x1="430.80" y1="340.40" x2="432.40" y2="340.40" stroke="#000" stroke-width="0.9" />
<text x="433.60" y="343.70" font-size="9" text-anchor="start" fill="#231f20" >0.64</text>
<text font-size="9" fill="#231f20" text-anchor="middle" transform="translate(408.1 307.4) rotate(-90)"><tspan x="0" y="0">Stratum adjusted</tspan><tspan x="0" y="10.4">correlation coefficient</tspan></text>
<rect x="466.10" y="323.30" width="14.67" height="13.62" fill="#bebebe" />
<rect x="480.47" y="323.30" width="14.67" height="13.62" fill="#df765e" />
<rect x="494.83" y="323.30" width="14.67" height="13.62" fill="#a0cce2" />
<rect x="509.20" y="323.30" width="14.67" height="13.62" fill="#f3f5f6" />
<rect x="523.57" y="323.30" width="14.67" height="13.62" fill="#d7e8f1" />
<rect x="537.93" y="323.30" width="14.67" height="13.62" fill="#fae7dc" />
<rect x="552.30" y="323.30" width="14.67" height="13.62" fill="#fae8de" />
<rect x="566.67" y="323.30" width="14.67" height="13.62" fill="#f8f2ef" />
<rect x="581.03" y="323.30" width="14.67" height="13.62" fill="#f3f5f6" />
<rect x="466.10" y="336.62" width="14.67" height="13.62" fill="#df765e" />
<rect x="480.47" y="336.62" width="14.67" height="13.62" fill="#bebebe" />
<rect x="494.83" y="336.62" width="14.67" height="13.62" fill="#408fc1" />
<rect x="509.20" y="336.62" width="14.67" height="13.62" fill="#c5dfec" />
<rect x="523.57" y="336.62" width="14.67" height="13.62" fill="#87beda" />
<rect x="537.93" y="336.62" width="14.67" height="13.62" fill="#dae9f2" />
<rect x="552.30" y="336.62" width="14.67" height="13.62" fill="#d7e8f1" />
<rect x="566.67" y="336.62" width="14.67" height="13.62" fill="#bddbea" />
<rect x="581.03" y="336.62" width="14.67" height="13.62" fill="#b1d5e7" />
<rect x="466.10" y="349.94" width="14.67" height="13.62" fill="#a0cce2" />
<rect x="480.47" y="349.94" width="14.67" height="13.62" fill="#408fc1" />
<rect x="494.83" y="349.94" width="14.67" height="13.62" fill="#bebebe" />
<rect x="509.20" y="349.94" width="14.67" height="13.62" fill="#d7e8f1" />
<rect x="523.57" y="349.94" width="14.67" height="13.62" fill="#cae1ee" />
<rect x="537.93" y="349.94" width="14.67" height="13.62" fill="#eff3f5" />
<rect x="552.30" y="349.94" width="14.67" height="13.62" fill="#eff3f5" />
<rect x="566.67" y="349.94" width="14.67" height="13.62" fill="#f0f4f6" />
<rect x="581.03" y="349.94" width="14.67" height="13.62" fill="#f0f4f6" />
<rect x="466.10" y="363.27" width="14.67" height="13.62" fill="#f3f5f6" />
<rect x="480.47" y="363.27" width="14.67" height="13.62" fill="#c5dfec" />
<rect x="494.83" y="363.27" width="14.67" height="13.62" fill="#d7e8f1" />
<rect x="509.20" y="363.27" width="14.67" height="13.62" fill="#bebebe" />
<rect x="523.57" y="363.27" width="14.67" height="13.62" fill="#ef9979" />
<rect x="537.93" y="363.27" width="14.67" height="13.62" fill="#f7b99c" />
<rect x="552.30" y="363.27" width="14.67" height="13.62" fill="#f7b99c" />
<rect x="566.67" y="363.27" width="14.67" height="13.62" fill="#f6af8e" />
<rect x="581.03" y="363.27" width="14.67" height="13.62" fill="#f7b99c" />
<rect x="466.10" y="376.59" width="14.67" height="13.62" fill="#d7e8f1" />
<rect x="480.47" y="376.59" width="14.67" height="13.62" fill="#87beda" />
<rect x="494.83" y="376.59" width="14.67" height="13.62" fill="#cae1ee" />
<rect x="509.20" y="376.59" width="14.67" height="13.62" fill="#ef9979" />
<rect x="523.57" y="376.59" width="14.67" height="13.62" fill="#bebebe" />
<rect x="537.93" y="376.59" width="14.67" height="13.62" fill="#fcd3bc" />
<rect x="552.30" y="376.59" width="14.67" height="13.62" fill="#fcd3bc" />
<rect x="566.67" y="376.59" width="14.67" height="13.62" fill="#fcd3bc" />
<rect x="581.03" y="376.59" width="14.67" height="13.62" fill="#fbceb7" />
<rect x="466.10" y="389.91" width="14.67" height="13.62" fill="#fae7dc" />
<rect x="480.47" y="389.91" width="14.67" height="13.62" fill="#dae9f2" />
<rect x="494.83" y="389.91" width="14.67" height="13.62" fill="#eff3f5" />
<rect x="509.20" y="389.91" width="14.67" height="13.62" fill="#f7b99c" />
<rect x="523.57" y="389.91" width="14.67" height="13.62" fill="#fcd3bc" />
<rect x="537.93" y="389.91" width="14.67" height="13.62" fill="#bebebe" />
<rect x="552.30" y="389.91" width="14.67" height="13.62" fill="#d7634f" />
<rect x="566.67" y="389.91" width="14.67" height="13.62" fill="#f3a481" />
<rect x="581.03" y="389.91" width="14.67" height="13.62" fill="#ef9979" />
<rect x="466.10" y="403.23" width="14.67" height="13.62" fill="#fae8de" />
<rect x="480.47" y="403.23" width="14.67" height="13.62" fill="#d7e8f1" />
<rect x="494.83" y="403.23" width="14.67" height="13.62" fill="#eff3f5" />
<rect x="509.20" y="403.23" width="14.67" height="13.62" fill="#f7b99c" />
<rect x="523.57" y="403.23" width="14.67" height="13.62" fill="#fcd3bc" />
<rect x="537.93" y="403.23" width="14.67" height="13.62" fill="#d7634f" />
<rect x="552.30" y="403.23" width="14.67" height="13.62" fill="#bebebe" />
<rect x="566.67" y="403.23" width="14.67" height="13.62" fill="#f3a481" />
<rect x="581.03" y="403.23" width="14.67" height="13.62" fill="#ef9979" />
<rect x="466.10" y="416.56" width="14.67" height="13.62" fill="#f8f2ef" />
<rect x="480.47" y="416.56" width="14.67" height="13.62" fill="#bddbea" />
<rect x="494.83" y="416.56" width="14.67" height="13.62" fill="#f0f4f6" />
<rect x="509.20" y="416.56" width="14.67" height="13.62" fill="#f6af8e" />
<rect x="523.57" y="416.56" width="14.67" height="13.62" fill="#fcd3bc" />
<rect x="537.93" y="416.56" width="14.67" height="13.62" fill="#f3a481" />
<rect x="552.30" y="416.56" width="14.67" height="13.62" fill="#f3a481" />
<rect x="566.67" y="416.56" width="14.67" height="13.62" fill="#bebebe" />
<rect x="581.03" y="416.56" width="14.67" height="13.62" fill="#e37e64" />
<rect x="466.10" y="429.88" width="14.67" height="13.62" fill="#f3f5f6" />
<rect x="480.47" y="429.88" width="14.67" height="13.62" fill="#b1d5e7" />
<rect x="494.83" y="429.88" width="14.67" height="13.62" fill="#f0f4f6" />
<rect x="509.20" y="429.88" width="14.67" height="13.62" fill="#f7b99c" />
<rect x="523.57" y="429.88" width="14.67" height="13.62" fill="#fbceb7" />
<rect x="537.93" y="429.88" width="14.67" height="13.62" fill="#ef9979" />
<rect x="552.30" y="429.88" width="14.67" height="13.62" fill="#ef9979" />
<rect x="566.67" y="429.88" width="14.67" height="13.62" fill="#e37e64" />
<rect x="581.03" y="429.88" width="14.67" height="13.62" fill="#bebebe" />
<rect x="466.10" y="312.20" width="14.37" height="10.40" fill="#a6cee3" stroke="#3a3a3a" stroke-width="0.6"/>
<rect x="480.47" y="312.20" width="14.37" height="10.40" fill="#1f78b4" stroke="#3a3a3a" stroke-width="0.6"/>
<rect x="494.83" y="312.20" width="14.37" height="10.40" fill="#b2df8a" stroke="#3a3a3a" stroke-width="0.6"/>
<rect x="509.20" y="312.20" width="14.37" height="10.40" fill="#33a02c" stroke="#3a3a3a" stroke-width="0.6"/>
<rect x="523.57" y="312.20" width="14.37" height="10.40" fill="#fb9a99" stroke="#3a3a3a" stroke-width="0.6"/>
<rect x="537.93" y="312.20" width="14.37" height="10.40" fill="#e31a1c" stroke="#3a3a3a" stroke-width="0.6"/>
<rect x="552.30" y="312.20" width="14.37" height="10.40" fill="#fdbf6f" stroke="#3a3a3a" stroke-width="0.6"/>
<rect x="566.67" y="312.20" width="14.37" height="10.40" fill="#ff7f00" stroke="#3a3a3a" stroke-width="0.6"/>
<rect x="581.03" y="312.20" width="14.37" height="10.40" fill="#cab2d6" stroke="#3a3a3a" stroke-width="0.6"/>
<text x="476.28" y="447.70" font-size="9.7" text-anchor="end" fill="#231f20" transform="rotate(-45 476.28 447.70)">Subcutaneous adipose</text>
<text x="490.65" y="447.70" font-size="9.7" text-anchor="end" fill="#231f20" transform="rotate(-45 490.65 447.70)">Visceral adipose</text>
<text x="505.02" y="447.70" font-size="9.7" text-anchor="end" fill="#231f20" transform="rotate(-45 505.02 447.70)">Liver</text>
<text x="519.38" y="447.70" font-size="9.7" text-anchor="end" fill="#231f20" transform="rotate(-45 519.38 447.70)">Heart</text>
<text x="533.75" y="447.70" font-size="9.7" text-anchor="end" fill="#231f20" transform="rotate(-45 533.75 447.70)">Muscle</text>
<text x="548.12" y="447.70" font-size="9.7" text-anchor="end" fill="#231f20" transform="rotate(-45 548.12 447.70)">Large intestine</text>
<text x="562.48" y="447.70" font-size="9.7" text-anchor="end" fill="#231f20" transform="rotate(-45 562.48 447.70)">Small intestine</text>
<text x="576.85" y="447.70" font-size="9.7" text-anchor="end" fill="#231f20" transform="rotate(-45 576.85 447.70)">Kidney</text>
<text x="591.22" y="447.70" font-size="9.7" text-anchor="end" fill="#231f20" transform="rotate(-45 591.22 447.70)">Lung</text>
<polyline points="473.28,312.20 473.28,305.30 487.65,305.30 487.65,312.20" fill="none" stroke="#111" stroke-width="1.05"/>
<polyline points="516.38,312.20 516.38,305.30 530.75,305.30 530.75,312.20" fill="none" stroke="#111" stroke-width="1.05"/>
<polyline points="545.12,312.20 545.12,305.30 559.48,305.30 559.48,312.20" fill="none" stroke="#111" stroke-width="1.05"/>
<polyline points="573.85,312.20 573.85,305.30 588.22,305.30 588.22,312.20" fill="none" stroke="#111" stroke-width="1.05"/>
<polyline points="552.30,305.30 552.30,292.00 581.03,292.00 581.03,305.30" fill="none" stroke="#111" stroke-width="1.05"/>
<polyline points="523.57,305.30 523.57,279.50 566.67,279.50 566.67,292.00" fill="none" stroke="#111" stroke-width="1.05"/>
<polyline points="502.02,312.20 502.02,272.80 545.12,272.80 545.12,279.50" fill="none" stroke="#111" stroke-width="1.05"/>
<polyline points="480.47,305.30 480.47,259.80 523.57,259.80 523.57,272.80" fill="none" stroke="#111" stroke-width="1.05"/>
<polyline points="595.30,329.96 598.70,329.96 598.70,343.28 595.30,343.28" fill="none" stroke="#111" stroke-width="1.05"/>
<polyline points="595.30,369.93 598.70,369.93 598.70,383.25 595.30,383.25" fill="none" stroke="#111" stroke-width="1.05"/>
<polyline points="595.30,396.57 598.70,396.57 598.70,409.89 595.30,409.89" fill="none" stroke="#111" stroke-width="1.05"/>
<polyline points="595.30,423.22 598.70,423.22 598.70,436.54 595.30,436.54" fill="none" stroke="#111" stroke-width="1.05"/>
<polyline points="598.70,403.23 605.40,403.23 605.40,429.88 598.70,429.88" fill="none" stroke="#111" stroke-width="1.05"/>
<polyline points="598.70,376.59 611.80,376.59 611.80,416.56 605.40,416.56" fill="none" stroke="#111" stroke-width="1.05"/>
<polyline points="595.30,356.61 615.00,356.61 615.00,396.57 611.80,396.57" fill="none" stroke="#111" stroke-width="1.05"/>
<polyline points="598.70,336.62 621.70,336.62 621.70,376.59 615.00,376.59" fill="none" stroke="#111" stroke-width="1.05"/>
<defs><linearGradient id="ge" x1="0" x2="0" y1="0" y2="1"><stop offset="0.000" stop-color="#d25849"/><stop offset="0.033" stop-color="#da6853"/><stop offset="0.067" stop-color="#df765e"/><stop offset="0.100" stop-color="#e58368"/><stop offset="0.133" stop-color="#ec9374"/><stop offset="0.167" stop-color="#f2a17f"/><stop offset="0.200" stop-color="#f6af8e"/><stop offset="0.233" stop-color="#f7b99c"/><stop offset="0.267" stop-color="#f9c6ac"/><stop offset="0.300" stop-color="#fbd0b9"/><stop offset="0.333" stop-color="#fddcc9"/><stop offset="0.367" stop-color="#fce2d2"/><stop offset="0.400" stop-color="#fae8de"/><stop offset="0.433" stop-color="#f9eee7"/><stop offset="0.467" stop-color="#f8f4f2"/><stop offset="0.500" stop-color="#f3f5f6"/><stop offset="0.533" stop-color="#eaf1f5"/><stop offset="0.567" stop-color="#e3edf3"/><stop offset="0.600" stop-color="#dae9f2"/><stop offset="0.633" stop-color="#d2e6f0"/><stop offset="0.667" stop-color="#c7e0ed"/><stop offset="0.700" stop-color="#b8d8e9"/><stop offset="0.733" stop-color="#acd2e5"/><stop offset="0.767" stop-color="#9dcbe1"/><stop offset="0.800" stop-color="#90c4dd"/><stop offset="0.833" stop-color="#7eb8d7"/><stop offset="0.867" stop-color="#6eaed2"/><stop offset="0.900" stop-color="#5ca3cb"/><stop offset="0.933" stop-color="#4c99c6"/><stop offset="0.967" stop-color="#3f8ec0"/><stop offset="1.000" stop-color="#3885bc"/></linearGradient></defs>
<rect x="618.70" y="270.50" width="7.80" height="55.90" fill="url(#ge)" stroke="#222" stroke-width="0.9"/>
<line x1="626.50" y1="271.40" x2="628.10" y2="271.40" stroke="#000" stroke-width="0.9" />
<text x="629.30" y="274.70" font-size="9" text-anchor="start" fill="#231f20" >1.00</text>
<line x1="626.50" y1="286.43" x2="628.10" y2="286.43" stroke="#000" stroke-width="0.9" />
<text x="629.30" y="289.73" font-size="9" text-anchor="start" fill="#231f20" >0.95</text>
<line x1="626.50" y1="301.46" x2="628.10" y2="301.46" stroke="#000" stroke-width="0.9" />
<text x="629.30" y="304.76" font-size="9" text-anchor="start" fill="#231f20" >0.90</text>
<line x1="626.50" y1="316.49" x2="628.10" y2="316.49" stroke="#000" stroke-width="0.9" />
<text x="629.30" y="319.79" font-size="9" text-anchor="start" fill="#231f20" >0.85</text>
<text font-size="9" fill="#231f20" text-anchor="middle" transform="translate(614.0 298.3) rotate(-90)">Pearson's <tspan font-style="italic">r</tspan></text>
</svg></body></html>
